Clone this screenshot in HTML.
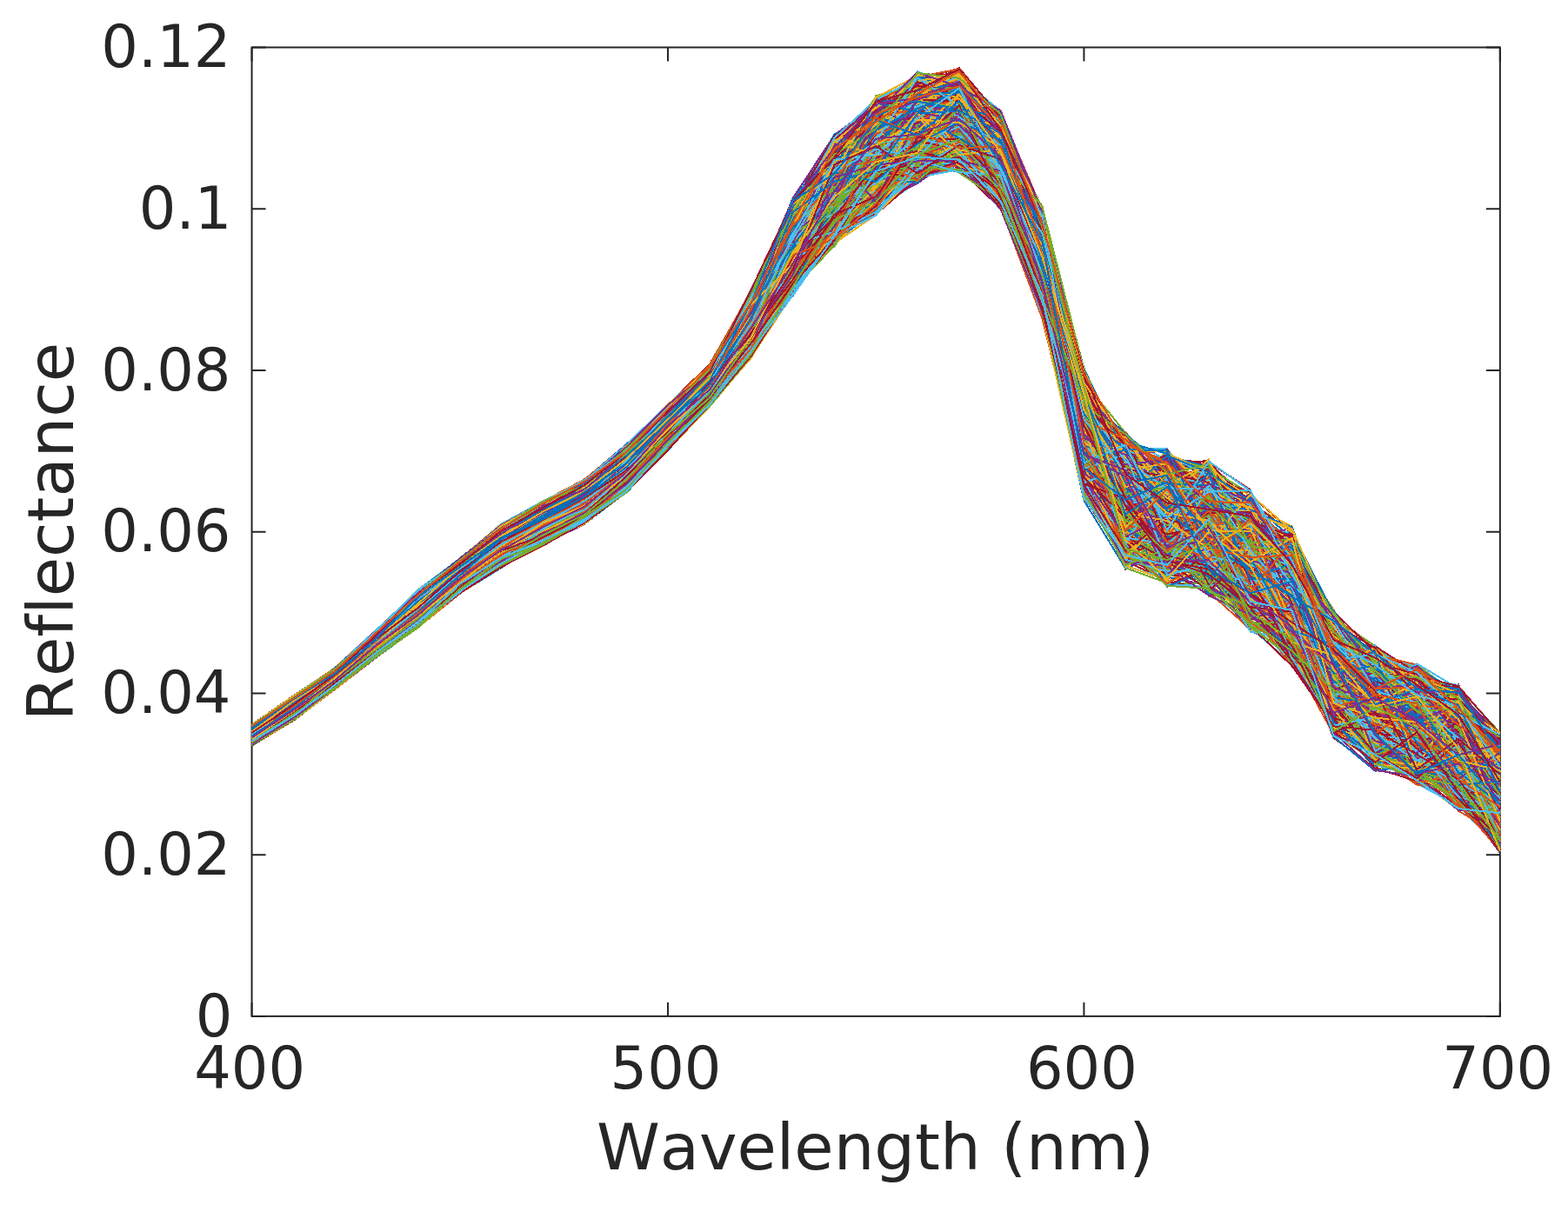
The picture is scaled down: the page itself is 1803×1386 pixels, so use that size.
<!DOCTYPE html>
<html><head><meta charset="utf-8"><style>
html,body{margin:0;padding:0;background:#fff;width:1803px;height:1386px;overflow:hidden;}
svg{display:block;}
text{font-family:"DejaVu Sans","Liberation Sans",sans-serif;fill:#262626;font-variant-ligatures:none;font-kerning:none;font-feature-settings:"liga" 0,"clig" 0,"kern" 0;}
</style></head><body>
<svg width="1803" height="1386" viewBox="0 0 1803 1386">
<defs><clipPath id="c"><rect x="288.55" y="53.50" width="1437.30" height="1116.40"/></clipPath></defs>
<rect width="1803" height="1386" fill="#fff"/>
<path d="M289.55 1168.90H305.55M1724.85 1168.90H1708.85M289.55 983.17H305.55M1724.85 983.17H1708.85M289.55 797.43H305.55M1724.85 797.43H1708.85M289.55 611.70H305.55M1724.85 611.70H1708.85M289.55 425.97H305.55M1724.85 425.97H1708.85M289.55 240.23H305.55M1724.85 240.23H1708.85M289.55 54.50H305.55M1724.85 54.50H1708.85M289.55 1168.90V1152.90M289.55 54.50V70.50M767.98 1168.90V1152.90M767.98 54.50V70.50M1246.42 1168.90V1152.90M1246.42 54.50V70.50M1724.85 1168.90V1152.90M1724.85 54.50V70.50" stroke="#262626" stroke-width="2" fill="none"/>
<rect x="289.55" y="54.50" width="1435.30" height="1114.40" fill="none" stroke="#262626" stroke-width="2"/>
<g fill="none" stroke-width="2.0" stroke-linejoin="miter" shape-rendering="crispEdges" clip-path="url(#c)">
<polyline points="289.6,836.9 337.4,805.8 385.2,771.6 433.1,728.3 480.9,683.7 528.8,650.6 576.6,609.3 624.5,580.9 672.3,555.3 720.1,515.3 768.0,475.8 815.8,420.8 863.7,340.0 911.5,257.2 959.4,204.6 1007.2,130.0 1055.0,117.1 1102.9,112.8 1150.7,162.7 1198.6,253.4 1246.4,511.3 1294.3,534.1 1342.1,605.0 1389.9,537.6 1437.8,626.6 1485.6,612.6 1533.5,705.7 1581.3,785.4 1629.2,775.0 1677.0,828.2 1724.8,847.6" stroke="#0072BD"/>
<polyline points="289.6,839.0 337.4,805.3 385.2,771.2 433.1,730.3 480.9,688.7 528.8,648.0 576.6,613.9 624.5,592.0 672.3,564.5 720.1,523.6 768.0,474.5 815.8,432.2 863.7,341.6 911.5,228.8 959.4,178.7 1007.2,127.4 1055.0,161.0 1102.9,116.4 1150.7,144.3 1198.6,260.4 1246.4,495.2 1294.3,524.8 1342.1,552.7 1389.9,584.0 1437.8,622.1 1485.6,671.6 1533.5,757.5 1581.3,845.0 1629.2,870.4 1677.0,800.4 1724.8,969.0" stroke="#D95319"/>
<polyline points="289.6,851.6 337.4,823.1 385.2,785.5 433.1,748.0 480.9,711.0 528.8,672.8 576.6,642.6 624.5,617.1 672.3,587.9 720.1,552.6 768.0,507.9 815.8,458.1 863.7,391.6 911.5,307.4 959.4,249.9 1007.2,188.6 1055.0,147.9 1102.9,192.9 1150.7,210.9 1198.6,343.6 1246.4,510.4 1294.3,644.8 1342.1,669.3 1389.9,640.2 1437.8,704.0 1485.6,699.1 1533.5,845.5 1581.3,874.5 1629.2,842.7 1677.0,923.1 1724.8,954.6" stroke="#EDB120"/>
<polyline points="289.6,847.8 337.4,816.7 385.2,781.1 433.1,740.4 480.9,704.3 528.8,664.0 576.6,627.6 624.5,611.5 672.3,579.5 720.1,540.8 768.0,493.5 815.8,449.0 863.7,387.1 911.5,297.6 959.4,251.4 1007.2,151.1 1055.0,145.4 1102.9,140.0 1150.7,196.6 1198.6,318.9 1246.4,444.8 1294.3,654.6 1342.1,577.0 1389.9,634.3 1437.8,689.5 1485.6,730.0 1533.5,795.1 1581.3,748.8 1629.2,806.0 1677.0,899.3 1724.8,897.7" stroke="#7E2F8E"/>
<polyline points="289.6,838.0 337.4,804.1 385.2,775.4 433.1,731.9 480.9,686.6 528.8,650.1 576.6,612.2 624.5,583.2 672.3,559.7 720.1,522.2 768.0,475.0 815.8,430.7 863.7,346.2 911.5,240.5 959.4,187.6 1007.2,123.1 1055.0,86.6 1102.9,122.3 1150.7,139.6 1198.6,252.4 1246.4,474.2 1294.3,500.8 1342.1,565.2 1389.9,569.4 1437.8,590.4 1485.6,645.3 1533.5,711.5 1581.3,743.0 1629.2,782.7 1677.0,795.9 1724.8,888.1" stroke="#77AC30"/>
<polyline points="289.6,841.4 337.4,808.9 385.2,776.9 433.1,737.7 480.9,696.8 528.8,657.7 576.6,622.5 624.5,594.5 672.3,570.5 720.1,533.8 768.0,485.7 815.8,439.4 863.7,355.1 911.5,243.1 959.4,174.0 1007.2,164.6 1055.0,170.3 1102.9,164.2 1150.7,156.0 1198.6,275.9 1246.4,528.1 1294.3,593.1 1342.1,546.9 1389.9,645.5 1437.8,653.8 1485.6,734.5 1533.5,789.0 1581.3,850.7 1629.2,845.7 1677.0,831.9 1724.8,909.8" stroke="#4DBEEE"/>
<polyline points="289.6,842.9 337.4,814.1 385.2,777.8 433.1,735.7 480.9,699.4 528.8,662.5 576.6,629.6 624.5,603.1 672.3,570.0 720.1,533.7 768.0,487.6 815.8,441.6 863.7,349.6 911.5,278.4 959.4,228.0 1007.2,152.1 1055.0,144.4 1102.9,168.0 1150.7,186.6 1198.6,316.1 1246.4,540.4 1294.3,592.8 1342.1,613.4 1389.9,594.5 1437.8,692.8 1485.6,670.6 1533.5,747.4 1581.3,841.9 1629.2,807.4 1677.0,880.1 1724.8,945.1" stroke="#A2142F"/>
<polyline points="289.6,839.1 337.4,807.2 385.2,774.8 433.1,732.8 480.9,685.0 528.8,648.1 576.6,615.9 624.5,588.1 672.3,556.4 720.1,518.9 768.0,475.5 815.8,426.4 863.7,352.0 911.5,252.9 959.4,197.3 1007.2,118.9 1055.0,121.4 1102.9,151.2 1150.7,138.1 1198.6,280.0 1246.4,495.8 1294.3,559.2 1342.1,552.4 1389.9,539.7 1437.8,579.0 1485.6,673.2 1533.5,763.3 1581.3,816.1 1629.2,820.3 1677.0,848.7 1724.8,865.0" stroke="#0072BD"/>
<polyline points="289.6,846.6 337.4,818.4 385.2,784.8 433.1,744.9 480.9,702.8 528.8,667.3 576.6,631.2 624.5,610.9 672.3,582.5 720.1,548.8 768.0,502.2 815.8,452.7 863.7,399.8 911.5,279.1 959.4,191.7 1007.2,227.1 1055.0,197.0 1102.9,188.9 1150.7,217.4 1198.6,341.5 1246.4,538.9 1294.3,560.1 1342.1,610.6 1389.9,655.6 1437.8,662.2 1485.6,761.2 1533.5,751.4 1581.3,835.3 1629.2,886.7 1677.0,879.3 1724.8,910.3" stroke="#D95319"/>
<polyline points="289.6,838.3 337.4,806.8 385.2,777.1 433.1,733.0 480.9,690.1 528.8,650.4 576.6,615.3 624.5,587.8 672.3,559.2 720.1,520.8 768.0,475.4 815.8,431.5 863.7,347.0 911.5,258.7 959.4,231.6 1007.2,121.0 1055.0,88.1 1102.9,119.5 1150.7,153.1 1198.6,250.7 1246.4,462.5 1294.3,518.1 1342.1,564.2 1389.9,550.5 1437.8,613.4 1485.6,611.4 1533.5,711.0 1581.3,768.4 1629.2,777.4 1677.0,828.4 1724.8,864.4" stroke="#EDB120"/>
<polyline points="289.6,844.7 337.4,814.4 385.2,779.2 433.1,736.4 480.9,695.8 528.8,658.9 576.6,624.7 624.5,598.7 672.3,576.6 720.1,536.9 768.0,493.8 815.8,443.3 863.7,363.9 911.5,311.1 959.4,240.0 1007.2,157.5 1055.0,139.1 1102.9,155.9 1150.7,178.5 1198.6,301.1 1246.4,499.6 1294.3,589.1 1342.1,566.4 1389.9,604.7 1437.8,605.4 1485.6,693.8 1533.5,712.8 1581.3,805.6 1629.2,853.1 1677.0,859.3 1724.8,892.2" stroke="#7E2F8E"/>
<polyline points="289.6,844.2 337.4,810.4 385.2,777.7 433.1,737.5 480.9,697.5 528.8,662.2 576.6,622.9 624.5,603.2 672.3,570.4 720.1,534.0 768.0,489.9 815.8,446.0 863.7,366.4 911.5,241.7 959.4,234.9 1007.2,184.0 1055.0,120.1 1102.9,117.3 1150.7,173.4 1198.6,309.5 1246.4,535.0 1294.3,528.7 1342.1,666.4 1389.9,619.2 1437.8,637.1 1485.6,724.2 1533.5,791.1 1581.3,884.7 1629.2,876.6 1677.0,860.7 1724.8,912.0" stroke="#77AC30"/>
<polyline points="289.6,846.7 337.4,815.9 385.2,783.0 433.1,739.8 480.9,706.2 528.8,663.0 576.6,627.9 624.5,605.3 672.3,571.1 720.1,534.3 768.0,492.2 815.8,442.3 863.7,370.3 911.5,286.6 959.4,200.3 1007.2,171.0 1055.0,108.4 1102.9,93.0 1150.7,206.0 1198.6,277.2 1246.4,463.1 1294.3,617.0 1342.1,624.6 1389.9,571.0 1437.8,601.2 1485.6,665.2 1533.5,727.3 1581.3,814.4 1629.2,813.4 1677.0,843.6 1724.8,913.9" stroke="#4DBEEE"/>
<polyline points="289.6,851.9 337.4,823.1 385.2,787.1 433.1,742.1 480.9,709.6 528.8,665.4 576.6,630.6 624.5,611.6 672.3,581.3 720.1,544.9 768.0,501.4 815.8,446.9 863.7,373.7 911.5,302.3 959.4,258.7 1007.2,205.3 1055.0,115.8 1102.9,132.0 1150.7,190.1 1198.6,337.8 1246.4,542.8 1294.3,615.1 1342.1,642.5 1389.9,599.1 1437.8,667.9 1485.6,706.8 1533.5,738.7 1581.3,813.8 1629.2,849.0 1677.0,821.3 1724.8,934.7" stroke="#A2142F"/>
<polyline points="289.6,852.4 337.4,822.6 385.2,785.2 433.1,747.2 480.9,712.9 528.8,673.9 576.6,636.3 624.5,614.2 672.3,592.8 720.1,550.7 768.0,505.0 815.8,462.1 863.7,389.9 911.5,305.4 959.4,225.7 1007.2,191.3 1055.0,199.9 1102.9,163.7 1150.7,183.9 1198.6,316.4 1246.4,530.8 1294.3,627.9 1342.1,597.5 1389.9,657.2 1437.8,658.0 1485.6,727.7 1533.5,822.1 1581.3,861.2 1629.2,842.4 1677.0,884.1 1724.8,947.9" stroke="#0072BD"/>
<polyline points="289.6,852.7 337.4,824.6 385.2,789.7 433.1,753.2 480.9,715.8 528.8,677.3 576.6,646.9 624.5,619.9 672.3,596.2 720.1,562.7 768.0,514.8 815.8,460.2 863.7,400.5 911.5,278.2 959.4,278.4 1007.2,218.9 1055.0,193.2 1102.9,164.4 1150.7,223.7 1198.6,360.0 1246.4,569.9 1294.3,584.5 1342.1,662.3 1389.9,654.0 1437.8,676.3 1485.6,750.8 1533.5,821.1 1581.3,858.2 1629.2,861.1 1677.0,913.2 1724.8,958.8" stroke="#D95319"/>
<polyline points="289.6,839.4 337.4,806.1 385.2,774.0 433.1,733.2 480.9,693.0 528.8,652.8 576.6,619.8 624.5,589.7 672.3,562.1 720.1,528.8 768.0,476.9 815.8,434.7 863.7,365.5 911.5,254.3 959.4,195.2 1007.2,218.4 1055.0,125.4 1102.9,123.2 1150.7,181.9 1198.6,277.5 1246.4,473.9 1294.3,567.8 1342.1,517.8 1389.9,638.4 1437.8,588.3 1485.6,628.5 1533.5,770.2 1581.3,795.9 1629.2,783.6 1677.0,847.3 1724.8,864.1" stroke="#EDB120"/>
<polyline points="289.6,851.9 337.4,819.7 385.2,785.9 433.1,748.7 480.9,711.1 528.8,673.0 576.6,641.4 624.5,613.2 672.3,586.2 720.1,549.0 768.0,506.4 815.8,452.1 863.7,388.2 911.5,295.9 959.4,244.0 1007.2,209.1 1055.0,158.5 1102.9,150.7 1150.7,179.0 1198.6,301.6 1246.4,525.7 1294.3,614.2 1342.1,635.5 1389.9,619.5 1437.8,612.8 1485.6,716.3 1533.5,797.4 1581.3,767.5 1629.2,857.8 1677.0,883.3 1724.8,957.3" stroke="#7E2F8E"/>
<polyline points="289.6,850.4 337.4,819.4 385.2,787.4 433.1,744.5 480.9,708.6 528.8,669.7 576.6,635.5 624.5,607.2 672.3,588.0 720.1,553.3 768.0,503.9 815.8,454.0 863.7,384.2 911.5,329.4 959.4,254.3 1007.2,225.5 1055.0,125.9 1102.9,169.2 1150.7,176.5 1198.6,327.8 1246.4,527.8 1294.3,553.3 1342.1,624.3 1389.9,661.3 1437.8,681.4 1485.6,725.8 1533.5,755.8 1581.3,804.2 1629.2,805.8 1677.0,881.8 1724.8,954.1" stroke="#77AC30"/>
<polyline points="289.6,839.5 337.4,806.9 385.2,773.1 433.1,732.8 480.9,688.9 528.8,648.3 576.6,610.1 624.5,588.7 672.3,562.4 720.1,530.6 768.0,479.6 815.8,430.4 863.7,351.2 911.5,295.2 959.4,177.4 1007.2,179.7 1055.0,131.0 1102.9,155.7 1150.7,177.6 1198.6,275.4 1246.4,498.2 1294.3,558.9 1342.1,615.2 1389.9,587.7 1437.8,699.2 1485.6,664.9 1533.5,771.7 1581.3,775.2 1629.2,817.3 1677.0,847.0 1724.8,906.2" stroke="#4DBEEE"/>
<polyline points="289.6,837.3 337.4,802.5 385.2,769.7 433.1,729.2 480.9,681.4 528.8,644.4 576.6,609.2 624.5,581.6 672.3,551.1 720.1,514.0 768.0,470.6 815.8,424.7 863.7,337.3 911.5,267.6 959.4,159.6 1007.2,122.7 1055.0,100.4 1102.9,93.3 1150.7,151.9 1198.6,258.7 1246.4,448.9 1294.3,571.5 1342.1,526.2 1389.9,549.1 1437.8,649.0 1485.6,631.7 1533.5,750.8 1581.3,756.9 1629.2,782.3 1677.0,805.8 1724.8,869.1" stroke="#A2142F"/>
<polyline points="289.6,857.3 337.4,828.2 385.2,792.6 433.1,755.9 480.9,721.3 528.8,682.4 576.6,652.9 624.5,623.5 672.3,596.8 720.1,566.6 768.0,517.9 815.8,466.6 863.7,408.0 911.5,310.9 959.4,240.2 1007.2,233.1 1055.0,160.2 1102.9,192.5 1150.7,216.1 1198.6,357.0 1246.4,575.6 1294.3,653.9 1342.1,634.9 1389.9,675.3 1437.8,657.0 1485.6,713.7 1533.5,827.2 1581.3,884.1 1629.2,851.8 1677.0,911.5 1724.8,947.3" stroke="#0072BD"/>
<polyline points="289.6,842.6 337.4,812.8 385.2,781.5 433.1,737.8 480.9,698.2 528.8,660.9 576.6,620.0 624.5,599.5 672.3,575.5 720.1,536.5 768.0,488.1 815.8,435.3 863.7,354.3 911.5,249.3 959.4,180.1 1007.2,136.8 1055.0,145.1 1102.9,152.3 1150.7,149.4 1198.6,284.6 1246.4,437.9 1294.3,532.5 1342.1,534.5 1389.9,535.4 1437.8,605.0 1485.6,653.5 1533.5,729.5 1581.3,765.6 1629.2,777.8 1677.0,818.6 1724.8,862.9" stroke="#D95319"/>
<polyline points="289.6,843.1 337.4,809.2 385.2,778.4 433.1,737.4 480.9,698.1 528.8,659.7 576.6,620.8 624.5,592.1 672.3,564.1 720.1,530.0 768.0,487.5 815.8,440.1 863.7,340.9 911.5,249.5 959.4,191.9 1007.2,133.4 1055.0,127.5 1102.9,118.3 1150.7,152.4 1198.6,278.2 1246.4,433.3 1294.3,519.2 1342.1,542.9 1389.9,618.0 1437.8,571.3 1485.6,651.3 1533.5,773.7 1581.3,787.4 1629.2,831.2 1677.0,812.0 1724.8,901.0" stroke="#EDB120"/>
<polyline points="289.6,852.6 337.4,824.3 385.2,787.2 433.1,750.3 480.9,711.6 528.8,674.2 576.6,645.7 624.5,618.3 672.3,596.3 720.1,558.2 768.0,515.7 815.8,466.4 863.7,391.7 911.5,340.7 959.4,268.2 1007.2,229.3 1055.0,182.3 1102.9,189.3 1150.7,204.2 1198.6,344.2 1246.4,523.3 1294.3,632.5 1342.1,663.8 1389.9,673.3 1437.8,708.4 1485.6,723.2 1533.5,764.4 1581.3,872.9 1629.2,881.1 1677.0,917.6 1724.8,980.7" stroke="#7E2F8E"/>
<polyline points="289.6,851.1 337.4,820.1 385.2,782.1 433.1,747.4 480.9,708.3 528.8,668.0 576.6,636.9 624.5,606.6 672.3,582.7 720.1,552.5 768.0,500.9 815.8,451.9 863.7,387.7 911.5,308.5 959.4,238.2 1007.2,238.2 1055.0,152.7 1102.9,166.3 1150.7,187.7 1198.6,302.4 1246.4,431.8 1294.3,516.1 1342.1,648.8 1389.9,658.6 1437.8,623.4 1485.6,685.2 1533.5,794.0 1581.3,775.7 1629.2,879.9 1677.0,819.8 1724.8,884.3" stroke="#77AC30"/>
<polyline points="289.6,839.9 337.4,815.3 385.2,779.3 433.1,741.3 480.9,695.6 528.8,661.1 576.6,625.9 624.5,599.9 672.3,580.8 720.1,543.9 768.0,494.7 815.8,440.4 863.7,378.9 911.5,309.6 959.4,233.4 1007.2,191.8 1055.0,153.9 1102.9,114.5 1150.7,189.9 1198.6,322.5 1246.4,462.8 1294.3,579.9 1342.1,628.0 1389.9,558.7 1437.8,634.6 1485.6,627.7 1533.5,748.5 1581.3,768.1 1629.2,800.0 1677.0,842.7 1724.8,904.6" stroke="#4DBEEE"/>
<polyline points="289.6,848.3 337.4,813.9 385.2,786.1 433.1,744.2 480.9,704.0 528.8,667.6 576.6,637.1 624.5,608.2 672.3,586.0 720.1,548.9 768.0,504.6 815.8,452.0 863.7,395.4 911.5,315.6 959.4,246.6 1007.2,233.4 1055.0,175.6 1102.9,142.4 1150.7,220.0 1198.6,340.9 1246.4,538.0 1294.3,623.6 1342.1,673.2 1389.9,652.4 1437.8,701.0 1485.6,721.3 1533.5,840.5 1581.3,854.7 1629.2,845.5 1677.0,861.3 1724.8,962.7" stroke="#A2142F"/>
<polyline points="289.6,834.7 337.4,800.1 385.2,768.7 433.1,726.5 480.9,681.9 528.8,642.1 576.6,603.6 624.5,580.5 672.3,552.7 720.1,513.2 768.0,467.1 815.8,419.6 863.7,341.1 911.5,244.6 959.4,154.3 1007.2,130.3 1055.0,118.9 1102.9,98.7 1150.7,159.4 1198.6,243.1 1246.4,499.4 1294.3,512.4 1342.1,619.9 1389.9,549.4 1437.8,578.5 1485.6,618.5 1533.5,722.8 1581.3,760.6 1629.2,780.3 1677.0,808.8 1724.8,895.8" stroke="#0072BD"/>
<polyline points="289.6,852.9 337.4,820.9 385.2,788.2 433.1,746.3 480.9,708.1 528.8,669.8 576.6,640.8 624.5,608.6 672.3,584.8 720.1,555.0 768.0,508.8 815.8,457.5 863.7,376.0 911.5,305.2 959.4,261.2 1007.2,207.2 1055.0,125.7 1102.9,154.0 1150.7,163.8 1198.6,305.9 1246.4,574.3 1294.3,622.0 1342.1,562.7 1389.9,569.7 1437.8,680.8 1485.6,681.7 1533.5,812.5 1581.3,806.1 1629.2,838.1 1677.0,886.4 1724.8,893.1" stroke="#D95319"/>
<polyline points="289.6,838.5 337.4,807.7 385.2,775.1 433.1,733.9 480.9,692.5 528.8,656.1 576.6,620.6 624.5,590.9 672.3,574.1 720.1,537.1 768.0,485.2 815.8,436.8 863.7,374.9 911.5,282.6 959.4,210.2 1007.2,163.2 1055.0,113.5 1102.9,101.8 1150.7,189.7 1198.6,306.2 1246.4,454.6 1294.3,560.7 1342.1,591.6 1389.9,580.6 1437.8,598.5 1485.6,660.5 1533.5,711.9 1581.3,801.9 1629.2,810.4 1677.0,913.9 1724.8,933.9" stroke="#EDB120"/>
<polyline points="289.6,838.4 337.4,806.7 385.2,775.9 433.1,733.5 480.9,688.3 528.8,649.6 576.6,608.6 624.5,585.0 672.3,559.5 720.1,518.5 768.0,478.3 815.8,422.0 863.7,344.3 911.5,253.4 959.4,186.6 1007.2,179.9 1055.0,84.6 1102.9,87.7 1150.7,145.8 1198.6,251.1 1246.4,441.5 1294.3,510.1 1342.1,581.7 1389.9,534.8 1437.8,576.1 1485.6,683.3 1533.5,779.5 1581.3,791.1 1629.2,770.6 1677.0,796.4 1724.8,845.5" stroke="#7E2F8E"/>
<polyline points="289.6,847.7 337.4,818.0 385.2,785.9 433.1,745.2 480.9,704.5 528.8,665.8 576.6,631.4 624.5,613.4 672.3,578.2 720.1,548.0 768.0,495.5 815.8,447.2 863.7,370.9 911.5,319.3 959.4,236.7 1007.2,244.7 1055.0,133.8 1102.9,129.4 1150.7,213.6 1198.6,329.3 1246.4,504.7 1294.3,521.7 1342.1,653.0 1389.9,644.9 1437.8,678.8 1485.6,682.0 1533.5,814.9 1581.3,810.7 1629.2,847.6 1677.0,871.6 1724.8,961.3" stroke="#77AC30"/>
<polyline points="289.6,855.8 337.4,826.4 385.2,792.2 433.1,754.3 480.9,719.9 528.8,679.7 576.6,651.8 624.5,622.2 672.3,600.4 720.1,566.1 768.0,515.9 815.8,462.2 863.7,394.6 911.5,324.6 959.4,238.4 1007.2,187.8 1055.0,170.1 1102.9,158.7 1150.7,232.6 1198.6,328.8 1246.4,575.0 1294.3,593.8 1342.1,640.2 1389.9,664.9 1437.8,695.5 1485.6,746.2 1533.5,776.3 1581.3,773.4 1629.2,859.1 1677.0,837.0 1724.8,925.6" stroke="#4DBEEE"/>
<polyline points="289.6,837.5 337.4,803.6 385.2,770.6 433.1,726.9 480.9,684.0 528.8,647.5 576.6,606.5 624.5,585.5 672.3,557.0 720.1,521.5 768.0,472.9 815.8,431.3 863.7,355.6 911.5,251.6 959.4,184.0 1007.2,156.2 1055.0,144.1 1102.9,134.1 1150.7,158.7 1198.6,276.7 1246.4,530.2 1294.3,502.7 1342.1,585.4 1389.9,553.4 1437.8,672.4 1485.6,643.7 1533.5,744.8 1581.3,761.7 1629.2,809.6 1677.0,869.6 1724.8,945.7" stroke="#A2142F"/>
<polyline points="289.6,843.3 337.4,813.6 385.2,786.2 433.1,742.0 480.9,701.1 528.8,664.8 576.6,621.4 624.5,609.4 672.3,580.0 720.1,537.7 768.0,499.1 815.8,445.4 863.7,371.0 911.5,305.8 959.4,244.3 1007.2,184.3 1055.0,156.5 1102.9,123.5 1150.7,166.1 1198.6,335.5 1246.4,560.2 1294.3,614.5 1342.1,631.4 1389.9,618.9 1437.8,667.3 1485.6,677.0 1533.5,839.0 1581.3,820.9 1629.2,868.2 1677.0,889.8 1724.8,893.9" stroke="#0072BD"/>
<polyline points="289.6,841.1 337.4,806.1 385.2,773.3 433.1,731.5 480.9,687.8 528.8,652.1 576.6,612.6 624.5,590.7 672.3,565.3 720.1,522.5 768.0,484.0 815.8,434.0 863.7,346.9 911.5,268.0 959.4,207.4 1007.2,205.9 1055.0,107.3 1102.9,140.7 1150.7,162.3 1198.6,290.2 1246.4,472.4 1294.3,556.7 1342.1,596.9 1389.9,553.0 1437.8,566.9 1485.6,671.3 1533.5,742.4 1581.3,803.6 1629.2,840.8 1677.0,840.7 1724.8,939.9" stroke="#D95319"/>
<polyline points="289.6,852.2 337.4,821.9 385.2,787.8 433.1,748.9 480.9,710.7 528.8,673.4 576.6,637.7 624.5,612.9 672.3,590.5 720.1,554.5 768.0,502.9 815.8,457.2 863.7,405.7 911.5,338.8 959.4,249.1 1007.2,228.3 1055.0,182.8 1102.9,178.8 1150.7,221.7 1198.6,338.6 1246.4,551.8 1294.3,613.6 1342.1,616.8 1389.9,643.6 1437.8,689.8 1485.6,749.5 1533.5,814.0 1581.3,863.1 1629.2,886.4 1677.0,852.4 1724.8,925.4" stroke="#EDB120"/>
<polyline points="289.6,849.2 337.4,817.8 385.2,782.0 433.1,746.2 480.9,706.0 528.8,665.1 576.6,640.2 624.5,606.0 672.3,585.8 720.1,546.3 768.0,501.3 815.8,453.6 863.7,380.1 911.5,303.6 959.4,243.3 1007.2,183.5 1055.0,192.3 1102.9,171.6 1150.7,205.5 1198.6,321.2 1246.4,518.2 1294.3,615.4 1342.1,614.0 1389.9,672.4 1437.8,589.3 1485.6,642.4 1533.5,798.9 1581.3,784.9 1629.2,863.0 1677.0,876.1 1724.8,957.6" stroke="#7E2F8E"/>
<polyline points="289.6,836.6 337.4,805.5 385.2,772.5 433.1,730.4 480.9,685.6 528.8,649.9 576.6,610.9 624.5,582.7 672.3,556.5 720.1,517.4 768.0,476.1 815.8,422.9 863.7,350.4 911.5,242.0 959.4,205.9 1007.2,153.0 1055.0,103.0 1102.9,113.1 1150.7,130.2 1198.6,279.5 1246.4,492.8 1294.3,501.4 1342.1,607.8 1389.9,584.3 1437.8,628.2 1485.6,623.8 1533.5,780.1 1581.3,822.0 1629.2,814.8 1677.0,817.8 1724.8,926.5" stroke="#77AC30"/>
<polyline points="289.6,855.1 337.4,824.7 385.2,790.0 433.1,749.3 480.9,714.6 528.8,677.1 576.6,644.6 624.5,626.8 672.3,594.6 720.1,555.1 768.0,512.1 815.8,455.9 863.7,400.4 911.5,329.1 959.4,247.4 1007.2,213.2 1055.0,160.0 1102.9,176.5 1150.7,205.3 1198.6,360.4 1246.4,557.1 1294.3,608.9 1342.1,582.6 1389.9,682.2 1437.8,714.9 1485.6,739.2 1533.5,819.6 1581.3,856.5 1629.2,849.3 1677.0,928.9 1724.8,946.5" stroke="#4DBEEE"/>
<polyline points="289.6,846.9 337.4,817.5 385.2,780.4 433.1,746.0 480.9,708.5 528.8,672.7 576.6,640.7 624.5,606.7 672.3,586.8 720.1,550.3 768.0,501.8 815.8,449.3 863.7,392.8 911.5,311.8 959.4,268.6 1007.2,199.6 1055.0,157.2 1102.9,148.8 1150.7,195.5 1198.6,310.8 1246.4,507.7 1294.3,617.9 1342.1,633.9 1389.9,667.3 1437.8,705.5 1485.6,730.3 1533.5,751.7 1581.3,855.9 1629.2,880.8 1677.0,835.3 1724.8,898.3" stroke="#A2142F"/>
<polyline points="289.6,851.5 337.4,820.5 385.2,786.4 433.1,746.8 480.9,711.9 528.8,670.1 576.6,638.9 624.5,612.3 672.3,586.1 720.1,554.0 768.0,502.3 815.8,454.6 863.7,384.3 911.5,319.0 959.4,255.6 1007.2,197.5 1055.0,119.9 1102.9,175.7 1150.7,218.1 1198.6,323.0 1246.4,529.6 1294.3,601.8 1342.1,623.0 1389.9,587.1 1437.8,661.8 1485.6,714.4 1533.5,759.8 1581.3,793.9 1629.2,888.6 1677.0,893.0 1724.8,911.4" stroke="#0072BD"/>
<polyline points="289.6,854.5 337.4,821.7 385.2,788.3 433.1,752.1 480.9,720.1 528.8,673.7 576.6,644.4 624.5,625.9 672.3,597.2 720.1,559.7 768.0,514.4 815.8,459.2 863.7,397.0 911.5,328.2 959.4,272.1 1007.2,191.0 1055.0,203.1 1102.9,130.6 1150.7,201.9 1198.6,366.1 1246.4,513.4 1294.3,628.2 1342.1,588.5 1389.9,628.8 1437.8,646.8 1485.6,698.2 1533.5,824.6 1581.3,881.8 1629.2,878.4 1677.0,920.4 1724.8,914.7" stroke="#D95319"/>
<polyline points="289.6,844.0 337.4,811.1 385.2,779.1 433.1,735.5 480.9,694.2 528.8,660.8 576.6,624.1 624.5,596.5 672.3,569.5 720.1,532.6 768.0,487.8 815.8,441.1 863.7,361.0 911.5,266.9 959.4,226.8 1007.2,144.0 1055.0,161.8 1102.9,133.9 1150.7,176.3 1198.6,263.6 1246.4,444.1 1294.3,531.9 1342.1,572.3 1389.9,564.8 1437.8,659.3 1485.6,690.3 1533.5,758.6 1581.3,757.3 1629.2,874.6 1677.0,850.7 1724.8,930.6" stroke="#EDB120"/>
<polyline points="289.6,853.3 337.4,824.7 385.2,790.1 433.1,751.4 480.9,717.5 528.8,675.9 576.6,649.4 624.5,612.5 672.3,591.1 720.1,558.5 768.0,505.7 815.8,455.3 863.7,378.1 911.5,331.6 959.4,203.6 1007.2,222.3 1055.0,176.4 1102.9,179.6 1150.7,230.9 1198.6,316.9 1246.4,492.5 1294.3,588.8 1342.1,553.3 1389.9,653.7 1437.8,648.0 1485.6,711.5 1533.5,746.5 1581.3,830.8 1629.2,818.9 1677.0,870.4 1724.8,888.4" stroke="#7E2F8E"/>
<polyline points="289.6,854.1 337.4,822.5 385.2,785.0 433.1,751.1 480.9,713.0 528.8,674.1 576.6,650.6 624.5,618.6 672.3,590.6 720.1,555.5 768.0,510.8 815.8,459.1 863.7,407.2 911.5,334.5 959.4,242.5 1007.2,222.6 1055.0,193.5 1102.9,171.1 1150.7,212.7 1198.6,357.8 1246.4,553.5 1294.3,569.0 1342.1,622.1 1389.9,637.7 1437.8,684.0 1485.6,704.5 1533.5,842.0 1581.3,823.1 1629.2,834.8 1677.0,906.4 1724.8,883.5" stroke="#77AC30"/>
<polyline points="289.6,838.0 337.4,807.8 385.2,772.5 433.1,730.2 480.9,690.2 528.8,651.4 576.6,612.8 624.5,587.1 672.3,558.8 720.1,522.3 768.0,473.2 815.8,434.2 863.7,349.5 911.5,242.2 959.4,179.0 1007.2,135.1 1055.0,85.6 1102.9,86.2 1150.7,175.2 1198.6,239.0 1246.4,439.6 1294.3,561.9 1342.1,599.7 1389.9,536.0 1437.8,640.7 1485.6,624.6 1533.5,777.2 1581.3,777.5 1629.2,783.0 1677.0,829.6 1724.8,879.6" stroke="#4DBEEE"/>
<polyline points="289.6,851.3 337.4,825.3 385.2,786.5 433.1,750.7 480.9,711.2 528.8,670.3 576.6,638.7 624.5,617.0 672.3,593.9 720.1,562.3 768.0,508.5 815.8,457.6 863.7,384.9 911.5,314.9 959.4,263.1 1007.2,165.6 1055.0,202.3 1102.9,190.1 1150.7,240.2 1198.6,332.4 1246.4,545.0 1294.3,619.8 1342.1,587.3 1389.9,622.9 1437.8,653.5 1485.6,743.5 1533.5,827.5 1581.3,882.4 1629.2,858.3 1677.0,854.1 1724.8,960.4" stroke="#A2142F"/>
<polyline points="289.6,841.0 337.4,809.7 385.2,778.1 433.1,733.3 480.9,695.0 528.8,653.4 576.6,619.3 624.5,595.9 672.3,568.7 720.1,531.2 768.0,479.9 815.8,435.9 863.7,363.5 911.5,246.9 959.4,186.3 1007.2,225.8 1055.0,138.3 1102.9,109.3 1150.7,151.7 1198.6,311.5 1246.4,424.7 1294.3,553.6 1342.1,611.2 1389.9,575.6 1437.8,656.7 1485.6,640.1 1533.5,760.4 1581.3,808.4 1629.2,821.6 1677.0,857.3 1724.8,908.7" stroke="#0072BD"/>
<polyline points="289.6,842.4 337.4,809.1 385.2,775.5 433.1,734.8 480.9,692.9 528.8,653.6 576.6,615.1 624.5,591.3 672.3,572.9 720.1,530.8 768.0,485.9 815.8,447.9 863.7,378.8 911.5,270.2 959.4,198.5 1007.2,210.5 1055.0,119.1 1102.9,167.0 1150.7,197.0 1198.6,322.2 1246.4,473.3 1294.3,612.6 1342.1,536.8 1389.9,602.8 1437.8,688.5 1485.6,717.8 1533.5,723.8 1581.3,847.3 1629.2,852.8 1677.0,867.9 1724.8,899.6" stroke="#D95319"/>
<polyline points="289.6,837.8 337.4,805.2 385.2,774.2 433.1,730.9 480.9,689.2 528.8,650.9 576.6,608.7 624.5,586.3 672.3,566.4 720.1,518.1 768.0,474.4 815.8,425.5 863.7,341.3 911.5,250.4 959.4,201.6 1007.2,155.9 1055.0,114.8 1102.9,119.7 1150.7,129.3 1198.6,271.4 1246.4,468.8 1294.3,523.8 1342.1,549.8 1389.9,541.1 1437.8,635.9 1485.6,620.8 1533.5,706.3 1581.3,770.8 1629.2,782.0 1677.0,813.6 1724.8,917.4" stroke="#EDB120"/>
<polyline points="289.6,850.9 337.4,820.5 385.2,788.5 433.1,743.9 480.9,709.7 528.8,673.8 576.6,641.8 624.5,618.5 672.3,585.2 720.1,551.3 768.0,501.2 815.8,451.3 863.7,379.7 911.5,266.0 959.4,247.9 1007.2,219.2 1055.0,134.8 1102.9,174.7 1150.7,190.4 1198.6,308.0 1246.4,433.8 1294.3,628.6 1342.1,636.7 1389.9,613.6 1437.8,642.9 1485.6,653.2 1533.5,808.1 1581.3,827.4 1629.2,862.2 1677.0,883.0 1724.8,882.1" stroke="#7E2F8E"/>
<polyline points="289.6,838.8 337.4,809.7 385.2,773.9 433.1,734.6 480.9,694.6 528.8,651.6 576.6,619.2 624.5,591.6 672.3,568.4 720.1,526.7 768.0,481.4 815.8,435.5 863.7,375.0 911.5,275.8 959.4,207.7 1007.2,125.3 1055.0,126.9 1102.9,102.3 1150.7,158.9 1198.6,280.3 1246.4,507.4 1294.3,574.0 1342.1,574.8 1389.9,577.5 1437.8,670.5 1485.6,628.9 1533.5,745.3 1581.3,837.3 1629.2,798.9 1677.0,862.7 1724.8,914.1" stroke="#77AC30"/>
<polyline points="289.6,854.4 337.4,823.9 385.2,785.4 433.1,748.8 480.9,713.2 528.8,676.8 576.6,643.4 624.5,622.8 672.3,595.8 720.1,551.8 768.0,506.3 815.8,452.7 863.7,408.9 911.5,313.8 959.4,253.2 1007.2,181.8 1055.0,171.4 1102.9,180.9 1150.7,212.4 1198.6,340.7 1246.4,516.1 1294.3,651.9 1342.1,620.8 1389.9,594.8 1437.8,669.9 1485.6,717.2 1533.5,812.8 1581.3,848.1 1629.2,831.5 1677.0,894.7 1724.8,955.2" stroke="#4DBEEE"/>
<polyline points="289.6,836.3 337.4,808.8 385.2,775.0 433.1,728.0 480.9,687.4 528.8,652.8 576.6,616.3 624.5,592.5 672.3,557.9 720.1,521.0 768.0,476.3 815.8,432.9 863.7,343.3 911.5,264.3 959.4,202.3 1007.2,170.5 1055.0,93.1 1102.9,116.1 1150.7,160.3 1198.6,272.1 1246.4,521.2 1294.3,537.8 1342.1,626.8 1389.9,561.6 1437.8,684.3 1485.6,726.1 1533.5,728.9 1581.3,805.0 1629.2,820.8 1677.0,809.5 1724.8,921.0" stroke="#A2142F"/>
<polyline points="289.6,851.1 337.4,817.7 385.2,784.8 433.1,746.7 480.9,705.9 528.8,665.3 576.6,638.5 624.5,604.5 672.3,583.7 720.1,548.3 768.0,498.7 815.8,442.1 863.7,376.3 911.5,284.6 959.4,224.7 1007.2,203.2 1055.0,162.3 1102.9,148.1 1150.7,194.1 1198.6,318.4 1246.4,547.2 1294.3,514.9 1342.1,658.2 1389.9,585.2 1437.8,674.3 1485.6,626.6 1533.5,747.1 1581.3,767.8 1629.2,861.6 1677.0,887.3 1724.8,905.9" stroke="#0072BD"/>
<polyline points="289.6,844.1 337.4,813.6 385.2,778.0 433.1,737.3 480.9,695.4 528.8,661.3 576.6,625.2 624.5,594.2 672.3,574.7 720.1,535.6 768.0,491.1 815.8,437.2 863.7,369.8 911.5,319.5 959.4,201.8 1007.2,161.1 1055.0,143.9 1102.9,114.2 1150.7,172.3 1198.6,281.0 1246.4,460.1 1294.3,596.9 1342.1,564.9 1389.9,557.1 1437.8,609.9 1485.6,664.0 1533.5,765.9 1581.3,833.1 1629.2,871.3 1677.0,806.5 1724.8,889.2" stroke="#D95319"/>
<polyline points="289.6,849.0 337.4,821.4 385.2,786.7 433.1,745.9 480.9,706.8 528.8,668.1 576.6,632.4 624.5,613.3 672.3,591.5 720.1,543.7 768.0,505.1 815.8,450.1 863.7,369.5 911.5,307.6 959.4,250.2 1007.2,202.6 1055.0,146.4 1102.9,181.5 1150.7,187.0 1198.6,317.9 1246.4,531.4 1294.3,547.4 1342.1,535.3 1389.9,550.9 1437.8,624.3 1485.6,696.6 1533.5,717.8 1581.3,785.7 1629.2,874.9 1677.0,803.6 1724.8,919.9" stroke="#EDB120"/>
<polyline points="289.6,840.6 337.4,809.3 385.2,773.5 433.1,733.4 480.9,687.5 528.8,656.3 576.6,612.9 624.5,589.6 672.3,561.5 720.1,525.5 768.0,472.7 815.8,431.6 863.7,355.7 911.5,252.3 959.4,229.0 1007.2,150.8 1055.0,126.7 1102.9,115.2 1150.7,193.9 1198.6,253.1 1246.4,454.9 1294.3,525.8 1342.1,575.8 1389.9,573.2 1437.8,627.8 1485.6,652.3 1533.5,721.4 1581.3,771.7 1629.2,803.3 1677.0,787.3 1724.8,914.4" stroke="#7E2F8E"/>
<polyline points="289.6,835.8 337.4,803.7 385.2,772.3 433.1,728.4 480.9,681.3 528.8,647.6 576.6,614.1 624.5,587.6 672.3,562.8 720.1,519.1 768.0,473.4 815.8,431.0 863.7,360.5 911.5,250.2 959.4,167.0 1007.2,112.7 1055.0,143.1 1102.9,82.8 1150.7,161.1 1198.6,280.5 1246.4,568.8 1294.3,550.8 1342.1,559.0 1389.9,593.3 1437.8,628.5 1485.6,708.0 1533.5,767.9 1581.3,764.3 1629.2,765.8 1677.0,844.4 1724.8,870.5" stroke="#77AC30"/>
<polyline points="289.6,849.9 337.4,814.7 385.2,783.3 433.1,741.9 480.9,703.2 528.8,671.9 576.6,634.9 624.5,608.9 672.3,588.3 720.1,545.7 768.0,499.7 815.8,451.0 863.7,404.5 911.5,313.4 959.4,259.3 1007.2,229.9 1055.0,167.1 1102.9,166.1 1150.7,174.1 1198.6,345.3 1246.4,545.9 1294.3,598.7 1342.1,659.1 1389.9,575.3 1437.8,699.6 1485.6,674.1 1533.5,769.6 1581.3,848.4 1629.2,896.9 1677.0,857.9 1724.8,918.0" stroke="#4DBEEE"/>
<polyline points="289.6,845.6 337.4,820.3 385.2,783.6 433.1,744.3 480.9,710.5 528.8,668.3 576.6,627.7 624.5,607.7 672.3,580.9 720.1,554.8 768.0,496.4 815.8,453.2 863.7,383.4 911.5,293.2 959.4,247.6 1007.2,206.7 1055.0,154.7 1102.9,139.1 1150.7,198.8 1198.6,319.4 1246.4,499.9 1294.3,618.9 1342.1,629.2 1389.9,659.2 1437.8,678.2 1485.6,763.8 1533.5,788.5 1581.3,820.6 1629.2,891.0 1677.0,882.4 1724.8,952.4" stroke="#A2142F"/>
<polyline points="289.6,852.2 337.4,819.6 385.2,784.7 433.1,747.6 480.9,708.0 528.8,667.0 576.6,630.8 624.5,607.4 672.3,578.0 720.1,542.1 768.0,494.1 815.8,449.1 863.7,386.2 911.5,274.9 959.4,219.4 1007.2,159.4 1055.0,115.6 1102.9,133.4 1150.7,203.5 1198.6,311.3 1246.4,524.5 1294.3,566.0 1342.1,520.4 1389.9,641.1 1437.8,693.4 1485.6,718.2 1533.5,802.9 1581.3,849.8 1629.2,898.0 1677.0,865.9 1724.8,950.1" stroke="#0072BD"/>
<polyline points="289.6,856.2 337.4,826.9 385.2,790.2 433.1,752.4 480.9,714.4 528.8,680.1 576.6,646.8 624.5,618.9 672.3,594.9 720.1,556.7 768.0,517.0 815.8,462.8 863.7,402.2 911.5,295.4 959.4,241.0 1007.2,241.5 1055.0,181.0 1102.9,182.0 1150.7,239.2 1198.6,366.7 1246.4,563.3 1294.3,633.2 1342.1,646.7 1389.9,641.8 1437.8,724.4 1485.6,687.1 1533.5,816.0 1581.3,788.8 1629.2,826.3 1677.0,909.5 1724.8,959.4" stroke="#D95319"/>
<polyline points="289.6,837.0 337.4,803.4 385.2,770.5 433.1,727.9 480.9,683.8 528.8,650.3 576.6,614.4 624.5,586.1 672.3,558.1 720.1,518.3 768.0,475.3 815.8,428.2 863.7,337.0 911.5,282.2 959.4,187.1 1007.2,137.4 1055.0,97.9 1102.9,95.5 1150.7,179.9 1198.6,259.0 1246.4,475.4 1294.3,575.8 1342.1,637.7 1389.9,605.9 1437.8,612.1 1485.6,647.2 1533.5,783.8 1581.3,832.5 1629.2,797.8 1677.0,865.0 1724.8,892.5" stroke="#EDB120"/>
<polyline points="289.6,851.4 337.4,821.6 385.2,789.0 433.1,752.9 480.9,715.4 528.8,675.6 576.6,641.6 624.5,620.6 672.3,594.3 720.1,551.4 768.0,511.1 815.8,456.9 863.7,401.8 911.5,325.7 959.4,269.9 1007.2,237.4 1055.0,193.8 1102.9,151.9 1150.7,197.3 1198.6,357.4 1246.4,552.4 1294.3,557.6 1342.1,559.6 1389.9,669.3 1437.8,725.2 1485.6,749.9 1533.5,804.4 1581.3,860.9 1629.2,785.5 1677.0,863.0 1724.8,967.7" stroke="#7E2F8E"/>
<polyline points="289.6,839.9 337.4,803.9 385.2,775.3 433.1,732.0 480.9,690.3 528.8,650.5 576.6,613.3 624.5,584.1 672.3,562.7 720.1,526.0 768.0,472.8 815.8,430.3 863.7,344.6 911.5,273.3 959.4,209.2 1007.2,110.9 1055.0,118.1 1102.9,128.4 1150.7,143.3 1198.6,260.7 1246.4,458.6 1294.3,506.6 1342.1,551.4 1389.9,629.7 1437.8,616.0 1485.6,703.3 1533.5,768.8 1581.3,818.9 1629.2,796.7 1677.0,847.9 1724.8,941.0" stroke="#77AC30"/>
<polyline points="289.6,855.4 337.4,824.3 385.2,787.8 433.1,749.1 480.9,716.1 528.8,678.2 576.6,640.4 624.5,622.0 672.3,597.8 720.1,562.5 768.0,511.3 815.8,467.4 863.7,408.3 911.5,293.7 959.4,251.2 1007.2,241.0 1055.0,200.7 1102.9,184.6 1150.7,224.7 1198.6,355.8 1246.4,542.2 1294.3,596.5 1342.1,657.8 1389.9,561.3 1437.8,678.5 1485.6,761.8 1533.5,803.5 1581.3,831.4 1629.2,901.4 1677.0,926.7 1724.8,954.4" stroke="#4DBEEE"/>
<polyline points="289.6,844.4 337.4,813.8 385.2,780.1 433.1,739.3 480.9,698.9 528.8,664.3 576.6,627.5 624.5,598.1 672.3,575.6 720.1,542.0 768.0,491.2 815.8,439.6 863.7,394.2 911.5,304.7 959.4,222.4 1007.2,181.3 1055.0,169.3 1102.9,180.1 1150.7,185.2 1198.6,325.0 1246.4,491.6 1294.3,608.6 1342.1,572.0 1389.9,560.3 1437.8,671.5 1485.6,706.4 1533.5,823.0 1581.3,812.7 1629.2,885.3 1677.0,890.1 1724.8,972.5" stroke="#A2142F"/>
<polyline points="289.6,850.5 337.4,822.9 385.2,785.5 433.1,746.5 480.9,710.2 528.8,664.2 576.6,632.3 624.5,615.7 672.3,579.6 720.1,544.7 768.0,500.1 815.8,453.5 863.7,377.7 911.5,294.6 959.4,203.4 1007.2,182.6 1055.0,177.7 1102.9,157.8 1150.7,193.0 1198.6,315.6 1246.4,509.2 1294.3,589.4 1342.1,584.5 1389.9,571.3 1437.8,675.6 1485.6,643.0 1533.5,813.1 1581.3,876.3 1629.2,877.5 1677.0,921.8 1724.8,876.6" stroke="#0072BD"/>
<polyline points="289.6,855.6 337.4,824.9 385.2,789.5 433.1,750.0 480.9,714.9 528.8,681.2 576.6,650.4 624.5,627.0 672.3,601.5 720.1,564.4 768.0,513.0 815.8,465.2 863.7,408.6 911.5,339.2 959.4,258.5 1007.2,220.6 1055.0,181.5 1102.9,197.6 1150.7,232.9 1198.6,352.9 1246.4,525.1 1294.3,637.9 1342.1,583.5 1389.9,649.2 1437.8,679.2 1485.6,719.4 1533.5,828.6 1581.3,870.9 1629.2,902.7 1677.0,908.9 1724.8,969.4" stroke="#D95319"/>
<polyline points="289.6,853.2 337.4,822.2 385.2,791.1 433.1,754.4 480.9,712.4 528.8,676.3 576.6,647.9 624.5,618.8 672.3,587.1 720.1,559.5 768.0,507.0 815.8,460.0 863.7,385.7 911.5,327.9 959.4,273.2 1007.2,194.5 1055.0,183.3 1102.9,154.9 1150.7,201.7 1198.6,317.6 1246.4,511.0 1294.3,580.8 1342.1,653.4 1389.9,628.5 1437.8,620.5 1485.6,752.1 1533.5,818.4 1581.3,866.3 1629.2,848.2 1677.0,902.5 1724.8,925.9" stroke="#EDB120"/>
<polyline points="289.6,852.9 337.4,824.9 385.2,788.9 433.1,751.2 480.9,717.0 528.8,672.1 576.6,645.0 624.5,616.4 672.3,592.6 720.1,557.5 768.0,508.1 815.8,456.0 863.7,401.1 911.5,313.1 959.4,270.3 1007.2,236.5 1055.0,166.8 1102.9,143.1 1150.7,214.9 1198.6,347.0 1246.4,544.7 1294.3,561.6 1342.1,562.1 1389.9,599.7 1437.8,633.0 1485.6,734.2 1533.5,800.9 1581.3,865.3 1629.2,850.1 1677.0,922.2 1724.8,931.1" stroke="#7E2F8E"/>
<polyline points="289.6,836.6 337.4,802.7 385.2,771.2 433.1,729.3 480.9,684.4 528.8,648.9 576.6,606.4 624.5,582.0 672.3,560.5 720.1,516.9 768.0,469.6 815.8,423.4 863.7,340.3 911.5,246.2 959.4,207.2 1007.2,141.8 1055.0,102.7 1102.9,85.8 1150.7,132.8 1198.6,286.6 1246.4,443.4 1294.3,530.9 1342.1,537.6 1389.9,566.0 1437.8,586.8 1485.6,643.3 1533.5,780.6 1581.3,758.1 1629.2,805.2 1677.0,817.2 1724.8,896.6" stroke="#77AC30"/>
<polyline points="289.6,843.2 337.4,813.5 385.2,777.9 433.1,734.4 480.9,693.8 528.8,657.2 576.6,619.7 624.5,596.4 672.3,575.7 720.1,529.5 768.0,487.2 815.8,438.2 863.7,357.3 911.5,251.4 959.4,220.1 1007.2,181.0 1055.0,119.6 1102.9,120.4 1150.7,167.8 1198.6,267.0 1246.4,486.5 1294.3,570.9 1342.1,639.6 1389.9,547.9 1437.8,592.8 1485.6,669.1 1533.5,733.1 1581.3,778.6 1629.2,808.2 1677.0,827.0 1724.8,890.6" stroke="#4DBEEE"/>
<polyline points="289.6,834.6 337.4,800.2 385.2,770.0 433.1,724.4 480.9,684.8 528.8,646.3 576.6,604.2 624.5,582.6 672.3,554.8 720.1,516.8 768.0,471.7 815.8,425.1 863.7,342.2 911.5,254.7 959.4,172.6 1007.2,126.7 1055.0,91.5 1102.9,78.8 1150.7,183.0 1198.6,269.8 1246.4,427.3 1294.3,550.2 1342.1,563.9 1389.9,531.1 1437.8,582.0 1485.6,644.3 1533.5,799.2 1581.3,819.2 1629.2,841.4 1677.0,837.6 1724.8,913.3" stroke="#A2142F"/>
<polyline points="289.6,837.9 337.4,808.2 385.2,775.0 433.1,730.0 480.9,689.5 528.8,655.8 576.6,619.0 624.5,591.7 672.3,560.9 720.1,524.1 768.0,475.1 815.8,433.9 863.7,344.5 911.5,239.3 959.4,160.6 1007.2,148.6 1055.0,121.1 1102.9,97.4 1150.7,142.7 1198.6,264.9 1246.4,513.7 1294.3,506.1 1342.1,558.6 1389.9,579.3 1437.8,616.6 1485.6,695.7 1533.5,765.3 1581.3,790.8 1629.2,846.8 1677.0,866.4 1724.8,889.8" stroke="#0072BD"/>
<polyline points="289.6,841.5 337.4,807.5 385.2,776.2 433.1,732.5 480.9,689.0 528.8,653.7 576.6,612.1 624.5,588.0 672.3,563.9 720.1,527.8 768.0,477.9 815.8,432.8 863.7,367.2 911.5,273.6 959.4,168.4 1007.2,114.4 1055.0,97.3 1102.9,94.1 1150.7,129.7 1198.6,242.1 1246.4,426.0 1294.3,520.6 1342.1,612.8 1389.9,632.8 1437.8,575.1 1485.6,630.0 1533.5,709.0 1581.3,746.6 1629.2,793.1 1677.0,820.4 1724.8,857.3" stroke="#D95319"/>
<polyline points="289.6,853.0 337.4,821.9 385.2,788.8 433.1,748.2 480.9,714.5 528.8,674.9 576.6,643.0 624.5,619.4 672.3,589.5 720.1,553.4 768.0,508.2 815.8,457.9 863.7,398.5 911.5,297.4 959.4,227.3 1007.2,216.7 1055.0,184.9 1102.9,159.2 1150.7,234.1 1198.6,354.7 1246.4,562.4 1294.3,636.7 1342.1,605.9 1389.9,684.2 1437.8,665.4 1485.6,739.9 1533.5,830.7 1581.3,864.3 1629.2,874.4 1677.0,878.1 1724.8,938.8" stroke="#EDB120"/>
<polyline points="289.6,838.7 337.4,808.5 385.2,773.0 433.1,731.6 480.9,688.5 528.8,650.2 576.6,610.4 624.5,586.0 672.3,555.9 720.1,522.1 768.0,474.9 815.8,426.8 863.7,351.1 911.5,256.1 959.4,170.1 1007.2,163.5 1055.0,99.2 1102.9,161.1 1150.7,135.4 1198.6,245.8 1246.4,442.3 1294.3,542.5 1342.1,595.7 1389.9,566.6 1437.8,589.7 1485.6,713.1 1533.5,761.5 1581.3,766.2 1629.2,791.1 1677.0,793.9 1724.8,874.4" stroke="#7E2F8E"/>
<polyline points="289.6,846.7 337.4,810.3 385.2,777.0 433.1,737.6 480.9,690.0 528.8,661.3 576.6,616.8 624.5,593.5 672.3,569.8 720.1,534.1 768.0,485.1 815.8,430.8 863.7,345.5 911.5,268.7 959.4,161.0 1007.2,147.5 1055.0,106.8 1102.9,135.8 1150.7,190.6 1198.6,240.6 1246.4,487.4 1294.3,572.1 1342.1,541.9 1389.9,555.4 1437.8,575.6 1485.6,639.5 1533.5,750.5 1581.3,826.6 1629.2,844.4 1677.0,816.6 1724.8,856.2" stroke="#77AC30"/>
<polyline points="289.6,842.2 337.4,805.6 385.2,774.4 433.1,736.6 480.9,699.6 528.8,655.9 576.6,622.2 624.5,592.9 672.3,571.4 720.1,533.6 768.0,485.3 815.8,441.7 863.7,366.7 911.5,289.7 959.4,213.5 1007.2,146.2 1055.0,147.1 1102.9,163.2 1150.7,166.9 1198.6,325.5 1246.4,521.8 1294.3,571.8 1342.1,606.8 1389.9,600.7 1437.8,616.3 1485.6,730.9 1533.5,821.4 1581.3,812.9 1629.2,838.9 1677.0,871.0 1724.8,947.0" stroke="#4DBEEE"/>
<polyline points="289.6,856.9 337.4,825.1 385.2,790.9 433.1,752.7 480.9,719.2 528.8,680.9 576.6,644.1 624.5,615.3 672.3,595.1 720.1,553.7 768.0,516.3 815.8,458.5 863.7,397.1 911.5,322.1 959.4,261.7 1007.2,209.9 1055.0,180.0 1102.9,187.5 1150.7,211.8 1198.6,360.9 1246.4,547.5 1294.3,525.4 1342.1,651.9 1389.9,574.7 1437.8,690.5 1485.6,764.5 1533.5,831.8 1581.3,803.0 1629.2,829.3 1677.0,891.3 1724.8,970.2" stroke="#A2142F"/>
<polyline points="289.6,856.8 337.4,828.8 385.2,792.5 433.1,755.0 480.9,720.9 528.8,682.9 576.6,648.6 624.5,623.4 672.3,602.6 720.1,565.9 768.0,513.6 815.8,464.5 863.7,397.6 911.5,335.3 959.4,255.0 1007.2,245.3 1055.0,201.9 1102.9,185.0 1150.7,226.3 1198.6,358.6 1246.4,566.7 1294.3,624.9 1342.1,647.4 1389.9,669.7 1437.8,687.9 1485.6,755.0 1533.5,811.9 1581.3,828.8 1629.2,871.0 1677.0,926.1 1724.8,976.5" stroke="#0072BD"/>
<polyline points="289.6,848.1 337.4,820.6 385.2,784.9 433.1,745.9 480.9,707.7 528.8,670.6 576.6,635.6 624.5,611.3 672.3,588.6 720.1,545.8 768.0,498.0 815.8,449.9 863.7,378.3 911.5,317.0 959.4,217.9 1007.2,202.9 1055.0,168.3 1102.9,176.0 1150.7,208.4 1198.6,342.3 1246.4,521.5 1294.3,611.7 1342.1,643.4 1389.9,576.3 1437.8,682.7 1485.6,754.5 1533.5,799.7 1581.3,829.4 1629.2,896.4 1677.0,887.8 1724.8,963.3" stroke="#D95319"/>
<polyline points="289.6,839.3 337.4,810.7 385.2,776.5 433.1,736.2 480.9,696.1 528.8,655.6 576.6,617.0 624.5,584.4 672.3,568.8 720.1,530.5 768.0,480.3 815.8,431.4 863.7,356.4 911.5,278.0 959.4,205.4 1007.2,202.1 1055.0,103.8 1102.9,85.0 1150.7,161.6 1198.6,281.5 1246.4,451.5 1294.3,535.6 1342.1,538.0 1389.9,538.7 1437.8,580.8 1485.6,605.4 1533.5,737.8 1581.3,786.3 1629.2,813.2 1677.0,799.1 1724.8,855.0" stroke="#EDB120"/>
<polyline points="289.6,841.4 337.4,809.9 385.2,780.9 433.1,744.2 480.9,695.9 528.8,660.2 576.6,629.2 624.5,598.4 672.3,578.3 720.1,537.4 768.0,490.1 815.8,446.5 863.7,372.6 911.5,257.6 959.4,246.1 1007.2,186.4 1055.0,134.5 1102.9,125.8 1150.7,206.4 1198.6,300.1 1246.4,511.9 1294.3,624.3 1342.1,603.4 1389.9,654.6 1437.8,599.2 1485.6,723.6 1533.5,806.4 1581.3,878.2 1629.2,846.0 1677.0,903.7 1724.8,920.7" stroke="#7E2F8E"/>
<polyline points="289.6,852.4 337.4,821.8 385.2,786.9 433.1,750.6 480.9,710.6 528.8,674.8 576.6,643.7 624.5,619.0 672.3,593.0 720.1,556.9 768.0,500.6 815.8,452.6 863.7,393.3 911.5,325.9 959.4,254.8 1007.2,185.3 1055.0,161.3 1102.9,118.5 1150.7,219.5 1198.6,295.8 1246.4,527.2 1294.3,627.2 1342.1,642.8 1389.9,563.2 1437.8,668.6 1485.6,687.4 1533.5,772.8 1581.3,871.3 1629.2,848.7 1677.0,819.2 1724.8,884.9" stroke="#77AC30"/>
<polyline points="289.6,839.6 337.4,806.7 385.2,772.3 433.1,728.0 480.9,686.1 528.8,648.8 576.6,613.2 624.5,582.9 672.3,560.7 720.1,523.0 768.0,468.2 815.8,423.9 863.7,355.4 911.5,239.0 959.4,175.2 1007.2,151.9 1055.0,90.7 1102.9,88.8 1150.7,127.8 1198.6,252.8 1246.4,436.2 1294.3,514.5 1342.1,516.4 1389.9,583.1 1437.8,600.8 1485.6,613.8 1533.5,752.0 1581.3,742.3 1629.2,781.3 1677.0,788.0 1724.8,937.7" stroke="#4DBEEE"/>
<polyline points="289.6,841.6 337.4,812.5 385.2,780.0 433.1,742.3 480.9,704.4 528.8,665.0 576.6,630.0 624.5,612.7 672.3,579.1 720.1,545.3 768.0,502.7 815.8,445.3 863.7,376.1 911.5,319.7 959.4,248.6 1007.2,167.0 1055.0,163.5 1102.9,190.4 1150.7,199.5 1198.6,340.1 1246.4,531.1 1294.3,577.7 1342.1,661.3 1389.9,664.2 1437.8,711.0 1485.6,712.8 1533.5,809.6 1581.3,853.6 1629.2,872.7 1677.0,884.7 1724.8,926.7" stroke="#A2142F"/>
<polyline points="289.6,843.8 337.4,808.5 385.2,776.3 433.1,735.0 480.9,692.2 528.8,654.2 576.6,617.2 624.5,597.0 672.3,568.6 720.1,528.9 768.0,488.8 815.8,433.0 863.7,371.8 911.5,274.4 959.4,173.7 1007.2,150.5 1055.0,117.4 1102.9,156.4 1150.7,192.6 1198.6,281.3 1246.4,445.9 1294.3,511.1 1342.1,572.6 1389.9,546.3 1437.8,613.1 1485.6,660.2 1533.5,768.2 1581.3,834.5 1629.2,815.3 1677.0,859.9 1724.8,891.7" stroke="#0072BD"/>
<polyline points="289.6,845.4 337.4,814.0 385.2,781.5 433.1,740.9 480.9,697.0 528.8,658.1 576.6,628.5 624.5,605.1 672.3,575.2 720.1,544.6 768.0,493.6 815.8,444.4 863.7,379.2 911.5,256.7 959.4,185.5 1007.2,181.6 1055.0,122.4 1102.9,150.0 1150.7,195.3 1198.6,279.0 1246.4,482.6 1294.3,611.4 1342.1,531.5 1389.9,611.2 1437.8,602.8 1485.6,632.1 1533.5,826.9 1581.3,866.0 1629.2,834.2 1677.0,864.7 1724.8,966.2" stroke="#D95319"/>
<polyline points="289.6,847.8 337.4,815.0 385.2,782.6 433.1,741.1 480.9,701.5 528.8,665.6 576.6,629.7 624.5,607.5 672.3,580.1 720.1,542.2 768.0,495.6 815.8,450.4 863.7,390.0 911.5,304.9 959.4,214.0 1007.2,213.7 1055.0,137.3 1102.9,128.9 1150.7,197.7 1198.6,336.8 1246.4,546.6 1294.3,619.5 1342.1,654.2 1389.9,657.9 1437.8,658.6 1485.6,737.9 1533.5,791.6 1581.3,855.0 1629.2,872.9 1677.0,888.4 1724.8,892.8" stroke="#EDB120"/>
<polyline points="289.6,847.3 337.4,816.3 385.2,782.3 433.1,741.8 480.9,701.0 528.8,662.1 576.6,634.4 624.5,609.7 672.3,584.3 720.1,545.1 768.0,504.5 815.8,451.8 863.7,382.9 911.5,314.7 959.4,236.2 1007.2,216.4 1055.0,168.1 1102.9,171.3 1150.7,204.8 1198.6,316.6 1246.4,541.9 1294.3,631.4 1342.1,582.9 1389.9,612.7 1437.8,621.4 1485.6,739.6 1533.5,790.8 1581.3,865.0 1629.2,826.8 1677.0,908.0 1724.8,916.9" stroke="#7E2F8E"/>
<polyline points="289.6,849.2 337.4,819.8 385.2,783.6 433.1,743.3 480.9,707.9 528.8,666.6 576.6,636.5 624.5,614.7 672.3,579.4 720.1,541.7 768.0,489.6 815.8,443.0 863.7,381.8 911.5,291.2 959.4,231.8 1007.2,194.0 1055.0,123.2 1102.9,102.0 1150.7,209.8 1198.6,302.6 1246.4,539.8 1294.3,570.6 1342.1,620.5 1389.9,580.0 1437.8,631.0 1485.6,670.0 1533.5,775.1 1581.3,851.3 1629.2,838.3 1677.0,789.9 1724.8,895.5" stroke="#77AC30"/>
<polyline points="289.6,845.5 337.4,815.6 385.2,781.0 433.1,738.6 480.9,698.5 528.8,661.6 576.6,626.3 624.5,607.1 672.3,579.9 720.1,540.6 768.0,496.2 815.8,451.5 863.7,374.6 911.5,284.8 959.4,220.7 1007.2,153.2 1055.0,132.5 1102.9,123.9 1150.7,203.7 1198.6,315.9 1246.4,542.5 1294.3,557.0 1342.1,638.0 1389.9,581.5 1437.8,645.8 1485.6,741.0 1533.5,825.9 1581.3,860.3 1629.2,892.2 1677.0,904.0 1724.8,913.1" stroke="#4DBEEE"/>
<polyline points="289.6,841.3 337.4,808.7 385.2,776.9 433.1,733.1 480.9,690.4 528.8,651.9 576.6,612.7 624.5,597.9 672.3,568.0 720.1,520.1 768.0,480.0 815.8,430.2 863.7,338.1 911.5,251.1 959.4,194.7 1007.2,162.4 1055.0,135.3 1102.9,92.0 1150.7,150.8 1198.6,273.4 1246.4,480.2 1294.3,549.9 1342.1,557.1 1389.9,609.9 1437.8,569.5 1485.6,610.8 1533.5,791.9 1581.3,783.2 1629.2,821.1 1677.0,821.8 1724.8,862.6" stroke="#A2142F"/>
<polyline points="289.6,848.7 337.4,818.9 385.2,783.1 433.1,743.8 480.9,704.8 528.8,668.7 576.6,634.1 624.5,610.4 672.3,578.1 720.1,541.6 768.0,496.6 815.8,445.9 863.7,351.9 911.5,291.7 959.4,225.5 1007.2,170.8 1055.0,131.5 1102.9,119.9 1150.7,210.4 1198.6,307.2 1246.4,501.4 1294.3,613.9 1342.1,625.2 1389.9,568.5 1437.8,594.5 1485.6,640.4 1533.5,790.2 1581.3,801.6 1629.2,857.2 1677.0,866.1 1724.8,892.0" stroke="#0072BD"/>
<polyline points="289.6,833.6 337.4,802.4 385.2,773.2 433.1,725.8 480.9,680.1 528.8,645.0 576.6,610.3 624.5,581.4 672.3,553.8 720.1,515.8 768.0,471.2 815.8,425.8 863.7,352.5 911.5,302.1 959.4,216.1 1007.2,156.5 1055.0,109.7 1102.9,91.7 1150.7,162.9 1198.6,281.8 1246.4,496.1 1294.3,537.2 1342.1,585.7 1389.9,567.6 1437.8,601.5 1485.6,648.8 1533.5,746.2 1581.3,786.6 1629.2,840.0 1677.0,835.6 1724.8,889.0" stroke="#D95319"/>
<polyline points="289.6,848.4 337.4,816.9 385.2,783.0 433.1,739.1 480.9,704.6 528.8,662.8 576.6,625.8 624.5,602.4 672.3,574.4 720.1,535.1 768.0,489.8 815.8,445.7 863.7,359.9 911.5,288.1 959.4,215.6 1007.2,218.6 1055.0,147.4 1102.9,153.5 1150.7,214.3 1198.6,282.6 1246.4,485.3 1294.3,522.0 1342.1,563.0 1389.9,617.7 1437.8,629.8 1485.6,695.0 1533.5,751.1 1581.3,784.6 1629.2,816.4 1677.0,823.6 1724.8,873.9" stroke="#EDB120"/>
<polyline points="289.6,841.7 337.4,812.6 385.2,780.0 433.1,736.8 480.9,697.6 528.8,656.4 576.6,623.2 624.5,601.2 672.3,572.5 720.1,539.9 768.0,489.3 815.8,444.1 863.7,367.9 911.5,253.8 959.4,225.2 1007.2,201.5 1055.0,133.0 1102.9,154.2 1150.7,172.5 1198.6,303.7 1246.4,548.5 1294.3,585.4 1342.1,568.3 1389.9,635.6 1437.8,656.4 1485.6,676.3 1533.5,808.4 1581.3,748.3 1629.2,859.4 1677.0,919.2 1724.8,930.3" stroke="#7E2F8E"/>
<polyline points="289.6,848.8 337.4,823.4 385.2,789.4 433.1,748.6 480.9,708.2 528.8,671.0 576.6,639.4 624.5,615.0 672.3,593.1 720.1,554.2 768.0,497.9 815.8,454.5 863.7,391.1 911.5,337.0 959.4,236.9 1007.2,178.9 1055.0,165.8 1102.9,174.2 1150.7,170.3 1198.6,350.3 1246.4,526.3 1294.3,630.0 1342.1,646.4 1389.9,653.4 1437.8,712.9 1485.6,758.2 1533.5,791.4 1581.3,842.7 1629.2,882.7 1677.0,895.9 1724.8,920.4" stroke="#77AC30"/>
<polyline points="289.6,840.4 337.4,807.5 385.2,774.8 433.1,728.9 480.9,692.3 528.8,659.7 576.6,620.9 624.5,595.4 672.3,569.6 720.1,528.5 768.0,485.6 815.8,436.7 863.7,361.5 911.5,274.7 959.4,195.7 1007.2,172.9 1055.0,148.9 1102.9,154.5 1150.7,180.1 1198.6,304.4 1246.4,496.7 1294.3,503.8 1342.1,529.7 1389.9,594.2 1437.8,596.6 1485.6,701.4 1533.5,730.1 1581.3,797.9 1629.2,808.8 1677.0,833.3 1724.8,894.4" stroke="#4DBEEE"/>
<polyline points="289.6,833.8 337.4,802.0 385.2,769.2 433.1,725.6 480.9,681.0 528.8,644.1 576.6,603.4 624.5,577.0 672.3,552.9 720.1,512.8 768.0,468.4 815.8,428.7 863.7,347.2 911.5,241.1 959.4,183.5 1007.2,139.4 1055.0,121.6 1102.9,123.0 1150.7,133.2 1198.6,279.8 1246.4,432.8 1294.3,527.1 1342.1,528.7 1389.9,531.8 1437.8,563.4 1485.6,709.9 1533.5,777.5 1581.3,754.0 1629.2,772.0 1677.0,867.6 1724.8,852.2" stroke="#A2142F"/>
<polyline points="289.6,842.5 337.4,814.2 385.2,778.8 433.1,738.9 480.9,696.5 528.8,655.4 576.6,621.1 624.5,593.4 672.3,575.3 720.1,532.0 768.0,489.7 815.8,440.9 863.7,365.6 911.5,292.6 959.4,211.2 1007.2,165.9 1055.0,172.1 1102.9,144.5 1150.7,156.5 1198.6,328.1 1246.4,461.0 1294.3,599.3 1342.1,628.9 1389.9,614.0 1437.8,625.3 1485.6,692.2 1533.5,778.0 1581.3,795.6 1629.2,873.5 1677.0,858.1 1724.8,908.9" stroke="#0072BD"/>
<polyline points="289.6,840.4 337.4,805.6 385.2,772.2 433.1,731.1 480.9,688.4 528.8,651.0 576.6,618.7 624.5,586.9 672.3,566.5 720.1,526.9 768.0,481.5 815.8,430.0 863.7,347.4 911.5,250.0 959.4,196.8 1007.2,173.5 1055.0,153.4 1102.9,81.9 1150.7,180.5 1198.6,274.4 1246.4,470.6 1294.3,515.7 1342.1,575.1 1389.9,534.3 1437.8,660.9 1485.6,625.4 1533.5,737.2 1581.3,777.7 1629.2,816.7 1677.0,798.7 1724.8,910.0" stroke="#D95319"/>
<polyline points="289.6,848.8 337.4,820.2 385.2,784.1 433.1,744.0 480.9,701.3 528.8,667.4 576.6,639.8 624.5,608.4 672.3,584.7 720.1,548.7 768.0,504.2 815.8,447.4 863.7,402.4 911.5,318.6 959.4,261.4 1007.2,209.6 1055.0,204.9 1102.9,159.9 1150.7,224.0 1198.6,337.0 1246.4,488.0 1294.3,608.0 1342.1,650.5 1389.9,634.7 1437.8,670.2 1485.6,724.8 1533.5,780.9 1581.3,814.6 1629.2,869.0 1677.0,869.0 1724.8,961.7" stroke="#EDB120"/>
<polyline points="289.6,840.8 337.4,810.0 385.2,777.2 433.1,733.3 480.9,692.7 528.8,652.4 576.6,619.4 624.5,591.2 672.3,573.1 720.1,528.3 768.0,484.8 815.8,435.1 863.7,368.3 911.5,283.9 959.4,184.8 1007.2,218.1 1055.0,144.9 1102.9,100.0 1150.7,154.9 1198.6,268.3 1246.4,434.3 1294.3,564.7 1342.1,527.7 1389.9,620.1 1437.8,587.2 1485.6,669.7 1533.5,827.9 1581.3,800.2 1629.2,828.2 1677.0,901.1 1724.8,904.8" stroke="#7E2F8E"/>
<polyline points="289.6,842.3 337.4,809.0 385.2,776.4 433.1,736.0 480.9,694.1 528.8,655.3 576.6,621.0 624.5,596.7 672.3,571.7 720.1,531.3 768.0,482.7 815.8,438.9 863.7,371.5 911.5,249.7 959.4,162.4 1007.2,165.4 1055.0,155.7 1102.9,149.5 1150.7,149.6 1198.6,308.2 1246.4,459.2 1294.3,601.2 1342.1,567.7 1389.9,632.5 1437.8,653.2 1485.6,667.2 1533.5,788.7 1581.3,780.3 1629.2,807.7 1677.0,839.0 1724.8,878.8" stroke="#77AC30"/>
<polyline points="289.6,855.4 337.4,826.0 385.2,789.1 433.1,749.8 480.9,717.8 528.8,678.0 576.6,648.3 624.5,621.3 672.3,595.2 720.1,563.6 768.0,510.2 815.8,461.8 863.7,385.2 911.5,314.0 959.4,252.0 1007.2,217.5 1055.0,194.7 1102.9,169.6 1150.7,227.2 1198.6,346.1 1246.4,531.7 1294.3,553.9 1342.1,649.5 1389.9,666.1 1437.8,656.1 1485.6,711.2 1533.5,750.3 1581.3,846.1 1629.2,834.0 1677.0,908.3 1724.8,943.5" stroke="#4DBEEE"/>
<polyline points="289.6,844.0 337.4,809.8 385.2,775.6 433.1,737.2 480.9,694.8 528.8,662.3 576.6,623.5 624.5,600.7 672.3,573.7 720.1,531.5 768.0,481.8 815.8,437.0 863.7,369.6 911.5,271.1 959.4,216.3 1007.2,176.2 1055.0,103.3 1102.9,132.2 1150.7,152.8 1198.6,286.4 1246.4,536.2 1294.3,505.0 1342.1,569.8 1389.9,601.3 1437.8,668.9 1485.6,672.2 1533.5,731.0 1581.3,825.4 1629.2,832.6 1677.0,798.2 1724.8,900.5" stroke="#A2142F"/>
<polyline points="289.6,838.2 337.4,805.0 385.2,774.3 433.1,732.0 480.9,687.7 528.8,659.2 576.6,614.7 624.5,593.7 672.3,569.9 720.1,535.8 768.0,482.5 815.8,439.7 863.7,349.3 911.5,264.9 959.4,194.0 1007.2,136.0 1055.0,133.5 1102.9,170.4 1150.7,217.7 1198.6,296.0 1246.4,450.2 1294.3,530.0 1342.1,603.7 1389.9,616.4 1437.8,652.5 1485.6,661.4 1533.5,731.6 1581.3,818.3 1629.2,815.9 1677.0,897.9 1724.8,883.8" stroke="#0072BD"/>
<polyline points="289.6,845.6 337.4,815.0 385.2,781.7 433.1,741.0 480.9,694.3 528.8,656.8 576.6,623.8 624.5,594.1 672.3,564.7 720.1,537.2 768.0,486.8 815.8,440.2 863.7,363.6 911.5,293.0 959.4,211.0 1007.2,168.9 1055.0,174.4 1102.9,98.2 1150.7,181.2 1198.6,259.8 1246.4,537.1 1294.3,547.7 1342.1,535.7 1389.9,536.5 1437.8,604.1 1485.6,732.9 1533.5,761.8 1581.3,753.6 1629.2,768.0 1677.0,918.0 1724.8,872.2" stroke="#D95319"/>
<polyline points="289.6,843.0 337.4,814.5 385.2,781.3 433.1,742.4 480.9,699.1 528.8,660.0 576.6,628.6 624.5,598.3 672.3,576.8 720.1,538.5 768.0,494.5 815.8,440.3 863.7,364.5 911.5,285.9 959.4,231.3 1007.2,138.0 1055.0,120.6 1102.9,141.5 1150.7,173.2 1198.6,333.7 1246.4,523.9 1294.3,620.1 1342.1,586.9 1389.9,606.2 1437.8,641.6 1485.6,722.9 1533.5,755.5 1581.3,863.4 1629.2,801.9 1677.0,892.7 1724.8,915.5" stroke="#EDB120"/>
<polyline points="289.6,835.0 337.4,805.3 385.2,772.0 433.1,727.2 480.9,680.5 528.8,647.8 576.6,605.9 624.5,583.1 672.3,554.2 720.1,517.2 768.0,468.9 815.8,424.6 863.7,356.2 911.5,278.9 959.4,169.4 1007.2,129.1 1055.0,82.9 1102.9,106.2 1150.7,168.3 1198.6,244.5 1246.4,435.3 1294.3,546.5 1342.1,538.3 1389.9,570.1 1437.8,664.1 1485.6,659.5 1533.5,755.2 1581.3,842.4 1629.2,801.6 1677.0,845.9 1724.8,882.4" stroke="#7E2F8E"/>
<polyline points="289.6,847.0 337.4,819.9 385.2,780.9 433.1,742.8 480.9,700.6 528.8,663.3 576.6,627.4 624.5,604.6 672.3,581.4 720.1,547.2 768.0,488.4 815.8,446.7 863.7,374.1 911.5,272.9 959.4,226.0 1007.2,190.7 1055.0,145.9 1102.9,144.1 1150.7,228.7 1198.6,307.5 1246.4,514.6 1294.3,535.3 1342.1,635.8 1389.9,590.8 1437.8,638.1 1485.6,657.6 1533.5,769.1 1581.3,780.0 1629.2,792.8 1677.0,812.7 1724.8,900.2" stroke="#77AC30"/>
<polyline points="289.6,856.6 337.4,827.7 385.2,792.7 433.1,755.5 480.9,718.9 528.8,679.0 576.6,651.6 624.5,621.8 672.3,601.8 720.1,564.8 768.0,511.2 815.8,466.2 863.7,411.5 911.5,331.3 959.4,257.7 1007.2,224.0 1055.0,194.1 1102.9,167.5 1150.7,225.3 1198.6,347.6 1246.4,517.9 1294.3,587.9 1342.1,651.6 1389.9,621.4 1437.8,697.2 1485.6,658.9 1533.5,808.7 1581.3,857.3 1629.2,875.8 1677.0,916.8 1724.8,954.9" stroke="#4DBEEE"/>
<polyline points="289.6,851.2 337.4,819.1 385.2,783.1 433.1,742.7 480.9,705.0 528.8,669.2 576.6,637.4 624.5,609.3 672.3,583.9 720.1,547.5 768.0,496.0 815.8,448.4 863.7,379.1 911.5,295.0 959.4,227.0 1007.2,155.4 1055.0,141.1 1102.9,125.6 1150.7,221.5 1198.6,327.0 1246.4,481.7 1294.3,548.0 1342.1,598.8 1389.9,555.8 1437.8,690.1 1485.6,683.6 1533.5,752.3 1581.3,848.7 1629.2,867.9 1677.0,859.0 1724.8,937.1" stroke="#A2142F"/>
<polyline points="289.6,846.0 337.4,817.1 385.2,782.7 433.1,741.3 480.9,708.9 528.8,675.2 576.6,632.0 624.5,608.8 672.3,590.3 720.1,548.6 768.0,501.7 815.8,451.1 863.7,392.2 911.5,283.1 959.4,262.0 1007.2,221.7 1055.0,179.5 1102.9,150.9 1150.7,209.1 1198.6,341.2 1246.4,498.8 1294.3,575.2 1342.1,548.2 1389.9,625.7 1437.8,677.2 1485.6,747.0 1533.5,763.0 1581.3,799.6 1629.2,889.7 1677.0,918.4 1724.8,910.9" stroke="#0072BD"/>
<polyline points="289.6,852.3 337.4,820.0 385.2,787.7 433.1,752.4 480.9,715.7 528.8,674.0 576.6,645.4 624.5,617.9 672.3,595.9 720.1,557.2 768.0,514.1 815.8,466.1 863.7,403.4 911.5,327.6 959.4,270.6 1007.2,240.1 1055.0,181.2 1102.9,179.0 1150.7,222.4 1198.6,365.0 1246.4,555.2 1294.3,640.5 1342.1,638.3 1389.9,620.7 1437.8,695.1 1485.6,754.0 1533.5,824.3 1581.3,855.6 1629.2,873.2 1677.0,920.9 1724.8,969.8" stroke="#D95319"/>
<polyline points="289.6,851.0 337.4,819.1 385.2,785.3 433.1,753.3 480.9,709.9 528.8,674.5 576.6,640.9 624.5,611.4 672.3,594.1 720.1,554.1 768.0,503.7 815.8,459.3 863.7,391.3 911.5,320.4 959.4,228.3 1007.2,215.3 1055.0,191.7 1102.9,167.3 1150.7,192.4 1198.6,335.2 1246.4,559.4 1294.3,563.2 1342.1,588.8 1389.9,668.9 1437.8,696.5 1485.6,730.6 1533.5,805.2 1581.3,868.0 1629.2,889.0 1677.0,912.8 1724.8,903.5" stroke="#EDB120"/>
<polyline points="289.6,850.7 337.4,816.6 385.2,786.8 433.1,744.8 480.9,709.2 528.8,670.7 576.6,634.8 624.5,615.2 672.3,588.4 720.1,556.3 768.0,504.7 815.8,454.1 863.7,407.7 911.5,332.0 959.4,248.1 1007.2,189.1 1055.0,204.5 1102.9,185.9 1150.7,229.6 1198.6,330.4 1246.4,508.6 1294.3,578.3 1342.1,655.7 1389.9,637.1 1437.8,701.7 1485.6,642.7 1533.5,832.6 1581.3,823.7 1629.2,786.1 1677.0,850.4 1724.8,951.8" stroke="#7E2F8E"/>
<polyline points="289.6,853.4 337.4,817.4 385.2,785.3 433.1,748.4 480.9,707.6 528.8,672.4 576.6,638.0 624.5,616.3 672.3,587.7 720.1,552.8 768.0,503.6 815.8,457.4 863.7,394.7 911.5,328.8 959.4,257.1 1007.2,243.1 1055.0,137.8 1102.9,168.2 1150.7,225.8 1198.6,341.7 1246.4,446.2 1294.3,625.3 1342.1,619.0 1389.9,685.6 1437.8,680.4 1485.6,744.6 1533.5,776.0 1581.3,868.4 1629.2,785.8 1677.0,861.6 1724.8,933.3" stroke="#77AC30"/>
<polyline points="289.6,853.5 337.4,827.2 385.2,790.6 433.1,754.7 480.9,713.4 528.8,676.5 576.6,648.8 624.5,619.6 672.3,598.1 720.1,561.4 768.0,507.5 815.8,460.1 863.7,401.3 911.5,320.0 959.4,250.9 1007.2,205.0 1055.0,171.9 1102.9,185.3 1150.7,238.3 1198.6,313.8 1246.4,493.1 1294.3,604.0 1342.1,659.5 1389.9,602.5 1437.8,722.4 1485.6,763.1 1533.5,721.8 1581.3,858.5 1629.2,869.3 1677.0,867.3 1724.8,873.3" stroke="#4DBEEE"/>
<polyline points="289.6,837.7 337.4,804.4 385.2,773.9 433.1,730.4 480.9,684.3 528.8,654.7 576.6,616.5 624.5,590.5 672.3,561.9 720.1,526.8 768.0,477.3 815.8,429.5 863.7,340.7 911.5,263.6 959.4,158.1 1007.2,174.0 1055.0,94.6 1102.9,121.6 1150.7,155.8 1198.6,263.9 1246.4,449.2 1294.3,534.4 1342.1,633.0 1389.9,604.4 1437.8,610.8 1485.6,700.4 1533.5,725.4 1581.3,759.9 1629.2,793.9 1677.0,887.6 1724.8,894.2" stroke="#A2142F"/>
<polyline points="289.6,845.4 337.4,814.4 385.2,779.5 433.1,741.7 480.9,701.2 528.8,659.6 576.6,624.0 624.5,600.5 672.3,573.5 720.1,537.5 768.0,493.3 815.8,442.6 863.7,374.0 911.5,269.1 959.4,198.8 1007.2,148.9 1055.0,174.9 1102.9,117.1 1150.7,186.3 1198.6,300.9 1246.4,512.8 1294.3,561.0 1342.1,540.1 1389.9,670.2 1437.8,597.6 1485.6,707.7 1533.5,733.7 1581.3,836.8 1629.2,794.5 1677.0,910.2 1724.8,924.0" stroke="#0072BD"/>
<polyline points="289.6,838.1 337.4,810.9 385.2,773.2 433.1,733.0 480.9,694.5 528.8,653.6 576.6,621.3 624.5,591.8 672.3,565.8 720.1,532.7 768.0,483.2 815.8,434.3 863.7,368.6 911.5,260.5 959.4,171.3 1007.2,141.3 1055.0,185.9 1102.9,176.7 1150.7,140.8 1198.6,297.6 1246.4,533.8 1294.3,551.7 1342.1,608.4 1389.9,557.4 1437.8,610.2 1485.6,714.7 1533.5,756.3 1581.3,797.6 1629.2,809.0 1677.0,807.2 1724.8,872.7" stroke="#D95319"/>
<polyline points="289.6,841.8 337.4,810.5 385.2,776.1 433.1,738.8 480.9,689.4 528.8,653.9 576.6,616.7 624.5,594.7 672.3,563.2 720.1,529.3 768.0,478.7 815.8,431.8 863.7,359.8 911.5,277.8 959.4,223.7 1007.2,124.9 1055.0,141.6 1102.9,138.4 1150.7,163.2 1198.6,277.7 1246.4,469.7 1294.3,535.9 1342.1,594.4 1389.9,636.8 1437.8,595.9 1485.6,662.1 1533.5,769.9 1581.3,749.8 1629.2,851.2 1677.0,834.7 1724.8,922.9" stroke="#EDB120"/>
<polyline points="289.6,844.6 337.4,812.1 385.2,780.1 433.1,740.0 480.9,697.9 528.8,664.5 576.6,628.9 624.5,598.8 672.3,579.7 720.1,540.3 768.0,494.2 815.8,443.7 863.7,370.1 911.5,262.1 959.4,233.6 1007.2,190.5 1055.0,165.3 1102.9,131.5 1150.7,207.1 1198.6,326.8 1246.4,470.0 1294.3,600.9 1342.1,668.1 1389.9,601.9 1437.8,647.7 1485.6,699.8 1533.5,769.4 1581.3,860.0 1629.2,844.6 1677.0,876.7 1724.8,904.3" stroke="#7E2F8E"/>
<polyline points="289.6,844.9 337.4,811.9 385.2,778.3 433.1,736.8 480.9,700.0 528.8,658.5 576.6,623.1 624.5,599.7 672.3,570.1 720.1,533.9 768.0,481.2 815.8,437.9 863.7,342.6 911.5,268.9 959.4,190.6 1007.2,139.9 1055.0,151.4 1102.9,137.4 1150.7,185.9 1198.6,299.8 1246.4,495.5 1294.3,574.6 1342.1,565.5 1389.9,648.0 1437.8,650.6 1485.6,629.6 1533.5,722.1 1581.3,763.4 1629.2,787.9 1677.0,878.7 1724.8,893.3" stroke="#77AC30"/>
<polyline points="289.6,845.9 337.4,811.7 385.2,778.8 433.1,741.6 480.9,694.9 528.8,659.5 576.6,621.7 624.5,600.9 672.3,587.8 720.1,538.6 768.0,497.8 815.8,451.7 863.7,373.2 911.5,275.1 959.4,241.2 1007.2,212.1 1055.0,117.9 1102.9,134.6 1150.7,228.4 1198.6,309.0 1246.4,536.5 1294.3,629.6 1342.1,606.2 1389.9,627.9 1437.8,647.4 1485.6,688.7 1533.5,776.9 1581.3,781.2 1629.2,840.5 1677.0,884.4 1724.8,955.5" stroke="#4DBEEE"/>
<polyline points="289.6,845.0 337.4,813.3 385.2,783.5 433.1,739.9 480.9,700.1 528.8,661.7 576.6,628.8 624.5,600.6 672.3,577.2 720.1,538.3 768.0,489.2 815.8,444.3 863.7,363.3 911.5,324.9 959.4,199.6 1007.2,228.0 1055.0,162.0 1102.9,171.8 1150.7,220.7 1198.6,288.9 1246.4,563.7 1294.3,609.5 1342.1,589.7 1389.9,593.9 1437.8,676.6 1485.6,642.0 1533.5,837.2 1581.3,825.1 1629.2,870.7 1677.0,885.6 1724.8,913.6" stroke="#A2142F"/>
<polyline points="289.6,836.3 337.4,802.9 385.2,773.4 433.1,728.6 480.9,685.8 528.8,648.6 576.6,610.5 624.5,584.5 672.3,561.4 720.1,516.6 768.0,469.4 815.8,425.4 863.7,342.4 911.5,248.1 959.4,206.4 1007.2,165.1 1055.0,116.3 1102.9,89.5 1150.7,156.7 1198.6,261.7 1246.4,486.8 1294.3,533.4 1342.1,544.9 1389.9,570.4 1437.8,584.1 1485.6,622.1 1533.5,741.0 1581.3,775.4 1629.2,826.6 1677.0,826.7 1724.8,851.3" stroke="#0072BD"/>
<polyline points="289.6,844.9 337.4,814.2 385.2,776.4 433.1,736.1 480.9,698.6 528.8,659.0 576.6,617.6 624.5,600.8 672.3,573.2 720.1,534.9 768.0,490.7 815.8,437.6 863.7,360.8 911.5,290.8 959.4,239.0 1007.2,180.8 1055.0,167.6 1102.9,147.1 1150.7,208.0 1198.6,284.8 1246.4,488.9 1294.3,614.8 1342.1,563.6 1389.9,575.0 1437.8,648.4 1485.6,675.4 1533.5,738.9 1581.3,762.7 1629.2,872.4 1677.0,863.9 1724.8,952.9" stroke="#D95319"/>
<polyline points="289.6,843.6 337.4,813.7 385.2,779.4 433.1,738.7 480.9,694.5 528.8,662.7 576.6,624.8 624.5,598.5 672.3,570.3 720.1,539.8 768.0,483.6 815.8,444.2 863.7,361.6 911.5,265.4 959.4,193.2 1007.2,204.2 1055.0,112.3 1102.9,106.9 1150.7,151.0 1198.6,292.7 1246.4,502.6 1294.3,531.2 1342.1,597.8 1389.9,644.6 1437.8,652.2 1485.6,681.1 1533.5,726.1 1581.3,850.4 1629.2,832.9 1677.0,802.0 1724.8,872.5" stroke="#EDB120"/>
<polyline points="289.6,845.9 337.4,820.7 385.2,783.4 433.1,745.7 480.9,711.9 528.8,666.4 576.6,639.6 624.5,610.2 672.3,583.5 720.1,553.1 768.0,502.5 815.8,450.8 863.7,392.4 911.5,287.7 959.4,224.2 1007.2,192.9 1055.0,186.2 1102.9,122.5 1150.7,174.3 1198.6,339.1 1246.4,471.2 1294.3,591.9 1342.1,607.2 1389.9,582.7 1437.8,634.9 1485.6,702.3 1533.5,792.8 1581.3,857.0 1629.2,856.1 1677.0,907.3 1724.8,936.6" stroke="#7E2F8E"/>
<polyline points="289.6,838.5 337.4,807.7 385.2,774.3 433.1,732.4 480.9,687.9 528.8,649.8 576.6,611.5 624.5,581.5 672.3,561.1 720.1,518.7 768.0,471.3 815.8,425.7 863.7,362.2 911.5,235.3 959.4,212.3 1007.2,110.3 1055.0,97.0 1102.9,139.3 1150.7,146.3 1198.6,254.9 1246.4,438.8 1294.3,498.1 1342.1,559.3 1389.9,586.1 1437.8,618.5 1485.6,697.2 1533.5,723.1 1581.3,774.9 1629.2,764.0 1677.0,801.6 1724.8,867.6" stroke="#77AC30"/>
<polyline points="289.6,840.9 337.4,809.8 385.2,776.6 433.1,732.5 480.9,688.6 528.8,651.1 576.6,614.0 624.5,587.9 672.3,566.2 720.1,522.9 768.0,471.6 815.8,426.3 863.7,376.9 911.5,279.3 959.4,175.5 1007.2,135.4 1055.0,124.2 1102.9,110.4 1150.7,155.6 1198.6,239.6 1246.4,428.5 1294.3,539.7 1342.1,579.8 1389.9,576.6 1437.8,665.7 1485.6,645.6 1533.5,739.5 1581.3,774.6 1629.2,820.0 1677.0,805.4 1724.8,936.9" stroke="#4DBEEE"/>
<polyline points="289.6,845.8 337.4,817.9 385.2,783.2 433.1,745.1 480.9,699.4 528.8,662.0 576.6,629.0 624.5,606.2 672.3,581.1 720.1,531.9 768.0,491.9 815.8,444.9 863.7,378.4 911.5,291.5 959.4,222.2 1007.2,185.6 1055.0,104.9 1102.9,162.8 1150.7,137.5 1198.6,298.8 1246.4,465.5 1294.3,588.2 1342.1,556.1 1389.9,637.4 1437.8,655.1 1485.6,704.2 1533.5,807.6 1581.3,850.1 1629.2,814.2 1677.0,885.0 1724.8,919.6" stroke="#A2142F"/>
<polyline points="289.6,847.0 337.4,814.8 385.2,777.1 433.1,738.7 480.9,699.2 528.8,659.9 576.6,624.4 624.5,599.8 672.3,572.4 720.1,537.9 768.0,491.7 815.8,439.8 863.7,375.4 911.5,248.3 959.4,185.3 1007.2,161.6 1055.0,111.0 1102.9,127.0 1150.7,173.0 1198.6,310.3 1246.4,464.9 1294.3,607.1 1342.1,545.3 1389.9,579.7 1437.8,657.3 1485.6,677.9 1533.5,703.9 1581.3,792.2 1629.2,822.5 1677.0,800.0 1724.8,878.0" stroke="#0072BD"/>
<polyline points="289.6,849.6 337.4,820.1 385.2,786.3 433.1,742.6 480.9,705.3 528.8,673.3 576.6,639.3 624.5,615.6 672.3,585.7 720.1,551.0 768.0,492.7 815.8,452.3 863.7,377.1 911.5,266.5 959.4,211.8 1007.2,222.9 1055.0,190.8 1102.9,145.5 1150.7,193.5 1198.6,338.0 1246.4,491.3 1294.3,604.9 1342.1,634.5 1389.9,661.0 1437.8,651.9 1485.6,615.9 1533.5,781.5 1581.3,853.3 1629.2,828.5 1677.0,854.7 1724.8,898.0" stroke="#D95319"/>
<polyline points="289.6,845.7 337.4,813.7 385.2,779.8 433.1,738.3 480.9,700.5 528.8,660.3 576.6,623.7 624.5,593.9 672.3,570.6 720.1,532.5 768.0,489.0 815.8,438.0 863.7,358.8 911.5,283.7 959.4,221.7 1007.2,147.3 1055.0,134.3 1102.9,97.7 1150.7,165.4 1198.6,307.0 1246.4,509.5 1294.3,575.5 1342.1,602.2 1389.9,605.6 1437.8,580.3 1485.6,641.1 1533.5,726.4 1581.3,799.3 1629.2,829.0 1677.0,897.6 1724.8,879.4" stroke="#EDB120"/>
<polyline points="289.6,840.1 337.4,810.4 385.2,776.7 433.1,735.7 480.9,692.0 528.8,656.7 576.6,615.2 624.5,591.5 672.3,568.5 720.1,527.6 768.0,480.6 815.8,430.1 863.7,360.1 911.5,253.6 959.4,176.3 1007.2,139.6 1055.0,107.1 1102.9,103.5 1150.7,143.8 1198.6,285.3 1246.4,491.9 1294.3,552.7 1342.1,571.1 1389.9,561.9 1437.8,623.7 1485.6,632.4 1533.5,730.4 1581.3,756.1 1629.2,823.0 1677.0,852.7 1724.8,902.1" stroke="#7E2F8E"/>
<polyline points="289.6,857.2 337.4,823.3 385.2,791.4 433.1,754.6 480.9,720.3 528.8,676.9 576.6,649.6 624.5,625.4 672.3,596.7 720.1,558.9 768.0,512.8 815.8,455.1 863.7,404.3 911.5,307.2 959.4,257.4 1007.2,223.2 1055.0,183.6 1102.9,196.1 1150.7,209.3 1198.6,348.4 1246.4,468.5 1294.3,599.6 1342.1,570.5 1389.9,666.9 1437.8,686.2 1485.6,707.1 1533.5,832.2 1581.3,818.6 1629.2,861.9 1677.0,872.4 1724.8,916.6" stroke="#77AC30"/>
<polyline points="289.6,835.7 337.4,802.7 385.2,771.4 433.1,727.1 480.9,681.1 528.8,651.0 576.6,611.2 624.5,584.0 672.3,560.8 720.1,519.2 768.0,476.8 815.8,425.9 863.7,353.7 911.5,263.0 959.4,188.9 1007.2,170.2 1055.0,115.3 1102.9,155.2 1150.7,175.0 1198.6,256.1 1246.4,447.6 1294.3,616.1 1342.1,555.5 1389.9,600.0 1437.8,600.2 1485.6,725.5 1533.5,796.3 1581.3,831.1 1629.2,804.9 1677.0,838.7 1724.8,944.3" stroke="#4DBEEE"/>
<polyline points="289.6,835.4 337.4,801.3 385.2,773.3 433.1,729.7 480.9,680.7 528.8,647.9 576.6,610.0 624.5,583.5 672.3,562.5 720.1,523.1 768.0,470.7 815.8,426.5 863.7,352.8 911.5,266.3 959.4,176.8 1007.2,171.3 1055.0,95.3 1102.9,123.7 1150.7,131.1 1198.6,272.4 1246.4,541.6 1294.3,599.0 1342.1,538.7 1389.9,529.8 1437.8,614.4 1485.6,693.4 1533.5,744.2 1581.3,794.2 1629.2,774.2 1677.0,816.0 1724.8,853.9" stroke="#A2142F"/>
<polyline points="289.6,838.9 337.4,807.9 385.2,777.9 433.1,734.1 480.9,689.6 528.8,654.4 576.6,614.8 624.5,589.4 672.3,567.0 720.1,523.2 768.0,482.1 815.8,432.0 863.7,365.8 911.5,243.3 959.4,200.6 1007.2,132.8 1055.0,129.0 1102.9,84.1 1150.7,150.3 1198.6,264.1 1246.4,431.3 1294.3,532.8 1342.1,561.8 1389.9,560.6 1437.8,584.5 1485.6,632.8 1533.5,726.7 1581.3,822.9 1629.2,817.8 1677.0,881.6 1724.8,915.8" stroke="#0072BD"/>
<polyline points="289.6,846.4 337.4,812.3 385.2,779.0 433.1,737.5 480.9,695.3 528.8,660.1 576.6,624.5 624.5,597.7 672.3,571.9 720.1,535.0 768.0,481.0 815.8,438.4 863.7,361.8 911.5,256.3 959.4,197.8 1007.2,179.4 1055.0,146.6 1102.9,115.7 1150.7,185.7 1198.6,285.9 1246.4,517.3 1294.3,595.3 1342.1,604.1 1389.9,572.2 1437.8,587.9 1485.6,715.6 1533.5,728.2 1581.3,820.3 1629.2,808.5 1677.0,893.6 1724.8,886.5" stroke="#D95319"/>
<polyline points="289.6,841.5 337.4,807.1 385.2,777.8 433.1,735.0 480.9,691.0 528.8,654.8 576.6,621.8 624.5,592.7 672.3,568.9 720.1,527.2 768.0,481.1 815.8,435.6 863.7,351.5 911.5,286.2 959.4,189.1 1007.2,200.2 1055.0,108.1 1102.9,103.0 1150.7,159.1 1198.6,265.7 1246.4,466.1 1294.3,544.0 1342.1,609.0 1389.9,559.4 1437.8,654.8 1485.6,683.0 1533.5,742.1 1581.3,773.1 1629.2,856.4 1677.0,788.6 1724.8,868.5" stroke="#EDB120"/>
<polyline points="289.6,847.1 337.4,817.3 385.2,782.0 433.1,743.7 480.9,704.1 528.8,666.9 576.6,628.1 624.5,606.1 672.3,584.9 720.1,539.4 768.0,495.4 815.8,441.4 863.7,380.9 911.5,272.0 959.4,243.8 1007.2,161.3 1055.0,153.2 1102.9,121.8 1150.7,191.9 1198.6,313.1 1246.4,569.4 1294.3,602.4 1342.1,624.0 1389.9,668.5 1437.8,690.8 1485.6,654.8 1533.5,797.1 1581.3,824.3 1629.2,864.1 1677.0,886.7 1724.8,867.1" stroke="#7E2F8E"/>
<polyline points="289.6,853.0 337.4,827.0 385.2,790.4 433.1,749.7 480.9,714.3 528.8,677.2 576.6,642.7 624.5,611.8 672.3,598.2 720.1,556.6 768.0,510.6 815.8,460.3 863.7,399.3 911.5,314.3 959.4,283.1 1007.2,221.2 1055.0,197.4 1102.9,179.3 1150.7,237.4 1198.6,355.4 1246.4,476.0 1294.3,653.2 1342.1,670.6 1389.9,670.6 1437.8,634.3 1485.6,760.0 1533.5,829.6 1581.3,837.0 1629.2,860.5 1677.0,924.6 1724.8,938.2" stroke="#77AC30"/>
<polyline points="289.6,834.5 337.4,801.9 385.2,770.6 433.1,725.5 480.9,683.4 528.8,644.9 576.6,612.5 624.5,579.8 672.3,557.3 720.1,520.6 768.0,473.6 815.8,421.7 863.7,345.9 911.5,253.2 959.4,196.0 1007.2,134.0 1055.0,139.6 1102.9,134.4 1150.7,145.1 1198.6,246.6 1246.4,461.6 1294.3,559.8 1342.1,602.5 1389.9,541.6 1437.8,590.8 1485.6,607.5 1533.5,720.4 1581.3,826.0 1629.2,871.8 1677.0,860.1 1724.8,886.8" stroke="#4DBEEE"/>
<polyline points="289.6,843.3 337.4,815.8 385.2,780.7 433.1,738.1 480.9,695.7 528.8,657.6 576.6,624.9 624.5,603.7 672.3,572.8 720.1,533.3 768.0,488.2 815.8,438.7 863.7,377.2 911.5,255.0 959.4,219.1 1007.2,154.6 1055.0,157.5 1102.9,136.7 1150.7,159.8 1198.6,284.1 1246.4,489.2 1294.3,623.0 1342.1,609.6 1389.9,610.6 1437.8,595.6 1485.6,626.2 1533.5,720.0 1581.3,781.5 1629.2,833.4 1677.0,851.0 1724.8,938.0" stroke="#A2142F"/>
<polyline points="289.6,844.8 337.4,815.2 385.2,781.4 433.1,739.4 480.9,697.5 528.8,662.9 576.6,634.2 624.5,601.0 672.3,585.0 720.1,547.7 768.0,496.7 815.8,450.4 863.7,381.5 911.5,296.8 959.4,267.6 1007.2,224.9 1055.0,183.0 1102.9,166.6 1150.7,203.1 1198.6,330.6 1246.4,475.7 1294.3,569.7 1342.1,625.8 1389.9,566.9 1437.8,674.7 1485.6,710.6 1533.5,794.8 1581.3,838.5 1629.2,835.1 1677.0,929.5 1724.8,879.9" stroke="#0072BD"/>
<polyline points="289.6,851.1 337.4,819.0 385.2,787.1 433.1,749.9 480.9,716.3 528.8,672.3 576.6,643.8 624.5,614.6 672.3,592.4 720.1,558.1 768.0,504.0 815.8,458.6 863.7,393.0 911.5,323.1 959.4,272.4 1007.2,184.8 1055.0,179.7 1102.9,148.3 1150.7,169.6 1198.6,334.2 1246.4,519.4 1294.3,578.0 1342.1,601.9 1389.9,677.5 1437.8,697.5 1485.6,756.6 1533.5,844.9 1581.3,864.7 1629.2,902.0 1677.0,914.9 1724.8,956.7" stroke="#D95319"/>
<polyline points="289.6,852.8 337.4,823.8 385.2,789.4 433.1,751.6 480.9,716.7 528.8,678.8 576.6,643.3 624.5,620.2 672.3,596.4 720.1,560.4 768.0,510.3 815.8,465.0 863.7,397.8 911.5,337.4 959.4,251.7 1007.2,232.0 1055.0,149.7 1102.9,181.7 1150.7,237.8 1198.6,359.5 1246.4,567.2 1294.3,634.7 1342.1,642.1 1389.9,671.9 1437.8,712.4 1485.6,753.5 1533.5,816.6 1581.3,857.9 1629.2,798.6 1677.0,915.3 1724.8,935.8" stroke="#EDB120"/>
<polyline points="289.6,837.8 337.4,807.4 385.2,773.6 433.1,731.1 480.9,686.0 528.8,650.8 576.6,611.9 624.5,587.0 672.3,560.1 720.1,527.0 768.0,471.4 815.8,428.6 863.7,348.8 911.5,265.8 959.4,192.9 1007.2,128.4 1055.0,110.5 1102.9,136.3 1150.7,169.2 1198.6,251.4 1246.4,463.7 1294.3,526.4 1342.1,600.6 1389.9,552.3 1437.8,646.1 1485.6,700.1 1533.5,729.8 1581.3,851.0 1629.2,789.6 1677.0,810.5 1724.8,896.4" stroke="#7E2F8E"/>
<polyline points="289.6,845.7 337.4,815.4 385.2,779.6 433.1,739.8 480.9,702.2 528.8,660.5 576.6,631.6 624.5,605.9 672.3,578.4 720.1,542.8 768.0,495.8 815.8,442.8 863.7,380.0 911.5,290.1 959.4,206.7 1007.2,194.2 1055.0,120.9 1102.9,86.9 1150.7,198.2 1198.6,309.8 1246.4,561.9 1294.3,570.0 1342.1,632.0 1389.9,578.4 1437.8,600.5 1485.6,678.2 1533.5,785.6 1581.3,817.8 1629.2,869.9 1677.0,903.4 1724.8,878.5" stroke="#77AC30"/>
<polyline points="289.6,855.5 337.4,828.4 385.2,792.3 433.1,751.7 480.9,717.1 528.8,682.5 576.6,646.0 624.5,626.5 672.3,592.0 720.1,561.7 768.0,510.0 815.8,464.4 863.7,410.4 911.5,330.3 959.4,278.9 1007.2,242.0 1055.0,209.0 1102.9,182.6 1150.7,181.4 1198.6,321.4 1246.4,564.7 1294.3,634.3 1342.1,659.9 1389.9,638.7 1437.8,669.2 1485.6,655.7 1533.5,767.0 1581.3,843.9 1629.2,837.8 1677.0,833.0 1724.8,972.0" stroke="#4DBEEE"/>
<polyline points="289.6,835.3 337.4,802.8 385.2,770.2 433.1,727.0 480.9,678.5 528.8,647.0 576.6,605.3 624.5,577.2 672.3,558.5 720.1,516.0 768.0,470.9 815.8,419.3 863.7,354.5 911.5,232.9 959.4,157.6 1007.2,123.5 1055.0,89.0 1102.9,83.7 1150.7,151.2 1198.6,273.9 1246.4,449.6 1294.3,526.7 1342.1,550.1 1389.9,565.1 1437.8,566.2 1485.6,699.5 1533.5,706.9 1581.3,759.6 1629.2,855.0 1677.0,814.2 1724.8,850.9" stroke="#A2142F"/>
<polyline points="289.6,851.8 337.4,824.2 385.2,785.8 433.1,744.6 480.9,709.0 528.8,670.8 576.6,633.7 624.5,610.6 672.3,577.6 720.1,548.5 768.0,498.9 815.8,449.8 863.7,376.6 911.5,322.8 959.4,249.4 1007.2,224.3 1055.0,138.0 1102.9,167.7 1150.7,224.2 1198.6,331.1 1246.4,472.7 1294.3,583.3 1342.1,574.5 1389.9,598.2 1437.8,642.3 1485.6,745.4 1533.5,826.2 1581.3,805.3 1629.2,855.6 1677.0,833.9 1724.8,869.9" stroke="#0072BD"/>
<polyline points="289.6,836.2 337.4,805.0 385.2,775.7 433.1,730.8 480.9,688.8 528.8,652.5 576.6,607.5 624.5,586.2 672.3,561.2 720.1,526.6 768.0,476.7 815.8,424.8 863.7,337.8 911.5,258.3 959.4,190.1 1007.2,116.5 1055.0,90.3 1102.9,108.1 1150.7,134.7 1198.6,270.8 1246.4,457.7 1294.3,527.7 1342.1,631.7 1389.9,547.1 1437.8,574.1 1485.6,630.7 1533.5,701.3 1581.3,804.4 1629.2,814.5 1677.0,826.2 1724.8,880.2" stroke="#D95319"/>
<polyline points="289.6,853.6 337.4,821.5 385.2,788.4 433.1,750.2 480.9,715.9 528.8,676.2 576.6,645.8 624.5,619.8 672.3,587.2 720.1,551.9 768.0,509.4 815.8,455.2 863.7,393.9 911.5,325.1 959.4,228.5 1007.2,215.1 1055.0,201.5 1102.9,168.7 1150.7,193.7 1198.6,331.4 1246.4,509.8 1294.3,554.8 1342.1,640.9 1389.9,632.2 1437.8,594.9 1485.6,745.8 1533.5,756.6 1581.3,836.5 1629.2,864.4 1677.0,875.0 1724.8,887.6" stroke="#EDB120"/>
<polyline points="289.6,852.6 337.4,825.1 385.2,790.8 433.1,750.4 480.9,716.6 528.8,681.5 576.6,645.1 624.5,627.9 672.3,599.2 720.1,557.4 768.0,515.1 815.8,463.4 863.7,410.8 911.5,297.2 959.4,277.0 1007.2,202.3 1055.0,192.9 1102.9,197.1 1150.7,224.5 1198.6,363.9 1246.4,541.3 1294.3,642.3 1342.1,624.9 1389.9,645.8 1437.8,696.1 1485.6,679.8 1533.5,788.2 1581.3,840.2 1629.2,900.8 1677.0,907.0 1724.8,916.3" stroke="#7E2F8E"/>
<polyline points="289.6,847.3 337.4,818.1 385.2,781.6 433.1,744.0 480.9,702.0 528.8,663.5 576.6,634.5 624.5,600.2 672.3,589.0 720.1,540.4 768.0,489.5 815.8,447.6 863.7,386.3 911.5,317.2 959.4,239.7 1007.2,168.3 1055.0,142.1 1102.9,146.7 1150.7,208.6 1198.6,317.4 1246.4,528.4 1294.3,609.8 1342.1,525.1 1389.9,585.5 1437.8,685.6 1485.6,664.6 1533.5,762.4 1581.3,782.3 1629.2,817.0 1677.0,830.4 1724.8,850.5" stroke="#77AC30"/>
<polyline points="289.6,838.6 337.4,806.3 385.2,771.9 433.1,726.6 480.9,684.9 528.8,645.2 576.6,612.0 624.5,582.2 672.3,553.3 720.1,515.0 768.0,475.2 815.8,423.2 863.7,336.1 911.5,237.0 959.4,156.0 1007.2,143.2 1055.0,82.3 1102.9,100.5 1150.7,153.5 1198.6,251.8 1246.4,440.0 1294.3,509.2 1342.1,537.2 1389.9,554.1 1437.8,594.2 1485.6,623.0 1533.5,723.5 1581.3,750.8 1629.2,766.9 1677.0,829.0 1724.8,866.5" stroke="#4DBEEE"/>
<polyline points="289.6,837.6 337.4,806.2 385.2,770.4 433.1,727.4 480.9,682.5 528.8,649.1 576.6,604.8 624.5,580.0 672.3,559.1 720.1,513.0 768.0,472.2 815.8,428.9 863.7,345.7 911.5,233.3 959.4,167.7 1007.2,115.5 1055.0,101.0 1102.9,114.7 1150.7,161.8 1198.6,237.9 1246.4,434.8 1294.3,536.6 1342.1,539.1 1389.9,529.1 1437.8,596.9 1485.6,655.4 1533.5,729.2 1581.3,766.9 1629.2,812.6 1677.0,793.3 1724.8,863.8" stroke="#A2142F"/>
<polyline points="289.6,844.5 337.4,818.5 385.2,778.0 433.1,738.8 480.9,701.8 528.8,661.2 576.6,626.5 624.5,602.1 672.3,567.7 720.1,535.7 768.0,486.0 815.8,443.5 863.7,371.2 911.5,279.7 959.4,218.9 1007.2,137.1 1055.0,157.7 1102.9,96.6 1150.7,170.5 1198.6,285.6 1246.4,529.3 1294.3,567.5 1342.1,554.3 1389.9,626.0 1437.8,699.9 1485.6,638.1 1533.5,816.3 1581.3,779.2 1629.2,810.7 1677.0,843.0 1724.8,871.9" stroke="#0072BD"/>
<polyline points="289.6,854.5 337.4,824.2 385.2,788.7 433.1,747.5 480.9,714.8 528.8,673.6 576.6,647.5 624.5,612.8 672.3,595.0 720.1,551.2 768.0,503.8 815.8,459.4 863.7,403.2 911.5,334.9 959.4,248.9 1007.2,206.9 1055.0,197.7 1102.9,150.2 1150.7,195.0 1198.6,352.6 1246.4,552.1 1294.3,621.4 1342.1,664.8 1389.9,587.4 1437.8,702.8 1485.6,766.6 1533.5,798.6 1581.3,808.7 1629.2,893.5 1677.0,911.2 1724.8,974.9" stroke="#D95319"/>
<polyline points="289.6,843.2 337.4,809.5 385.2,776.8 433.1,732.9 480.9,699.9 528.8,653.1 576.6,616.6 624.5,589.8 672.3,568.2 720.1,532.3 768.0,478.8 815.8,434.8 863.7,361.9 911.5,310.0 959.4,188.6 1007.2,160.8 1055.0,156.7 1102.9,86.6 1150.7,155.1 1198.6,271.1 1246.4,437.5 1294.3,533.1 1342.1,569.2 1389.9,616.7 1437.8,639.7 1485.6,630.3 1533.5,715.8 1581.3,811.2 1629.2,769.1 1677.0,807.5 1724.8,849.5" stroke="#EDB120"/>
<polyline points="289.6,847.2 337.4,819.5 385.2,782.2 433.1,743.8 480.9,710.1 528.8,672.9 576.6,631.3 624.5,606.8 672.3,581.7 720.1,542.9 768.0,504.3 815.8,453.3 863.7,389.6 911.5,276.2 959.4,256.1 1007.2,205.6 1055.0,162.8 1102.9,173.5 1150.7,225.0 1198.6,319.9 1246.4,503.2 1294.3,558.5 1342.1,654.6 1389.9,645.2 1437.8,581.2 1485.6,713.4 1533.5,823.6 1581.3,776.9 1629.2,798.1 1677.0,909.2 1724.8,919.4" stroke="#7E2F8E"/>
<polyline points="289.6,842.3 337.4,813.3 385.2,780.2 433.1,737.1 480.9,696.0 528.8,660.4 576.6,625.5 624.5,604.1 672.3,577.5 720.1,536.4 768.0,485.4 815.8,437.3 863.7,346.5 911.5,271.6 959.4,200.1 1007.2,149.4 1055.0,152.9 1102.9,161.6 1150.7,137.8 1198.6,295.3 1246.4,501.7 1294.3,538.4 1342.1,555.2 1389.9,652.7 1437.8,660.6 1485.6,745.0 1533.5,732.5 1581.3,765.9 1629.2,804.7 1677.0,877.6 1724.8,938.5" stroke="#77AC30"/>
<polyline points="289.6,846.0 337.4,809.9 385.2,775.5 433.1,738.0 480.9,697.3 528.8,658.4 576.6,625.6 624.5,591.0 672.3,563.5 720.1,535.3 768.0,484.1 815.8,433.7 863.7,364.4 911.5,312.5 959.4,200.8 1007.2,198.0 1055.0,118.6 1102.9,162.0 1150.7,160.9 1198.6,287.9 1246.4,468.2 1294.3,566.9 1342.1,571.7 1389.9,560.0 1437.8,604.7 1485.6,676.0 1533.5,734.3 1581.3,763.0 1629.2,807.1 1677.0,875.6 1724.8,875.2" stroke="#4DBEEE"/>
<polyline points="289.6,849.5 337.4,819.2 385.2,785.8 433.1,749.4 480.9,706.5 528.8,674.3 576.6,637.3 624.5,609.9 672.3,586.5 720.1,553.5 768.0,500.7 815.8,456.8 863.7,403.9 911.5,282.4 959.4,210.0 1007.2,158.1 1055.0,178.4 1102.9,139.6 1150.7,191.7 1198.6,312.6 1246.4,562.8 1294.3,624.0 1342.1,637.4 1389.9,563.8 1437.8,629.1 1485.6,705.5 1533.5,789.9 1581.3,846.4 1629.2,888.2 1677.0,900.8 1724.8,949.8" stroke="#A2142F"/>
<polyline points="289.6,839.3 337.4,807.0 385.2,774.0 433.1,732.3 480.9,687.0 528.8,651.7 576.6,615.7 624.5,589.1 672.3,566.0 720.1,521.7 768.0,478.9 815.8,434.1 863.7,367.5 911.5,264.5 959.4,192.4 1007.2,141.0 1055.0,122.7 1102.9,107.6 1150.7,183.7 1198.6,274.2 1246.4,502.9 1294.3,529.6 1342.1,530.1 1389.9,543.8 1437.8,664.7 1485.6,646.2 1533.5,737.5 1581.3,875.0 1629.2,786.7 1677.0,842.4 1724.8,858.3" stroke="#0072BD"/>
<polyline points="289.6,842.8 337.4,813.1 385.2,778.5 433.1,740.7 480.9,693.9 528.8,657.2 576.6,617.5 624.5,596.8 672.3,569.3 720.1,532.4 768.0,484.3 815.8,438.8 863.7,356.7 911.5,270.5 959.4,203.1 1007.2,143.7 1055.0,128.0 1102.9,124.2 1150.7,182.6 1198.6,255.9 1246.4,539.5 1294.3,561.3 1342.1,591.9 1389.9,607.2 1437.8,579.9 1485.6,694.1 1533.5,758.9 1581.3,776.3 1629.2,837.5 1677.0,830.2 1724.8,865.6" stroke="#D95319"/>
<polyline points="289.6,851.4 337.4,820.8 385.2,785.7 433.1,746.0 480.9,712.3 528.8,669.5 576.6,638.2 624.5,612.0 672.3,588.1 720.1,552.0 768.0,499.9 815.8,455.5 863.7,393.8 911.5,301.2 959.4,233.1 1007.2,177.8 1055.0,176.2 1102.9,191.6 1150.7,199.3 1198.6,320.4 1246.4,506.2 1294.3,620.8 1342.1,644.7 1389.9,651.8 1437.8,680.1 1485.6,677.3 1533.5,833.0 1581.3,839.3 1629.2,875.5 1677.0,899.0 1724.8,943.2" stroke="#EDB120"/>
<polyline points="289.6,843.9 337.4,811.6 385.2,781.4 433.1,739.5 480.9,698.8 528.8,658.8 576.6,626.6 624.5,599.1 672.3,576.1 720.1,536.0 768.0,486.2 815.8,438.6 863.7,370.7 911.5,301.8 959.4,221.4 1007.2,167.5 1055.0,139.8 1102.9,159.7 1150.7,175.6 1198.6,297.8 1246.4,506.8 1294.3,608.3 1342.1,557.4 1389.9,599.4 1437.8,654.1 1485.6,678.6 1533.5,800.6 1581.3,853.8 1629.2,812.9 1677.0,925.6 1724.8,934.4" stroke="#7E2F8E"/>
<polyline points="289.6,857.0 337.4,826.8 385.2,787.5 433.1,749.6 480.9,716.9 528.8,678.6 576.6,647.2 624.5,614.0 672.3,592.5 720.1,558.8 768.0,513.3 815.8,459.7 863.7,383.2 911.5,302.5 959.4,246.3 1007.2,203.4 1055.0,192.6 1102.9,185.6 1150.7,229.9 1198.6,314.1 1246.4,480.5 1294.3,547.1 1342.1,613.7 1389.9,635.0 1437.8,607.3 1485.6,717.5 1533.5,800.3 1581.3,824.0 1629.2,861.3 1677.0,839.3 1724.8,890.1" stroke="#77AC30"/>
<polyline points="289.6,850.6 337.4,816.7 385.2,784.3 433.1,741.0 480.9,697.7 528.8,666.3 576.6,627.1 624.5,602.7 672.3,581.9 720.1,535.9 768.0,493.4 815.8,448.5 863.7,394.4 911.5,263.4 959.4,229.8 1007.2,167.8 1055.0,175.4 1102.9,127.5 1150.7,215.6 1198.6,282.3 1246.4,529.0 1294.3,626.6 1342.1,621.5 1389.9,604.1 1437.8,615.7 1485.6,633.1 1533.5,802.6 1581.3,841.6 1629.2,835.3 1677.0,810.1 1724.8,877.2" stroke="#4DBEEE"/>
<polyline points="289.6,838.9 337.4,809.5 385.2,776.8 433.1,733.1 480.9,685.4 528.8,646.7 576.6,613.5 624.5,588.5 672.3,566.8 720.1,520.5 768.0,479.0 815.8,428.1 863.7,352.6 911.5,241.4 959.4,172.9 1007.2,127.7 1055.0,105.2 1102.9,88.4 1150.7,136.8 1198.6,265.2 1246.4,429.1 1294.3,521.0 1342.1,534.9 1389.9,554.8 1437.8,639.4 1485.6,621.7 1533.5,786.7 1581.3,743.6 1629.2,773.8 1677.0,838.4 1724.8,841.3" stroke="#A2142F"/>
<polyline points="289.6,842.5 337.4,812.2 385.2,776.2 433.1,739.6 480.9,701.2 528.8,659.1 576.6,624.2 624.5,600.1 672.3,576.0 720.1,533.0 768.0,486.4 815.8,445.8 863.7,370.4 911.5,272.2 959.4,193.4 1007.2,113.9 1055.0,132.2 1102.9,136.0 1150.7,178.3 1198.6,293.0 1246.4,526.0 1294.3,586.0 1342.1,599.4 1389.9,595.7 1437.8,621.7 1485.6,687.7 1533.5,743.3 1581.3,852.4 1629.2,836.7 1677.0,856.1 1724.8,965.8" stroke="#0072BD"/>
<polyline points="289.6,854.4 337.4,822.7 385.2,787.6 433.1,750.4 480.9,713.4 528.8,679.5 576.6,647.1 624.5,622.4 672.3,597.9 720.1,562.0 768.0,504.8 815.8,456.4 863.7,390.8 911.5,326.5 959.4,265.4 1007.2,245.9 1055.0,202.7 1102.9,193.3 1150.7,210.0 1198.6,346.4 1246.4,566.2 1294.3,580.2 1342.1,616.5 1389.9,681.0 1437.8,723.8 1485.6,662.7 1533.5,814.3 1581.3,811.8 1629.2,801.4 1677.0,871.8 1724.8,960.1" stroke="#D95319"/>
<polyline points="289.6,847.5 337.4,815.8 385.2,783.2 433.1,739.0 480.9,700.8 528.8,667.8 576.6,631.9 624.5,601.5 672.3,575.4 720.1,541.4 768.0,495.3 815.8,446.6 863.7,375.8 911.5,289.9 959.4,210.5 1007.2,185.9 1055.0,132.0 1102.9,114.0 1150.7,194.4 1198.6,298.3 1246.4,476.9 1294.3,606.1 1342.1,619.6 1389.9,671.0 1437.8,709.2 1485.6,680.8 1533.5,770.5 1581.3,798.5 1629.2,794.7 1677.0,912.5 1724.8,940.7" stroke="#EDB120"/>
<polyline points="289.6,857.7 337.4,828.9 385.2,792.8 433.1,755.8 480.9,720.8 528.8,677.6 576.6,652.7 624.5,624.8 672.3,597.6 720.1,565.7 768.0,517.2 815.8,464.2 863.7,405.0 911.5,334.1 959.4,267.3 1007.2,217.3 1055.0,209.6 1102.9,176.2 1150.7,236.1 1198.6,350.6 1246.4,537.7 1294.3,648.2 1342.1,620.2 1389.9,658.9 1437.8,704.7 1485.6,755.5 1533.5,811.1 1581.3,796.8 1629.2,805.5 1677.0,831.6 1724.8,906.5" stroke="#7E2F8E"/>
<polyline points="289.6,836.0 337.4,803.1 385.2,770.2 433.1,727.6 480.9,680.4 528.8,645.3 576.6,607.3 624.5,586.6 672.3,554.5 720.1,514.6 768.0,468.0 815.8,420.4 863.7,344.8 911.5,230.7 959.4,218.1 1007.2,111.6 1055.0,94.9 1102.9,109.0 1150.7,147.0 1198.6,252.1 1246.4,423.4 1294.3,548.7 1342.1,555.8 1389.9,605.3 1437.8,587.5 1485.6,629.2 1533.5,702.0 1581.3,774.0 1629.2,767.5 1677.0,816.9 1724.8,912.5" stroke="#77AC30"/>
<polyline points="289.6,843.0 337.4,813.1 385.2,778.5 433.1,736.9 480.9,691.4 528.8,658.1 576.6,625.0 624.5,600.4 672.3,576.2 720.1,531.8 768.0,488.0 815.8,436.6 863.7,353.1 911.5,258.1 959.4,228.8 1007.2,182.1 1055.0,92.7 1102.9,133.6 1150.7,156.9 1198.6,288.4 1246.4,484.1 1294.3,515.3 1342.1,530.6 1389.9,578.1 1437.8,611.5 1485.6,663.0 1533.5,716.2 1581.3,837.6 1629.2,765.2 1677.0,882.1 1724.8,881.3" stroke="#4DBEEE"/>
<polyline points="289.6,848.9 337.4,822.1 385.2,785.0 433.1,746.2 480.9,706.9 528.8,671.5 576.6,639.1 624.5,617.4 672.3,591.4 720.1,550.6 768.0,501.5 815.8,452.8 863.7,383.5 911.5,299.2 959.4,235.7 1007.2,219.5 1055.0,176.7 1102.9,153.1 1150.7,219.1 1198.6,303.1 1246.4,532.9 1294.3,524.4 1342.1,619.3 1389.9,659.9 1437.8,687.5 1485.6,680.5 1533.5,801.5 1581.3,845.8 1629.2,845.2 1677.0,900.2 1724.8,922.6" stroke="#A2142F"/>
<polyline points="289.6,846.8 337.4,815.9 385.2,784.1 433.1,741.7 480.9,701.4 528.8,670.0 576.6,631.8 624.5,604.0 672.3,587.0 720.1,544.4 768.0,497.0 815.8,447.8 863.7,390.3 911.5,313.6 959.4,259.8 1007.2,183.2 1055.0,206.4 1102.9,142.9 1150.7,176.1 1198.6,318.1 1246.4,457.4 1294.3,568.4 1342.1,602.8 1389.9,636.5 1437.8,710.6 1485.6,727.4 1533.5,787.3 1581.3,840.7 1629.2,812.1 1677.0,920.0 1724.8,941.8" stroke="#0072BD"/>
<polyline points="289.6,849.3 337.4,816.8 385.2,781.8 433.1,740.8 480.9,702.4 528.8,663.9 576.6,634.3 624.5,603.8 672.3,582.8 720.1,546.0 768.0,496.5 815.8,449.6 863.7,355.9 911.5,292.8 959.4,217.1 1007.2,222.0 1055.0,159.7 1102.9,137.9 1150.7,192.1 1198.6,310.5 1246.4,561.5 1294.3,565.3 1342.1,612.1 1389.9,591.4 1437.8,661.2 1485.6,701.7 1533.5,782.4 1581.3,810.4 1629.2,878.7 1677.0,898.5 1724.8,927.8" stroke="#D95319"/>
<polyline points="289.6,845.2 337.4,816.5 385.2,781.6 433.1,743.6 480.9,704.3 528.8,663.3 576.6,633.2 624.5,612.1 672.3,583.8 720.1,540.9 768.0,496.3 815.8,452.2 863.7,395.5 911.5,264.7 959.4,264.3 1007.2,234.5 1055.0,194.4 1102.9,129.9 1150.7,209.5 1198.6,348.7 1246.4,551.4 1294.3,594.4 1342.1,589.4 1389.9,639.3 1437.8,697.8 1485.6,684.3 1533.5,801.2 1581.3,877.2 1629.2,891.4 1677.0,900.5 1724.8,975.5" stroke="#EDB120"/>
<polyline points="289.6,856.0 337.4,825.9 385.2,790.4 433.1,752.2 480.9,718.5 528.8,679.1 576.6,652.4 624.5,625.7 672.3,602.9 720.1,557.8 768.0,515.3 815.8,461.2 863.7,389.4 911.5,332.3 959.4,248.4 1007.2,234.9 1055.0,210.7 1102.9,178.0 1150.7,219.3 1198.6,334.4 1246.4,484.7 1294.3,609.2 1342.1,605.3 1389.9,648.3 1437.8,672.1 1485.6,733.2 1533.5,825.2 1581.3,875.8 1629.2,819.7 1677.0,863.3 1724.8,971.1" stroke="#7E2F8E"/>
<polyline points="289.6,854.3 337.4,822.4 385.2,791.5 433.1,744.4 480.9,711.7 528.8,673.2 576.6,642.2 624.5,610.7 672.3,590.4 720.1,552.2 768.0,506.7 815.8,448.0 863.7,382.2 911.5,288.4 959.4,264.6 1007.2,239.1 1055.0,196.4 1102.9,140.5 1150.7,206.9 1198.6,315.3 1246.4,511.6 1294.3,562.9 1342.1,617.7 1389.9,617.0 1437.8,677.6 1485.6,689.0 1533.5,844.3 1581.3,766.5 1629.2,812.3 1677.0,843.9 1724.8,918.8" stroke="#77AC30"/>
<polyline points="289.6,848.9 337.4,816.6 385.2,786.6 433.1,743.0 480.9,707.0 528.8,664.5 576.6,628.4 624.5,613.0 672.3,577.3 720.1,536.8 768.0,491.8 815.8,446.4 863.7,389.7 911.5,281.5 959.4,223.2 1007.2,193.4 1055.0,168.8 1102.9,124.7 1150.7,196.8 1198.6,299.1 1246.4,520.6 1294.3,603.3 1342.1,637.1 1389.9,667.7 1437.8,625.6 1485.6,656.7 1533.5,782.7 1581.3,821.4 1629.2,835.9 1677.0,894.1 1724.8,920.2" stroke="#4DBEEE"/>
<polyline points="289.6,846.8 337.4,814.6 385.2,780.8 433.1,738.5 480.9,702.9 528.8,662.9 576.6,632.5 624.5,605.2 672.3,576.7 720.1,541.5 768.0,493.9 815.8,444.7 863.7,363.2 911.5,292.3 959.4,232.9 1007.2,160.0 1055.0,160.8 1102.9,160.4 1150.7,166.3 1198.6,296.3 1246.4,520.9 1294.3,617.6 1342.1,622.7 1389.9,558.1 1437.8,609.6 1485.6,722.0 1533.5,748.8 1581.3,862.8 1629.2,877.2 1677.0,845.6 1724.8,931.9" stroke="#A2142F"/>
<polyline points="289.6,846.5 337.4,815.4 385.2,780.7 433.1,740.2 480.9,701.9 528.8,668.9 576.6,632.9 624.5,609.1 672.3,581.6 720.1,546.2 768.0,499.5 815.8,448.6 863.7,376.7 911.5,306.7 959.4,230.6 1007.2,186.7 1055.0,144.6 1102.9,126.8 1150.7,210.2 1198.6,312.8 1246.4,496.4 1294.3,594.1 1342.1,579.2 1389.9,652.1 1437.8,705.1 1485.6,677.6 1533.5,793.4 1581.3,839.6 1629.2,854.2 1677.0,897.3 1724.8,950.4" stroke="#0072BD"/>
<polyline points="289.6,840.0 337.4,810.2 385.2,773.8 433.1,732.6 480.9,695.1 528.8,654.9 576.6,618.9 624.5,596.3 672.3,573.4 720.1,526.3 768.0,480.1 815.8,433.1 863.7,352.3 911.5,270.7 959.4,164.4 1007.2,172.7 1055.0,123.4 1102.9,157.5 1150.7,140.2 1198.6,291.2 1246.4,467.0 1294.3,529.3 1342.1,609.3 1389.9,623.5 1437.8,582.9 1485.6,696.0 1533.5,743.6 1581.3,780.9 1629.2,797.2 1677.0,838.2 1724.8,879.1" stroke="#D95319"/>
<polyline points="289.6,852.7 337.4,818.2 385.2,787.9 433.1,748.3 480.9,709.1 528.8,673.1 576.6,638.1 624.5,614.8 672.3,591.0 720.1,551.5 768.0,492.4 815.8,456.2 863.7,386.6 911.5,315.8 959.4,223.4 1007.2,195.1 1055.0,155.2 1102.9,169.9 1150.7,215.8 1198.6,322.0 1246.4,524.2 1294.3,621.7 1342.1,643.8 1389.9,642.1 1437.8,638.7 1485.6,726.4 1533.5,757.8 1581.3,831.9 1629.2,879.3 1677.0,818.1 1724.8,883.2" stroke="#EDB120"/>
<polyline points="289.6,843.8 337.4,819.5 385.2,782.5 433.1,743.2 480.9,704.2 528.8,664.9 576.6,628.7 624.5,606.5 672.3,578.5 720.1,545.6 768.0,501.1 815.8,453.7 863.7,372.0 911.5,281.7 959.4,208.2 1007.2,146.5 1055.0,124.9 1102.9,147.8 1150.7,216.3 1198.6,333.4 1246.4,478.1 1294.3,613.3 1342.1,600.3 1389.9,630.3 1437.8,694.8 1485.6,733.5 1533.5,820.8 1581.3,838.7 1629.2,852.0 1677.0,886.1 1724.8,942.4" stroke="#7E2F8E"/>
<polyline points="289.6,854.8 337.4,826.1 385.2,790.2 433.1,754.1 480.9,713.6 528.8,676.6 576.6,645.5 624.5,619.2 672.3,588.5 720.1,560.8 768.0,513.8 815.8,453.1 863.7,383.1 911.5,333.4 959.4,216.8 1007.2,214.8 1055.0,169.6 1102.9,158.5 1150.7,216.8 1198.6,313.6 1246.4,466.7 1294.3,579.2 1342.1,613.1 1389.9,635.9 1437.8,693.8 1485.6,747.8 1533.5,809.3 1581.3,827.7 1629.2,858.6 1677.0,831.3 1724.8,900.7" stroke="#77AC30"/>
<polyline points="289.6,840.8 337.4,808.2 385.2,778.7 433.1,734.1 480.9,691.6 528.8,656.8 576.6,627.0 624.5,601.1 672.3,574.3 720.1,536.6 768.0,483.3 815.8,437.5 863.7,371.7 911.5,254.5 959.4,181.9 1007.2,157.0 1055.0,158.7 1102.9,172.1 1150.7,158.0 1198.6,319.7 1246.4,457.1 1294.3,582.6 1342.1,593.8 1389.9,595.1 1437.8,706.3 1485.6,718.5 1533.5,778.6 1581.3,855.3 1629.2,811.2 1677.0,883.8 1724.8,956.4" stroke="#4DBEEE"/>
<polyline points="289.6,837.2 337.4,806.2 385.2,769.9 433.1,725.9 480.9,682.3 528.8,645.6 576.6,607.0 624.5,585.1 672.3,556.9 720.1,513.6 768.0,467.9 815.8,424.4 863.7,334.2 911.5,245.7 959.4,157.1 1007.2,126.4 1055.0,101.9 1102.9,78.3 1150.7,135.1 1198.6,241.1 1246.4,452.1 1294.3,544.3 1342.1,539.8 1389.9,532.4 1437.8,577.1 1485.6,613.2 1533.5,718.2 1581.3,789.7 1629.2,803.0 1677.0,839.6 1724.8,846.5" stroke="#A2142F"/>
<polyline points="289.6,847.1 337.4,817.1 385.2,784.0 433.1,742.9 480.9,702.6 528.8,666.5 576.6,636.2 624.5,605.8 672.3,582.2 720.1,550.0 768.0,494.0 815.8,448.8 863.7,362.4 911.5,267.2 959.4,222.9 1007.2,211.5 1055.0,150.2 1102.9,128.7 1150.7,199.9 1198.6,322.7 1246.4,549.8 1294.3,542.2 1342.1,618.0 1389.9,583.4 1437.8,667.6 1485.6,720.7 1533.5,730.7 1581.3,870.2 1629.2,775.9 1677.0,855.6 1724.8,854.3" stroke="#0072BD"/>
<polyline points="289.6,855.0 337.4,828.0 385.2,791.9 433.1,755.1 480.9,716.8 528.8,677.0 576.6,644.7 624.5,627.4 672.3,599.5 720.1,556.5 768.0,511.8 815.8,460.9 863.7,405.9 911.5,306.5 959.4,219.9 1007.2,201.8 1055.0,189.7 1102.9,175.2 1150.7,207.3 1198.6,320.2 1246.4,565.7 1294.3,627.6 1342.1,598.1 1389.9,623.8 1437.8,719.3 1485.6,708.3 1533.5,835.0 1581.3,837.9 1629.2,851.5 1677.0,872.1 1724.8,949.0" stroke="#D95319"/>
<polyline points="289.6,846.4 337.4,813.4 385.2,783.8 433.1,740.0 480.9,700.4 528.8,667.2 576.6,628.0 624.5,604.7 672.3,581.2 720.1,546.7 768.0,490.6 815.8,445.0 863.7,358.5 911.5,306.9 959.4,242.8 1007.2,211.0 1055.0,166.6 1102.9,141.2 1150.7,213.8 1198.6,306.4 1246.4,485.0 1294.3,586.7 1342.1,647.7 1389.9,582.4 1437.8,725.9 1485.6,683.9 1533.5,740.4 1581.3,844.4 1629.2,824.1 1677.0,904.6 1724.8,956.1" stroke="#EDB120"/>
<polyline points="289.6,843.7 337.4,815.2 385.2,779.8 433.1,740.5 480.9,699.8 528.8,663.1 576.6,630.5 624.5,608.7 672.3,578.9 720.1,545.2 768.0,501.0 815.8,445.1 863.7,390.5 911.5,285.3 959.4,243.0 1007.2,208.3 1055.0,153.7 1102.9,183.2 1150.7,222.7 1198.6,324.0 1246.4,517.6 1294.3,603.0 1342.1,636.4 1389.9,647.4 1437.8,611.8 1485.6,733.9 1533.5,819.0 1581.3,830.0 1629.2,830.7 1677.0,831.0 1724.8,945.4" stroke="#7E2F8E"/>
<polyline points="289.6,844.4 337.4,812.9 385.2,783.7 433.1,736.5 480.9,693.4 528.8,661.9 576.6,618.8 624.5,596.9 672.3,574.2 720.1,531.1 768.0,490.3 815.8,438.9 863.7,366.1 911.5,255.9 959.4,182.4 1007.2,160.5 1055.0,174.6 1102.9,120.9 1150.7,182.1 1198.6,290.7 1246.4,452.7 1294.3,585.7 1342.1,554.9 1389.9,539.2 1437.8,567.6 1485.6,686.2 1533.5,818.1 1581.3,812.1 1629.2,843.3 1677.0,805.1 1724.8,842.0" stroke="#77AC30"/>
<polyline points="289.6,840.0 337.4,807.4 385.2,771.8 433.1,731.4 480.9,688.8 528.8,651.5 576.6,612.3 624.5,590.6 672.3,567.6 720.1,523.5 768.0,482.9 815.8,430.6 863.7,363.8 911.5,259.4 959.4,226.2 1007.2,176.4 1055.0,95.6 1102.9,102.5 1150.7,172.7 1198.6,298.1 1246.4,534.1 1294.3,522.7 1342.1,580.4 1389.9,671.5 1437.8,636.5 1485.6,646.9 1533.5,717.4 1581.3,828.0 1629.2,860.0 1677.0,832.7 1724.8,939.6" stroke="#4DBEEE"/>
<polyline points="289.6,849.3 337.4,819.3 385.2,783.8 433.1,742.5 480.9,703.1 528.8,669.9 576.6,629.9 624.5,613.5 672.3,587.4 720.1,546.4 768.0,494.9 815.8,449.2 863.7,373.0 911.5,276.0 959.4,252.5 1007.2,243.6 1055.0,140.3 1102.9,143.6 1150.7,235.6 1198.6,332.6 1246.4,543.2 1294.3,581.1 1342.1,662.8 1389.9,640.8 1437.8,702.5 1485.6,743.9 1533.5,838.5 1581.3,859.4 1629.2,843.5 1677.0,907.7 1724.8,941.3" stroke="#A2142F"/>
<polyline points="289.6,835.2 337.4,804.2 385.2,770.1 433.1,729.1 480.9,683.9 528.8,647.2 576.6,605.8 624.5,584.9 672.3,558.2 720.1,521.4 768.0,468.7 815.8,423.8 863.7,340.5 911.5,250.7 959.4,164.8 1007.2,142.1 1055.0,86.1 1102.9,104.5 1150.7,145.3 1198.6,249.7 1246.4,447.2 1294.3,521.3 1342.1,576.4 1389.9,591.7 1437.8,617.6 1485.6,637.5 1533.5,715.0 1581.3,754.9 1629.2,784.3 1677.0,807.8 1724.8,853.0" stroke="#0072BD"/>
<polyline points="289.6,854.6 337.4,825.7 385.2,792.0 433.1,752.8 480.9,719.5 528.8,678.9 576.6,649.2 624.5,622.1 672.3,600.9 720.1,562.2 768.0,509.3 815.8,462.3 863.7,390.7 911.5,309.8 959.4,274.0 1007.2,184.5 1055.0,188.3 1102.9,172.5 1150.7,229.3 1198.6,339.4 1246.4,558.6 1294.3,612.9 1342.1,653.8 1389.9,643.9 1437.8,641.3 1485.6,720.1 1533.5,797.7 1581.3,880.2 1629.2,822.2 1677.0,826.4 1724.8,962.0" stroke="#D95319"/>
<polyline points="289.6,855.0 337.4,824.0 385.2,789.5 433.1,752.3 480.9,717.6 528.8,682.2 576.6,647.3 624.5,623.7 672.3,598.7 720.1,558.6 768.0,505.9 815.8,467.0 863.7,396.6 911.5,301.0 959.4,267.9 1007.2,196.9 1055.0,167.3 1102.9,186.5 1150.7,208.9 1198.6,345.8 1246.4,520.0 1294.3,644.3 1342.1,568.6 1389.9,545.5 1437.8,679.8 1485.6,702.6 1533.5,848.0 1581.3,844.7 1629.2,858.1 1677.0,906.7 1724.8,942.1" stroke="#EDB120"/>
<polyline points="289.6,856.3 337.4,825.3 385.2,790.6 433.1,754.9 480.9,715.6 528.8,679.2 576.6,649.7 624.5,625.6 672.3,599.3 720.1,564.0 768.0,516.7 815.8,465.3 863.7,398.1 911.5,332.6 959.4,253.5 1007.2,217.0 1055.0,206.9 1102.9,186.9 1150.7,205.7 1198.6,330.1 1246.4,518.8 1294.3,628.9 1342.1,652.7 1389.9,650.8 1437.8,723.1 1485.6,729.0 1533.5,784.1 1581.3,856.2 1629.2,889.4 1677.0,910.5 1724.8,957.0" stroke="#7E2F8E"/>
<polyline points="289.6,840.7 337.4,808.6 385.2,776.0 433.1,730.5 480.9,689.1 528.8,651.2 576.6,613.4 624.5,591.4 672.3,562.6 720.1,524.0 768.0,471.8 815.8,427.7 863.7,351.4 911.5,252.7 959.4,166.7 1007.2,154.3 1055.0,109.2 1102.9,125.1 1150.7,160.5 1198.6,273.1 1246.4,439.2 1294.3,516.5 1342.1,583.2 1389.9,663.8 1437.8,619.2 1485.6,663.3 1533.5,725.7 1581.3,845.3 1629.2,800.3 1677.0,818.3 1724.8,885.7" stroke="#77AC30"/>
<polyline points="289.6,838.6 337.4,808.1 385.2,774.2 433.1,731.0 480.9,685.3 528.8,648.9 576.6,611.7 624.5,580.6 672.3,558.9 720.1,521.8 768.0,474.2 815.8,433.6 863.7,335.2 911.5,245.9 959.4,174.3 1007.2,144.3 1055.0,101.6 1102.9,89.1 1150.7,150.6 1198.6,250.4 1246.4,534.7 1294.3,520.3 1342.1,564.6 1389.9,592.9 1437.8,603.1 1485.6,631.4 1533.5,727.9 1581.3,763.7 1629.2,772.9 1677.0,816.3 1724.8,916.1" stroke="#4DBEEE"/>
<polyline points="289.6,857.5 337.4,825.2 385.2,791.8 433.1,753.2 480.9,718.3 528.8,678.7 576.6,649.9 624.5,620.3 672.3,594.5 720.1,564.2 768.0,506.8 815.8,461.1 863.7,404.1 911.5,320.7 959.4,255.8 1007.2,246.4 1055.0,205.4 1102.9,182.3 1150.7,233.7 1198.6,347.9 1246.4,535.9 1294.3,645.9 1342.1,667.0 1389.9,608.1 1437.8,719.9 1485.6,765.9 1533.5,834.2 1581.3,815.2 1629.2,882.4 1677.0,879.8 1724.8,972.9" stroke="#A2142F"/>
<polyline points="289.6,839.8 337.4,808.3 385.2,774.4 433.1,733.6 480.9,692.1 528.8,651.8 576.6,616.4 624.5,590.3 672.3,572.1 720.1,530.4 768.0,483.9 815.8,439.9 863.7,364.9 911.5,266.7 959.4,201.3 1007.2,201.0 1055.0,138.6 1102.9,96.9 1150.7,163.4 1198.6,291.7 1246.4,429.6 1294.3,610.5 1342.1,638.6 1389.9,572.9 1437.8,683.7 1485.6,707.4 1533.5,784.4 1581.3,789.1 1629.2,884.0 1677.0,880.7 1724.8,897.2" stroke="#0072BD"/>
<polyline points="289.6,845.1 337.4,812.0 385.2,777.2 433.1,738.2 480.9,696.3 528.8,652.9 576.6,620.4 624.5,595.8 672.3,571.6 720.1,533.4 768.0,484.2 815.8,436.0 863.7,348.0 911.5,261.2 959.4,182.2 1007.2,180.2 1055.0,149.4 1102.9,102.8 1150.7,130.6 1198.6,277.0 1246.4,505.3 1294.3,535.0 1342.1,525.7 1389.9,597.6 1437.8,585.3 1485.6,652.6 1533.5,732.8 1581.3,802.2 1629.2,771.1 1677.0,865.6 1724.8,885.9" stroke="#D95319"/>
<polyline points="289.6,842.0 337.4,805.8 385.2,772.4 433.1,732.6 480.9,688.1 528.8,654.4 576.6,611.8 624.5,594.4 672.3,567.8 720.1,530.7 768.0,483.5 815.8,432.7 863.7,372.3 911.5,298.1 959.4,245.6 1007.2,153.5 1055.0,135.5 1102.9,144.3 1150.7,162.5 1198.6,294.0 1246.4,497.3 1294.3,607.4 1342.1,532.4 1389.9,655.9 1437.8,643.6 1485.6,691.5 1533.5,753.7 1581.3,854.1 1629.2,855.9 1677.0,869.9 1724.8,945.9" stroke="#EDB120"/>
<polyline points="289.6,848.8 337.4,820.4 385.2,783.3 433.1,744.7 480.9,711.8 528.8,667.5 576.6,633.5 624.5,609.5 672.3,586.6 720.1,549.7 768.0,500.3 815.8,451.4 863.7,385.4 911.5,339.7 959.4,202.9 1007.2,210.7 1055.0,182.5 1102.9,138.9 1150.7,217.9 1198.6,332.1 1246.4,438.3 1294.3,648.7 1342.1,650.9 1389.9,647.1 1437.8,635.2 1485.6,703.9 1533.5,771.1 1581.3,811.5 1629.2,880.5 1677.0,809.2 1724.8,866.2" stroke="#7E2F8E"/>
<polyline points="289.6,835.6 337.4,805.2 385.2,770.3 433.1,729.9 480.9,682.9 528.8,647.7 576.6,609.4 624.5,585.2 672.3,560.6 720.1,519.8 768.0,471.0 815.8,424.0 863.7,358.4 911.5,260.3 959.4,213.8 1007.2,129.4 1055.0,126.2 1102.9,130.1 1150.7,186.8 1198.6,268.8 1246.4,519.7 1294.3,513.3 1342.1,559.9 1389.9,551.3 1437.8,579.4 1485.6,663.7 1533.5,783.2 1581.3,768.7 1629.2,795.0 1677.0,818.9 1724.8,876.9" stroke="#77AC30"/>
<polyline points="289.6,846.1 337.4,815.7 385.2,778.4 433.1,740.2 480.9,700.3 528.8,660.5 576.6,621.5 624.5,600.3 672.3,572.6 720.1,539.5 768.0,491.6 815.8,447.0 863.7,366.9 911.5,287.3 959.4,215.8 1007.2,193.7 1055.0,128.7 1102.9,129.2 1150.7,160.0 1198.6,303.4 1246.4,505.6 1294.3,635.5 1342.1,617.4 1389.9,601.0 1437.8,687.2 1485.6,727.1 1533.5,758.4 1581.3,824.8 1629.2,821.4 1677.0,855.3 1724.8,917.2" stroke="#4DBEEE"/>
<polyline points="289.6,845.3 337.4,813.5 385.2,781.6 433.1,739.5 480.9,697.4 528.8,662.5 576.6,633.8 624.5,606.4 672.3,582.9 720.1,544.3 768.0,495.1 815.8,444.0 863.7,370.0 911.5,296.3 959.4,232.3 1007.2,203.7 1055.0,149.9 1102.9,193.8 1150.7,188.3 1198.6,348.1 1246.4,510.7 1294.3,639.6 1342.1,668.7 1389.9,678.0 1437.8,715.4 1485.6,736.8 1533.5,750.0 1581.3,791.4 1629.2,869.6 1677.0,916.0 1724.8,902.6" stroke="#A2142F"/>
<polyline points="289.6,854.3 337.4,823.2 385.2,786.1 433.1,749.2 480.9,718.7 528.8,672.5 576.6,641.9 624.5,616.8 672.3,589.8 720.1,556.1 768.0,509.6 815.8,456.6 863.7,402.6 911.5,312.0 959.4,265.1 1007.2,182.4 1055.0,191.1 1102.9,162.3 1150.7,164.3 1198.6,323.5 1246.4,467.9 1294.3,557.3 1342.1,641.5 1389.9,650.2 1437.8,616.9 1485.6,623.4 1533.5,810.8 1581.3,781.7 1629.2,866.8 1677.0,897.0 1724.8,933.6" stroke="#0072BD"/>
<polyline points="289.6,838.8 337.4,805.1 385.2,771.1 433.1,727.5 480.9,683.0 528.8,646.9 576.6,604.0 624.5,579.7 672.3,555.5 720.1,512.3 768.0,466.0 815.8,423.5 863.7,333.5 911.5,261.4 959.4,180.6 1007.2,131.3 1055.0,88.5 1102.9,79.4 1150.7,142.5 1198.6,247.4 1246.4,476.3 1294.3,497.4 1342.1,551.7 1389.9,571.9 1437.8,570.7 1485.6,636.5 1533.5,710.5 1581.3,753.2 1629.2,764.6 1677.0,822.7 1724.8,862.3" stroke="#D95319"/>
<polyline points="289.6,852.1 337.4,821.6 385.2,787.7 433.1,751.4 480.9,715.5 528.8,674.9 576.6,639.2 624.5,618.2 672.3,587.5 720.1,559.8 768.0,509.7 815.8,455.4 863.7,393.5 911.5,294.1 959.4,260.6 1007.2,190.2 1055.0,177.4 1102.9,157.1 1150.7,172.1 1198.6,338.3 1246.4,516.4 1294.3,577.1 1342.1,580.7 1389.9,624.1 1437.8,664.4 1485.6,689.3 1533.5,781.2 1581.3,835.9 1629.2,827.7 1677.0,910.8 1724.8,946.8" stroke="#EDB120"/>
<polyline points="289.6,844.5 337.4,810.3 385.2,778.2 433.1,737.9 480.9,696.7 528.8,657.8 576.6,621.9 624.5,599.2 672.3,575.8 720.1,540.1 768.0,486.5 815.8,442.2 863.7,375.5 911.5,280.4 959.4,217.6 1007.2,174.3 1055.0,157.0 1102.9,154.7 1150.7,157.3 1198.6,289.2 1246.4,462.2 1294.3,576.8 1342.1,570.2 1389.9,614.9 1437.8,688.8 1485.6,658.6 1533.5,805.0 1581.3,815.8 1629.2,816.2 1677.0,848.2 1724.8,904.0" stroke="#7E2F8E"/>
<polyline points="289.6,846.1 337.4,817.3 385.2,780.4 433.1,738.4 480.9,702.5 528.8,662.4 576.6,624.3 624.5,602.9 672.3,574.5 720.1,537.0 768.0,490.5 815.8,439.1 863.7,366.6 911.5,286.4 959.4,180.3 1007.2,166.2 1055.0,99.8 1102.9,137.7 1150.7,171.9 1198.6,278.0 1246.4,464.6 1294.3,513.7 1342.1,579.5 1389.9,562.9 1437.8,629.4 1485.6,706.1 1533.5,741.6 1581.3,767.2 1629.2,859.7 1677.0,825.0 1724.8,933.0" stroke="#77AC30"/>
<polyline points="289.6,849.1 337.4,819.6 385.2,782.4 433.1,739.7 480.9,703.1 528.8,666.1 576.6,637.5 624.5,603.6 672.3,582.3 720.1,538.7 768.0,495.0 815.8,450.2 863.7,386.0 911.5,299.9 959.4,230.8 1007.2,197.8 1055.0,172.9 1102.9,141.7 1150.7,188.1 1198.6,309.2 1246.4,514.3 1294.3,518.8 1342.1,586.6 1389.9,596.3 1437.8,640.0 1485.6,662.4 1533.5,811.3 1581.3,841.3 1629.2,832.0 1677.0,930.7 1724.8,936.3" stroke="#4DBEEE"/>
<polyline points="289.6,845.5 337.4,812.1 385.2,778.9 433.1,738.3 480.9,693.1 528.8,654.3 576.6,626.8 624.5,589.3 672.3,565.4 720.1,529.0 768.0,480.8 815.8,435.8 863.7,373.5 911.5,279.5 959.4,159.1 1007.2,137.7 1055.0,123.7 1102.9,110.2 1150.7,131.9 1198.6,264.6 1246.4,507.1 1294.3,544.9 1342.1,546.3 1389.9,540.2 1437.8,643.2 1485.6,738.2 1533.5,720.7 1581.3,813.2 1629.2,797.5 1677.0,799.6 1724.8,846.0" stroke="#A2142F"/>
<polyline points="289.6,854.2 337.4,824.1 385.2,788.0 433.1,751.5 480.9,716.5 528.8,681.9 576.6,645.3 624.5,618.0 672.3,592.1 720.1,561.1 768.0,513.9 815.8,460.6 863.7,406.7 911.5,321.6 959.4,255.3 1007.2,214.0 1055.0,184.6 1102.9,180.6 1150.7,216.5 1198.6,333.9 1246.4,504.4 1294.3,645.4 1342.1,623.6 1389.9,681.6 1437.8,635.5 1485.6,728.0 1533.5,807.3 1581.3,811.0 1629.2,810.1 1677.0,874.4 1724.8,973.4" stroke="#0072BD"/>
<polyline points="289.6,835.4 337.4,804.8 385.2,772.6 433.1,730.2 480.9,679.7 528.8,647.3 576.6,606.1 624.5,586.7 672.3,562.0 720.1,525.2 768.0,477.0 815.8,432.5 863.7,357.9 911.5,261.6 959.4,209.0 1007.2,128.1 1055.0,117.6 1102.9,92.4 1150.7,146.5 1198.6,275.2 1246.4,522.4 1294.3,540.6 1342.1,592.9 1389.9,584.6 1437.8,672.7 1485.6,689.6 1533.5,734.6 1581.3,829.1 1629.2,819.2 1677.0,836.7 1724.8,946.2" stroke="#D95319"/>
<polyline points="289.6,843.1 337.4,810.8 385.2,775.4 433.1,735.5 480.9,699.7 528.8,652.6 576.6,628.3 624.5,596.6 672.3,571.8 720.1,541.0 768.0,485.5 815.8,441.5 863.7,364.2 911.5,277.3 959.4,250.7 1007.2,226.7 1055.0,110.7 1102.9,119.0 1150.7,235.2 1198.6,320.9 1246.4,567.7 1294.3,641.4 1342.1,614.3 1389.9,592.3 1437.8,694.4 1485.6,719.7 1533.5,833.4 1581.3,849.5 1629.2,899.7 1677.0,822.4 1724.8,877.4" stroke="#EDB120"/>
<polyline points="289.6,837.9 337.4,804.8 385.2,773.7 433.1,729.8 480.9,690.6 528.8,650.7 576.6,614.2 624.5,585.6 672.3,561.3 720.1,521.3 768.0,472.4 815.8,429.7 863.7,335.8 911.5,243.6 959.4,171.9 1007.2,176.7 1055.0,105.7 1102.9,80.4 1150.7,149.2 1198.6,269.0 1246.4,478.7 1294.3,571.2 1342.1,584.2 1389.9,588.0 1437.8,659.9 1485.6,634.5 1533.5,753.1 1581.3,782.6 1629.2,806.6 1677.0,840.2 1724.8,871.3" stroke="#7E2F8E"/>
<polyline points="289.6,843.6 337.4,812.8 385.2,776.3 433.1,739.3 480.9,702.3 528.8,661.4 576.6,626.7 624.5,602.5 672.3,581.5 720.1,539.3 768.0,497.1 815.8,442.4 863.7,373.3 911.5,323.6 959.4,220.4 1007.2,155.7 1055.0,164.0 1102.9,142.6 1150.7,198.4 1198.6,329.8 1246.4,500.5 1294.3,615.7 1342.1,610.0 1389.9,633.1 1437.8,663.4 1485.6,661.1 1533.5,766.5 1581.3,818.0 1629.2,878.1 1677.0,859.6 1724.8,907.3" stroke="#77AC30"/>
<polyline points="289.6,851.5 337.4,822.0 385.2,786.2 433.1,747.5 480.9,707.5 528.8,675.0 576.6,644.8 624.5,616.2 672.3,593.2 720.1,552.9 768.0,506.5 815.8,459.9 863.7,397.3 911.5,326.2 959.4,265.7 1007.2,214.3 1055.0,173.9 1102.9,186.2 1150.7,203.3 1198.6,359.1 1246.4,541.0 1294.3,578.9 1342.1,618.7 1389.9,646.4 1437.8,726.6 1485.6,735.5 1533.5,784.7 1581.3,882.9 1629.2,850.7 1677.0,873.0 1724.8,966.6" stroke="#4DBEEE"/>
<polyline points="289.6,856.1 337.4,827.9 385.2,790.7 433.1,751.0 480.9,717.2 528.8,680.6 576.6,651.2 624.5,619.1 672.3,601.3 720.1,559.4 768.0,507.6 815.8,464.1 863.7,400.9 911.5,287.0 959.4,239.5 1007.2,223.8 1055.0,190.3 1102.9,153.8 1150.7,233.3 1198.6,332.9 1246.4,503.8 1294.3,633.9 1342.1,660.9 1389.9,636.2 1437.8,677.9 1485.6,735.2 1533.5,835.8 1581.3,835.6 1629.2,857.0 1677.0,875.8 1724.8,890.3" stroke="#A2142F"/>
<polyline points="289.6,840.6 337.4,807.3 385.2,775.8 433.1,731.2 480.9,692.0 528.8,651.9 576.6,615.8 624.5,583.9 672.3,559.9 720.1,520.7 768.0,481.3 815.8,429.8 863.7,343.5 911.5,230.2 959.4,165.6 1007.2,175.4 1055.0,97.6 1102.9,112.1 1150.7,128.8 1198.6,262.5 1246.4,490.4 1294.3,545.3 1342.1,524.6 1389.9,537.1 1437.8,606.7 1485.6,614.9 1533.5,705.1 1581.3,770.2 1629.2,769.6 1677.0,794.4 1724.8,860.0" stroke="#0072BD"/>
<polyline points="289.6,845.2 337.4,811.9 385.2,781.1 433.1,742.8 480.9,703.3 528.8,665.7 576.6,632.7 624.5,604.3 672.3,580.2 720.1,539.1 768.0,492.8 815.8,444.6 863.7,368.7 911.5,330.9 959.4,262.3 1007.2,151.6 1055.0,173.4 1102.9,158.0 1150.7,210.7 1198.6,324.8 1246.4,550.8 1294.3,552.1 1342.1,578.9 1389.9,613.3 1437.8,700.3 1485.6,711.8 1533.5,794.5 1581.3,831.7 1629.2,876.1 1677.0,898.2 1724.8,968.1" stroke="#D95319"/>
<polyline points="289.6,853.1 337.4,821.7 385.2,785.4 433.1,745.8 480.9,710.8 528.8,674.6 576.6,641.5 624.5,617.8 672.3,592.3 720.1,560.6 768.0,508.9 815.8,463.6 863.7,400.0 911.5,312.7 959.4,262.8 1007.2,212.9 1055.0,187.0 1102.9,130.8 1150.7,222.2 1198.6,361.4 1246.4,570.5 1294.3,604.6 1342.1,611.5 1389.9,678.6 1437.8,649.3 1485.6,736.5 1533.5,820.2 1581.3,870.5 1629.2,895.9 1677.0,931.4 1724.8,905.1" stroke="#EDB120"/>
<polyline points="289.6,837.4 337.4,802.6 385.2,772.0 433.1,727.8 480.9,686.5 528.8,648.4 576.6,612.4 624.5,587.7 672.3,561.0 720.1,524.5 768.0,478.5 815.8,429.0 863.7,348.2 911.5,239.9 959.4,168.8 1007.2,164.3 1055.0,147.6 1102.9,110.0 1150.7,133.6 1198.6,257.9 1246.4,474.5 1294.3,546.2 1342.1,534.1 1389.9,578.7 1437.8,607.0 1485.6,616.5 1533.5,718.6 1581.3,803.9 1629.2,784.6 1677.0,823.9 1724.8,923.5" stroke="#7E2F8E"/>
<polyline points="289.6,840.3 337.4,809.0 385.2,773.5 433.1,731.6 480.9,690.9 528.8,655.0 576.6,620.1 624.5,594.8 672.3,571.3 720.1,534.2 768.0,484.6 815.8,434.9 863.7,372.1 911.5,273.1 959.4,215.1 1007.2,158.4 1055.0,129.5 1102.9,181.2 1150.7,143.0 1198.6,307.7 1246.4,505.0 1294.3,601.5 1342.1,576.1 1389.9,607.8 1437.8,624.0 1485.6,679.2 1533.5,758.1 1581.3,868.7 1629.2,870.1 1677.0,890.4 1724.8,932.8" stroke="#77AC30"/>
<polyline points="289.6,850.0 337.4,817.8 385.2,786.0 433.1,744.8 480.9,707.4 528.8,668.5 576.6,636.1 624.5,610.1 672.3,591.2 720.1,554.3 768.0,502.1 815.8,454.4 863.7,386.9 911.5,309.4 959.4,234.4 1007.2,214.5 1055.0,127.7 1102.9,104.2 1150.7,234.4 1198.6,329.6 1246.4,524.8 1294.3,620.4 1342.1,627.1 1389.9,656.3 1437.8,620.1 1485.6,686.8 1533.5,831.4 1581.3,847.5 1629.2,826.0 1677.0,833.6 1724.8,974.4" stroke="#4DBEEE"/>
<polyline points="289.6,852.5 337.4,821.1 385.2,783.5 433.1,745.7 480.9,706.2 528.8,665.7 576.6,636.4 624.5,611.7 672.3,593.8 720.1,546.5 768.0,505.8 815.8,454.7 863.7,396.3 911.5,308.9 959.4,266.1 1007.2,204.8 1055.0,191.4 1102.9,177.7 1150.7,188.8 1198.6,327.3 1246.4,571.1 1294.3,647.0 1342.1,591.3 1389.9,646.1 1437.8,716.5 1485.6,731.9 1533.5,777.7 1581.3,861.8 1629.2,862.4 1677.0,828.7 1724.8,947.6" stroke="#A2142F"/>
<polyline points="289.6,848.1 337.4,817.9 385.2,785.2 433.1,745.5 480.9,706.6 528.8,668.2 576.6,626.4 624.5,599.4 672.3,578.8 720.1,538.9 768.0,493.1 815.8,441.2 863.7,377.8 911.5,316.5 959.4,215.3 1007.2,175.6 1055.0,124.4 1102.9,90.8 1150.7,171.2 1198.6,288.1 1246.4,498.5 1294.3,537.5 1342.1,634.2 1389.9,633.4 1437.8,700.7 1485.6,606.1 1533.5,736.3 1581.3,822.3 1629.2,827.9 1677.0,855.9 1724.8,895.0" stroke="#0072BD"/>
<polyline points="289.6,851.7 337.4,818.8 385.2,784.6 433.1,749.5 480.9,706.3 528.8,671.3 576.6,635.8 624.5,612.4 672.3,585.3 720.1,550.4 768.0,503.1 815.8,450.3 863.7,379.4 911.5,284.2 959.4,218.6 1007.2,228.9 1055.0,198.4 1102.9,111.4 1150.7,183.4 1198.6,318.7 1246.4,550.1 1294.3,549.6 1342.1,592.2 1389.9,631.3 1437.8,694.1 1485.6,669.4 1533.5,824.9 1581.3,798.2 1629.2,871.5 1677.0,852.1 1724.8,911.7" stroke="#D95319"/>
<polyline points="289.6,847.4 337.4,816.1 385.2,782.5 433.1,740.8 480.9,701.8 528.8,668.2 576.6,636.8 624.5,607.3 672.3,583.2 720.1,541.8 768.0,503.4 815.8,448.1 863.7,386.5 911.5,325.4 959.4,173.1 1007.2,192.4 1055.0,129.2 1102.9,151.4 1150.7,207.7 1198.6,305.4 1246.4,559.8 1294.3,652.5 1342.1,615.9 1389.9,639.0 1437.8,718.1 1485.6,731.2 1533.5,761.3 1581.3,863.7 1629.2,841.9 1677.0,921.3 1724.8,922.4" stroke="#EDB120"/>
<polyline points="289.6,847.6 337.4,811.4 385.2,779.4 433.1,734.9 480.9,704.9 528.8,660.1 576.6,623.6 624.5,598.6 672.3,573.6 720.1,534.7 768.0,494.4 815.8,443.1 863.7,359.3 911.5,277.1 959.4,204.9 1007.2,180.5 1055.0,107.9 1102.9,113.5 1150.7,139.9 1198.6,288.7 1246.4,458.9 1294.3,602.7 1342.1,580.1 1389.9,542.5 1437.8,685.0 1485.6,609.5 1533.5,836.3 1581.3,851.5 1629.2,863.8 1677.0,896.7 1724.8,926.2" stroke="#7E2F8E"/>
<polyline points="289.6,852.1 337.4,820.4 385.2,786.5 433.1,742.5 480.9,711.2 528.8,671.4 576.6,638.8 624.5,611.0 672.3,582.0 720.1,549.9 768.0,499.4 815.8,450.7 863.7,385.6 911.5,318.8 959.4,267.0 1007.2,168.6 1055.0,164.3 1102.9,107.4 1150.7,169.0 1198.6,299.6 1246.4,500.8 1294.3,587.3 1342.1,621.8 1389.9,621.7 1437.8,648.7 1485.6,641.7 1533.5,796.0 1581.3,782.9 1629.2,854.8 1677.0,851.3 1724.8,967.0" stroke="#77AC30"/>
<polyline points="289.6,849.7 337.4,821.1 385.2,786.8 433.1,745.4 480.9,707.1 528.8,674.0 576.6,638.4 624.5,610.3 672.3,582.1 720.1,544.1 768.0,493.2 815.8,453.4 863.7,381.4 911.5,308.0 959.4,263.4 1007.2,212.3 1055.0,150.4 1102.9,177.0 1150.7,150.1 1198.6,326.5 1246.4,525.4 1294.3,580.5 1342.1,627.4 1389.9,649.6 1437.8,614.0 1485.6,696.9 1533.5,757.2 1581.3,809.5 1629.2,855.3 1677.0,841.6 1724.8,876.3" stroke="#4DBEEE"/>
<polyline points="289.6,850.1 337.4,822.8 385.2,787.0 433.1,747.7 480.9,712.2 528.8,670.5 576.6,635.0 624.5,609.0 672.3,588.9 720.1,550.9 768.0,497.7 815.8,459.5 863.7,396.2 911.5,267.8 959.4,199.0 1007.2,210.2 1055.0,170.8 1102.9,132.7 1150.7,206.2 1198.6,323.2 1246.4,514.0 1294.3,635.9 1342.1,565.8 1389.9,626.3 1437.8,608.9 1485.6,710.9 1533.5,799.5 1581.3,885.4 1629.2,813.7 1677.0,888.7 1724.8,923.2" stroke="#A2142F"/>
<polyline points="289.6,844.8 337.4,812.0 385.2,778.2 433.1,737.8 480.9,697.2 528.8,663.4 576.6,626.0 624.5,605.4 672.3,573.8 720.1,531.6 768.0,488.5 815.8,441.9 863.7,391.9 911.5,257.0 959.4,242.0 1007.2,173.2 1055.0,128.2 1102.9,164.9 1150.7,171.0 1198.6,333.2 1246.4,528.7 1294.3,612.3 1342.1,590.7 1389.9,630.0 1437.8,686.9 1485.6,661.8 1533.5,775.4 1581.3,789.4 1629.2,821.9 1677.0,873.6 1724.8,861.0" stroke="#0072BD"/>
<polyline points="289.6,841.0 337.4,808.4 385.2,777.6 433.1,732.1 480.9,691.3 528.8,655.2 576.6,622.6 624.5,592.8 672.3,573.3 720.1,532.2 768.0,479.5 815.8,432.1 863.7,357.1 911.5,276.9 959.4,196.5 1007.2,132.5 1055.0,134.0 1102.9,111.9 1150.7,148.5 1198.6,284.3 1246.4,470.9 1294.3,507.2 1342.1,566.7 1389.9,600.4 1437.8,592.5 1485.6,619.4 1533.5,774.9 1581.3,832.2 1629.2,802.5 1677.0,844.7 1724.8,870.8" stroke="#D95319"/>
<polyline points="289.6,840.2 337.4,806.6 385.2,775.1 433.1,734.6 480.9,690.8 528.8,656.0 576.6,619.1 624.5,598.0 672.3,568.1 720.1,527.7 768.0,483.7 815.8,436.2 863.7,367.6 911.5,299.4 959.4,179.3 1007.2,172.4 1055.0,143.6 1102.9,122.8 1150.7,171.4 1198.6,282.8 1246.4,536.8 1294.3,592.5 1342.1,549.5 1389.9,609.3 1437.8,591.8 1485.6,695.3 1533.5,803.2 1581.3,758.5 1629.2,814.0 1677.0,851.6 1724.8,968.5" stroke="#EDB120"/>
<polyline points="289.6,853.8 337.4,824.4 385.2,788.2 433.1,750.5 480.9,716.2 528.8,677.1 576.6,646.4 624.5,620.1 672.3,591.6 720.1,560.1 768.0,512.0 815.8,457.1 863.7,392.5 911.5,308.7 959.4,280.9 1007.2,230.9 1055.0,208.4 1102.9,128.2 1150.7,226.6 1198.6,364.4 1246.4,532.6 1294.3,632.8 1342.1,611.8 1389.9,662.7 1437.8,692.4 1485.6,681.4 1533.5,840.0 1581.3,862.5 1629.2,882.1 1677.0,850.1 1724.8,970.7" stroke="#7E2F8E"/>
<polyline points="289.6,837.0 337.4,805.9 385.2,771.0 433.1,731.3 480.9,685.5 528.8,649.4 576.6,609.7 624.5,580.8 672.3,559.8 720.1,525.8 768.0,478.6 815.8,427.9 863.7,359.4 911.5,249.0 959.4,165.9 1007.2,140.7 1055.0,112.8 1102.9,131.3 1150.7,128.3 1198.6,283.6 1246.4,497.0 1294.3,565.6 1342.1,527.2 1389.9,538.2 1437.8,651.6 1485.6,644.0 1533.5,779.2 1581.3,758.8 1629.2,823.3 1677.0,849.9 1724.8,853.5" stroke="#77AC30"/>
<polyline points="289.6,836.9 337.4,807.0 385.2,771.0 433.1,730.7 480.9,685.2 528.8,646.0 576.6,609.0 624.5,581.1 672.3,564.2 720.1,515.1 768.0,470.3 815.8,427.4 863.7,353.9 911.5,232.5 959.4,167.4 1007.2,134.2 1055.0,102.2 1102.9,104.9 1150.7,141.4 1198.6,263.3 1246.4,487.1 1294.3,508.7 1342.1,522.3 1389.9,548.3 1437.8,602.5 1485.6,741.3 1533.5,763.6 1581.3,797.3 1629.2,763.3 1677.0,792.2 1724.8,901.8" stroke="#4DBEEE"/>
<polyline points="289.6,833.9 337.4,801.7 385.2,770.7 433.1,728.2 480.9,681.8 528.8,644.8 576.6,603.0 624.5,577.9 672.3,556.1 720.1,513.8 768.0,465.6 815.8,419.1 863.7,337.5 911.5,247.4 959.4,160.1 1007.2,122.3 1055.0,106.0 1102.9,85.4 1150.7,139.0 1198.6,240.1 1246.4,432.3 1294.3,536.3 1342.1,560.8 1389.9,550.2 1437.8,565.6 1485.6,645.9 1533.5,745.6 1581.3,788.3 1629.2,803.8 1677.0,809.8 1724.8,861.9" stroke="#A2142F"/>
<polyline points="289.6,856.6 337.4,827.3 385.2,791.7 433.1,752.0 480.9,713.5 528.8,680.0 576.6,649.1 624.5,622.6 672.3,598.5 720.1,554.6 768.0,509.8 815.8,463.8 863.7,396.5 911.5,315.2 959.4,279.3 1007.2,230.3 1055.0,168.6 1102.9,177.5 1150.7,202.8 1198.6,346.7 1246.4,485.6 1294.3,549.3 1342.1,664.3 1389.9,666.5 1437.8,637.5 1485.6,731.6 1533.5,724.8 1581.3,843.0 1629.2,881.7 1677.0,906.1 1724.8,937.4" stroke="#0072BD"/>
<polyline points="289.6,857.9 337.4,828.7 385.2,792.9 433.1,755.2 480.9,721.5 528.8,682.7 576.6,651.4 624.5,627.6 672.3,597.5 720.1,565.2 768.0,516.5 815.8,467.2 863.7,398.0 911.5,322.4 959.4,274.8 1007.2,216.2 1055.0,203.6 1102.9,143.4 1150.7,221.0 1198.6,365.5 1246.4,515.5 1294.3,626.2 1342.1,631.1 1389.9,635.3 1437.8,708.8 1485.6,684.9 1533.5,829.3 1581.3,805.9 1629.2,860.2 1677.0,914.2 1724.8,927.6" stroke="#D95319"/>
<polyline points="289.6,838.3 337.4,809.3 385.2,773.7 433.1,731.3 480.9,689.3 528.8,652.0 576.6,613.6 624.5,587.3 672.3,563.1 720.1,525.6 768.0,481.9 815.8,431.2 863.7,359.0 911.5,300.1 959.4,161.9 1007.2,143.5 1055.0,111.2 1102.9,108.8 1150.7,192.8 1198.6,270.1 1246.4,479.3 1294.3,612.0 1342.1,521.1 1389.9,544.3 1437.8,582.5 1485.6,659.2 1533.5,764.7 1581.3,765.0 1629.2,853.4 1677.0,893.8 1724.8,870.2" stroke="#EDB120"/>
<polyline points="289.6,841.2 337.4,808.9 385.2,778.1 433.1,733.8 480.9,695.7 528.8,658.5 576.6,617.8 624.5,589.9 672.3,560.0 720.1,529.2 768.0,483.8 815.8,434.3 863.7,349.0 911.5,283.5 959.4,195.5 1007.2,172.1 1055.0,135.8 1102.9,137.2 1150.7,173.9 1198.6,249.3 1246.4,483.8 1294.3,541.9 1342.1,547.2 1389.9,549.8 1437.8,583.7 1485.6,635.2 1533.5,732.2 1581.3,780.6 1629.2,766.3 1677.0,804.7 1724.8,901.3" stroke="#7E2F8E"/>
<polyline points="289.6,840.2 337.4,806.5 385.2,773.6 433.1,735.1 480.9,686.8 528.8,654.0 576.6,615.4 624.5,588.8 672.3,566.1 720.1,526.2 768.0,476.4 815.8,432.4 863.7,374.7 911.5,257.9 959.4,213.3 1007.2,194.8 1055.0,96.3 1102.9,107.8 1150.7,139.3 1198.6,269.6 1246.4,453.1 1294.3,587.0 1342.1,551.1 1389.9,596.6 1437.8,608.6 1485.6,667.8 1533.5,719.3 1581.3,814.1 1629.2,796.1 1677.0,820.7 1724.8,860.3" stroke="#77AC30"/>
<polyline points="289.6,847.4 337.4,814.9 385.2,780.8 433.1,741.2 480.9,696.6 528.8,667.8 576.6,629.1 624.5,608.1 672.3,576.5 720.1,535.2 768.0,492.6 815.8,448.2 863.7,391.0 911.5,320.9 959.4,256.4 1007.2,174.8 1055.0,141.8 1102.9,162.5 1150.7,212.9 1198.6,301.4 1246.4,479.0 1294.3,541.2 1342.1,648.1 1389.9,589.5 1437.8,673.7 1485.6,705.2 1533.5,807.0 1581.3,777.2 1629.2,847.9 1677.0,904.3 1724.8,944.0" stroke="#4DBEEE"/>
<polyline points="289.6,843.5 337.4,814.3 385.2,779.6 433.1,738.0 480.9,698.3 528.8,665.3 576.6,625.1 624.5,595.0 672.3,576.9 720.1,539.6 768.0,491.0 815.8,441.8 863.7,380.3 911.5,322.6 959.4,253.8 1007.2,128.7 1055.0,121.9 1102.9,146.0 1150.7,141.9 1198.6,328.3 1246.4,533.5 1294.3,549.0 1342.1,561.1 1389.9,648.6 1437.8,631.4 1485.6,698.5 1533.5,738.1 1581.3,778.3 1629.2,815.1 1677.0,867.0 1724.8,940.4" stroke="#A2142F"/>
<polyline points="289.6,853.7 337.4,825.9 385.2,788.6 433.1,749.6 480.9,714.0 528.8,676.0 576.6,641.2 624.5,614.1 672.3,595.3 720.1,557.9 768.0,511.6 815.8,454.3 863.7,395.0 911.5,284.4 959.4,277.4 1007.2,242.5 1055.0,188.9 1102.9,190.8 1150.7,184.1 1198.6,336.0 1246.4,543.8 1294.3,626.9 1342.1,632.4 1389.9,660.3 1437.8,688.2 1485.6,708.7 1533.5,833.8 1581.3,830.5 1629.2,877.8 1677.0,905.2 1724.8,903.2" stroke="#0072BD"/>
<polyline points="289.6,839.8 337.4,811.7 385.2,775.2 433.1,734.2 480.9,689.5 528.8,656.5 576.6,615.5 624.5,592.4 672.3,567.5 720.1,523.7 768.0,478.4 815.8,433.2 863.7,345.2 911.5,259.9 959.4,186.8 1007.2,169.7 1055.0,96.6 1102.9,120.6 1150.7,177.2 1198.6,262.3 1246.4,458.0 1294.3,574.3 1342.1,547.9 1389.9,593.6 1437.8,658.3 1485.6,618.0 1533.5,754.6 1581.3,823.4 1629.2,771.5 1677.0,832.4 1724.8,897.4" stroke="#D95319"/>
<polyline points="289.6,855.9 337.4,827.1 385.2,789.8 433.1,753.7 480.9,717.4 528.8,680.8 576.6,648.9 624.5,622.9 672.3,600.7 720.1,562.9 768.0,510.9 815.8,462.4 863.7,396.8 911.5,330.6 959.4,279.9 1007.2,247.1 1055.0,199.2 1102.9,164.7 1150.7,230.5 1198.6,330.9 1246.4,491.0 1294.3,584.2 1342.1,645.4 1389.9,588.6 1437.8,701.4 1485.6,721.6 1533.5,843.7 1581.3,849.3 1629.2,849.6 1677.0,853.6 1724.8,912.8" stroke="#EDB120"/>
<polyline points="289.6,843.5 337.4,809.4 385.2,774.6 433.1,736.5 480.9,696.3 528.8,658.9 576.6,623.3 624.5,595.5 672.3,569.1 720.1,540.5 768.0,490.2 815.8,442.0 863.7,365.0 911.5,263.2 959.4,211.5 1007.2,193.2 1055.0,142.6 1102.9,138.1 1150.7,197.5 1198.6,290.9 1246.4,469.1 1294.3,562.6 1342.1,587.6 1389.9,664.6 1437.8,713.9 1485.6,649.7 1533.5,745.0 1581.3,817.5 1629.2,783.3 1677.0,842.2 1724.8,950.9" stroke="#7E2F8E"/>
<polyline points="289.6,850.0 337.4,819.9 385.2,787.2 433.1,750.2 480.9,709.5 528.8,672.2 576.6,640.1 624.5,617.6 672.3,585.1 720.1,553.9 768.0,504.4 815.8,457.0 863.7,399.1 911.5,261.0 959.4,271.0 1007.2,217.8 1055.0,169.8 1102.9,179.8 1150.7,223.2 1198.6,362.9 1246.4,559.0 1294.3,638.3 1342.1,643.1 1389.9,665.7 1437.8,657.7 1485.6,748.6 1533.5,823.9 1581.3,872.5 1629.2,885.7 1677.0,853.9 1724.8,959.7" stroke="#77AC30"/>
<polyline points="289.6,855.7 337.4,826.7 385.2,787.0 433.1,752.6 480.9,712.5 528.8,675.8 576.6,646.1 624.5,621.4 672.3,594.2 720.1,555.9 768.0,507.3 815.8,461.0 863.7,401.5 911.5,317.6 959.4,212.8 1007.2,158.6 1055.0,136.8 1102.9,161.3 1150.7,223.4 1198.6,328.6 1246.4,508.0 1294.3,602.1 1342.1,616.2 1389.9,620.4 1437.8,636.2 1485.6,685.8 1533.5,789.6 1581.3,836.2 1629.2,829.6 1677.0,905.8 1724.8,895.3" stroke="#4DBEEE"/>
<polyline points="289.6,856.5 337.4,825.6 385.2,791.6 433.1,751.8 480.9,719.3 528.8,681.4 576.6,650.2 624.5,621.1 672.3,596.1 720.1,557.6 768.0,512.7 815.8,458.3 863.7,399.0 911.5,305.6 959.4,259.0 1007.2,219.8 1055.0,182.0 1102.9,177.2 1150.7,232.2 1198.6,345.5 1246.4,522.1 1294.3,640.9 1342.1,531.9 1389.9,614.3 1437.8,645.5 1485.6,759.4 1533.5,828.9 1581.3,865.6 1629.2,866.3 1677.0,905.5 1724.8,973.9" stroke="#A2142F"/>
<polyline points="289.6,845.8 337.4,815.7 385.2,783.4 433.1,740.7 480.9,705.5 528.8,666.7 576.6,634.0 624.5,599.0 672.3,579.8 720.1,544.2 768.0,491.4 815.8,447.3 863.7,372.4 911.5,259.0 959.4,259.5 1007.2,142.7 1055.0,145.6 1102.9,135.1 1150.7,166.5 1198.6,289.4 1246.4,440.8 1294.3,583.9 1342.1,550.5 1389.9,662.0 1437.8,613.7 1485.6,624.2 1533.5,775.7 1581.3,835.1 1629.2,857.5 1677.0,835.9 1724.8,899.4" stroke="#0072BD"/>
<polyline points="289.6,846.6 337.4,817.4 385.2,784.2 433.1,744.1 480.9,702.5 528.8,664.4 576.6,631.0 624.5,603.9 672.3,577.7 720.1,541.9 768.0,497.5 815.8,449.4 863.7,370.6 911.5,300.3 959.4,229.6 1007.2,199.9 1055.0,172.4 1102.9,163.5 1150.7,217.0 1198.6,325.3 1246.4,545.3 1294.3,587.6 1342.1,549.2 1389.9,547.5 1437.8,654.5 1485.6,692.5 1533.5,733.4 1581.3,778.0 1629.2,783.9 1677.0,908.6 1724.8,856.9" stroke="#D95319"/>
<polyline points="289.6,845.1 337.4,818.6 385.2,784.6 433.1,741.8 480.9,705.6 528.8,667.7 576.6,630.2 624.5,614.4 672.3,582.6 720.1,544.5 768.0,495.9 815.8,447.7 863.7,369.3 911.5,286.8 959.4,233.9 1007.2,195.6 1055.0,140.6 1102.9,152.1 1150.7,179.2 1198.6,327.6 1246.4,464.3 1294.3,527.4 1342.1,598.5 1389.9,638.1 1437.8,619.8 1485.6,691.2 1533.5,774.0 1581.3,826.8 1629.2,876.4 1677.0,823.3 1724.8,889.5" stroke="#EDB120"/>
<polyline points="289.6,836.0 337.4,803.2 385.2,771.7 433.1,730.7 480.9,686.2 528.8,646.4 576.6,611.3 624.5,585.9 672.3,564.9 720.1,517.5 768.0,474.6 815.8,430.9 863.7,354.8 911.5,256.5 959.4,173.4 1007.2,126.0 1055.0,96.0 1102.9,113.3 1150.7,165.8 1198.6,267.8 1246.4,453.4 1294.3,554.5 1342.1,526.7 1389.9,663.1 1437.8,593.2 1485.6,673.5 1533.5,749.4 1581.3,795.4 1629.2,820.5 1677.0,808.5 1724.8,952.1" stroke="#7E2F8E"/>
<polyline points="289.6,847.9 337.4,813.8 385.2,784.4 433.1,743.4 480.9,702.7 528.8,664.7 576.6,627.3 624.5,610.0 672.3,579.2 720.1,538.8 768.0,487.9 815.8,441.3 863.7,356.8 911.5,280.2 959.4,209.5 1007.2,160.2 1055.0,136.5 1102.9,148.6 1150.7,184.3 1198.6,291.4 1246.4,520.3 1294.3,566.6 1342.1,601.6 1389.9,596.0 1437.8,617.9 1485.6,744.3 1533.5,736.6 1581.3,757.7 1629.2,784.9 1677.0,817.5 1724.8,958.2" stroke="#77AC30"/>
<polyline points="289.6,857.4 337.4,821.0 385.2,790.3 433.1,751.1 480.9,720.6 528.8,677.8 576.6,644.5 624.5,623.2 672.3,596.6 720.1,560.9 768.0,506.2 815.8,463.9 863.7,402.8 911.5,323.8 959.4,260.1 1007.2,232.7 1055.0,185.1 1102.9,158.3 1150.7,229.0 1198.6,334.7 1246.4,555.6 1294.3,629.3 1342.1,672.5 1389.9,675.8 1437.8,718.7 1485.6,758.8 1533.5,815.4 1581.3,879.7 1629.2,893.1 1677.0,877.0 1724.8,942.9" stroke="#4DBEEE"/>
<polyline points="289.6,855.3 337.4,826.3 385.2,791.3 433.1,753.1 480.9,710.0 528.8,675.5 576.6,639.9 624.5,615.8 672.3,597.1 720.1,557.0 768.0,509.5 815.8,458.8 863.7,396.0 911.5,297.0 959.4,235.1 1007.2,239.6 1055.0,183.8 1102.9,142.2 1150.7,214.0 1198.6,351.2 1246.4,516.7 1294.3,635.1 1342.1,626.1 1389.9,662.4 1437.8,710.1 1485.6,737.2 1533.5,811.6 1581.3,872.1 1629.2,891.8 1677.0,927.8 1724.8,964.0" stroke="#A2142F"/>
<polyline points="289.6,833.1 337.4,801.8 385.2,768.1 433.1,724.2 480.9,682.2 528.8,642.8 576.6,607.8 624.5,576.8 672.3,551.6 720.1,511.1 768.0,466.9 815.8,422.8 863.7,341.8 911.5,289.0 959.4,189.9 1007.2,140.2 1055.0,120.4 1102.9,106.4 1150.7,153.7 1198.6,243.6 1246.4,424.0 1294.3,524.1 1342.1,542.2 1389.9,572.5 1437.8,627.5 1485.6,644.9 1533.5,710.0 1581.3,787.1 1629.2,824.9 1677.0,800.8 1724.8,909.5" stroke="#0072BD"/>
<polyline points="289.6,846.2 337.4,816.0 385.2,785.1 433.1,742.3 480.9,706.8 528.8,668.8 576.6,633.9 624.5,613.6 672.3,585.5 720.1,549.6 768.0,499.6 815.8,444.5 863.7,365.9 911.5,290.6 959.4,245.3 1007.2,235.3 1055.0,186.5 1102.9,151.6 1150.7,208.2 1198.6,329.1 1246.4,544.4 1294.3,618.2 1342.1,593.2 1389.9,653.0 1437.8,691.1 1485.6,702.9 1533.5,839.5 1581.3,867.3 1629.2,887.1 1677.0,889.0 1724.8,871.6" stroke="#D95319"/>
<polyline points="289.6,839.0 337.4,804.9 385.2,772.4 433.1,729.4 480.9,685.4 528.8,651.3 576.6,611.1 624.5,584.6 672.3,560.4 720.1,524.6 768.0,474.8 815.8,431.1 863.7,360.7 911.5,246.4 959.4,189.4 1007.2,162.7 1055.0,85.1 1102.9,145.2 1150.7,200.8 1198.6,256.4 1246.4,473.6 1294.3,577.4 1342.1,571.4 1389.9,614.6 1437.8,615.0 1485.6,666.8 1533.5,786.1 1581.3,807.0 1629.2,844.9 1677.0,832.2 1724.8,896.1" stroke="#EDB120"/>
<polyline points="289.6,836.5 337.4,804.5 385.2,773.1 433.1,728.1 480.9,683.3 528.8,645.5 576.6,611.4 624.5,582.8 672.3,556.2 720.1,520.4 768.0,472.1 815.8,428.8 863.7,346.7 911.5,252.5 959.4,169.1 1007.2,121.5 1055.0,137.0 1102.9,99.5 1150.7,133.9 1198.6,272.9 1246.4,478.4 1294.3,546.8 1342.1,544.3 1389.9,577.8 1437.8,612.4 1485.6,608.9 1533.5,747.9 1581.3,754.5 1629.2,863.3 1677.0,857.6 1724.8,865.3" stroke="#7E2F8E"/>
<polyline points="289.6,840.1 337.4,808.7 385.2,774.5 433.1,732.3 480.9,688.2 528.8,657.0 576.6,615.6 624.5,588.2 672.3,566.7 720.1,522.7 768.0,486.1 815.8,427.2 863.7,364.7 911.5,234.5 959.4,170.7 1007.2,130.9 1055.0,140.1 1102.9,96.1 1150.7,155.3 1198.6,238.5 1246.4,425.4 1294.3,528.4 1342.1,533.6 1389.9,595.4 1437.8,592.2 1485.6,665.6 1533.5,725.1 1581.3,747.7 1629.2,817.5 1677.0,791.1 1724.8,842.6" stroke="#77AC30"/>
<polyline points="289.6,853.5 337.4,822.7 385.2,787.3 433.1,748.6 480.9,715.3 528.8,671.6 576.6,637.9 624.5,616.6 672.3,588.2 720.1,554.9 768.0,509.0 815.8,461.9 863.7,388.8 911.5,280.6 959.4,237.4 1007.2,236.1 1055.0,181.8 1102.9,195.6 1150.7,204.6 1198.6,336.5 1246.4,573.0 1294.3,590.4 1342.1,608.1 1389.9,646.7 1437.8,692.1 1485.6,732.5 1533.5,800.0 1581.3,856.7 1629.2,865.5 1677.0,864.4 1724.8,953.5" stroke="#4DBEEE"/>
<polyline points="289.6,854.9 337.4,826.2 385.2,788.1 433.1,749.5 480.9,712.8 528.8,676.1 576.6,641.7 624.5,621.2 672.3,602.0 720.1,560.2 768.0,514.3 815.8,461.3 863.7,401.7 911.5,321.1 959.4,272.8 1007.2,229.6 1055.0,167.8 1102.9,194.2 1150.7,239.7 1198.6,351.6 1246.4,548.2 1294.3,624.6 1342.1,656.1 1389.9,683.5 1437.8,685.3 1485.6,719.1 1533.5,848.7 1581.3,883.5 1629.2,898.5 1677.0,895.0 1724.8,977.1" stroke="#A2142F"/>
<polyline points="289.6,849.1 337.4,816.5 385.2,780.6 433.1,747.0 480.9,703.8 528.8,662.1 576.6,628.2 624.5,604.9 672.3,576.3 720.1,538.2 768.0,490.9 815.8,446.3 863.7,382.0 911.5,292.1 959.4,213.0 1007.2,208.0 1055.0,154.4 1102.9,112.3 1150.7,195.7 1198.6,305.7 1246.4,473.0 1294.3,563.5 1342.1,547.6 1389.9,579.0 1437.8,620.8 1485.6,688.4 1533.5,793.1 1581.3,832.8 1629.2,825.7 1677.0,840.4 1724.8,881.6" stroke="#0072BD"/>
<polyline points="289.6,841.1 337.4,811.0 385.2,777.7 433.1,731.4 480.9,694.4 528.8,656.0 576.6,621.2 624.5,595.2 672.3,574.6 720.1,535.4 768.0,486.9 815.8,437.4 863.7,351.7 911.5,303.0 959.4,212.0 1007.2,192.6 1055.0,123.9 1102.9,149.3 1150.7,211.5 1198.6,299.3 1246.4,480.8 1294.3,603.7 1342.1,586.0 1389.9,552.7 1437.8,671.8 1485.6,640.8 1533.5,746.8 1581.3,859.1 1629.2,868.8 1677.0,848.4 1724.8,887.3" stroke="#D95319"/>
<polyline points="289.6,848.6 337.4,819.2 385.2,782.1 433.1,744.3 480.9,698.8 528.8,667.9 576.6,626.9 624.5,601.7 672.3,581.0 720.1,543.0 768.0,492.5 815.8,442.7 863.7,387.3 911.5,246.6 959.4,221.9 1007.2,173.7 1055.0,143.3 1102.9,120.2 1150.7,177.9 1198.6,294.8 1246.4,461.3 1294.3,563.8 1342.1,586.3 1389.9,597.9 1437.8,668.3 1485.6,649.1 1533.5,787.6 1581.3,801.0 1629.2,806.3 1677.0,901.7 1724.8,922.1" stroke="#EDB120"/>
<polyline points="289.6,850.5 337.4,822.3 385.2,787.4 433.1,751.3 480.9,711.4 528.8,673.1 576.6,640.6 624.5,619.5 672.3,589.1 720.1,550.8 768.0,502.6 815.8,456.5 863.7,398.8 911.5,299.6 959.4,280.4 1007.2,227.4 1055.0,164.8 1102.9,160.9 1150.7,206.6 1198.6,342.5 1246.4,465.2 1294.3,632.1 1342.1,655.3 1389.9,581.8 1437.8,608.3 1485.6,700.7 1533.5,795.4 1581.3,833.9 1629.2,811.5 1677.0,881.3 1724.8,905.7" stroke="#7E2F8E"/>
<polyline points="289.6,850.8 337.4,822.0 385.2,784.3 433.1,748.4 480.9,707.2 528.8,669.1 576.6,635.9 624.5,613.1 672.3,591.7 720.1,552.1 768.0,506.9 815.8,461.5 863.7,382.8 911.5,290.4 959.4,245.8 1007.2,157.8 1055.0,188.6 1102.9,156.8 1150.7,214.7 1198.6,321.7 1246.4,535.6 1294.3,530.3 1342.1,658.6 1389.9,609.0 1437.8,640.3 1485.6,752.6 1533.5,803.8 1581.3,859.7 1629.2,848.5 1677.0,925.1 1724.8,927.0" stroke="#77AC30"/>
<polyline points="289.6,833.2 337.4,801.0 385.2,768.3 433.1,725.1 480.9,678.3 528.8,644.5 576.6,605.6 624.5,579.2 672.3,556.6 720.1,515.7 768.0,466.3 815.8,422.3 863.7,339.3 911.5,303.4 959.4,203.9 1007.2,144.6 1055.0,91.1 1102.9,105.2 1150.7,191.5 1198.6,261.5 1246.4,444.5 1294.3,573.1 1342.1,540.8 1389.9,584.9 1437.8,601.8 1485.6,633.5 1533.5,804.1 1581.3,747.2 1629.2,832.3 1677.0,841.3 1724.8,898.8" stroke="#4DBEEE"/>
<polyline points="289.6,841.7 337.4,812.7 385.2,777.3 433.1,728.9 480.9,693.2 528.8,654.8 576.6,618.0 624.5,592.6 672.3,563.4 720.1,525.7 768.0,478.0 815.8,432.3 863.7,357.7 911.5,283.3 959.4,188.1 1007.2,131.6 1055.0,98.3 1102.9,103.2 1150.7,170.7 1198.6,256.7 1246.4,474.8 1294.3,519.9 1342.1,540.5 1389.9,568.2 1437.8,603.8 1485.6,666.2 1533.5,736.9 1581.3,755.7 1629.2,777.0 1677.0,789.3 1724.8,844.3" stroke="#A2142F"/>
<polyline points="289.6,853.3 337.4,826.3 385.2,788.7 433.1,753.4 480.9,713.7 528.8,678.3 576.6,646.2 624.5,620.9 672.3,593.5 720.1,559.1 768.0,515.0 815.8,460.8 863.7,391.4 911.5,293.4 959.4,256.6 1007.2,207.5 1055.0,172.6 1102.9,169.4 1150.7,234.8 1198.6,349.1 1246.4,517.0 1294.3,588.5 1342.1,626.4 1389.9,682.9 1437.8,676.9 1485.6,634.8 1533.5,796.9 1581.3,862.1 1629.2,839.4 1677.0,898.7 1724.8,980.0" stroke="#0072BD"/>
<polyline points="289.6,844.6 337.4,813.0 385.2,776.5 433.1,737.0 480.9,696.2 528.8,659.4 576.6,629.8 624.5,603.4 672.3,574.0 720.1,538.0 768.0,486.3 815.8,443.6 863.7,352.9 911.5,304.5 959.4,192.2 1007.2,223.5 1055.0,173.1 1102.9,133.2 1150.7,179.4 1198.6,287.4 1246.4,467.6 1294.3,543.4 1342.1,568.0 1389.9,634.0 1437.8,626.9 1485.6,722.6 1533.5,762.1 1581.3,827.1 1629.2,849.8 1677.0,872.7 1724.8,885.1" stroke="#D95319"/>
<polyline points="289.6,851.7 337.4,817.6 385.2,785.6 433.1,746.4 480.9,706.7 528.8,669.8 576.6,636.6 624.5,616.7 672.3,586.9 720.1,545.4 768.0,503.3 815.8,454.2 863.7,384.5 911.5,320.2 959.4,268.9 1007.2,145.1 1055.0,179.2 1102.9,146.2 1150.7,184.8 1198.6,312.3 1246.4,512.2 1294.3,557.9 1342.1,594.7 1389.9,576.9 1437.8,669.5 1485.6,714.0 1533.5,766.8 1581.3,822.6 1629.2,883.3 1677.0,837.3 1724.8,955.8" stroke="#EDB120"/>
<polyline points="289.6,853.2 337.4,822.9 385.2,788.3 433.1,745.5 480.9,715.1 528.8,671.2 576.6,644.9 624.5,620.0 672.3,590.1 720.1,556.0 768.0,507.7 815.8,457.3 863.7,395.7 911.5,321.4 959.4,222.7 1007.2,174.5 1055.0,200.3 1102.9,141.9 1150.7,191.2 1198.6,344.4 1246.4,518.5 1294.3,600.6 1342.1,628.6 1389.9,676.4 1437.8,698.5 1485.6,723.9 1533.5,846.1 1581.3,858.8 1629.2,866.0 1677.0,912.2 1724.8,929.2" stroke="#7E2F8E"/>
<polyline points="289.6,848.4 337.4,818.3 385.2,784.5 433.1,748.2 480.9,710.3 528.8,663.6 576.6,631.5 624.5,609.6 672.3,585.4 720.1,547.4 768.0,497.6 815.8,452.9 863.7,384.8 911.5,273.8 959.4,237.7 1007.2,215.6 1055.0,178.9 1102.9,149.7 1150.7,177.0 1198.6,347.3 1246.4,502.3 1294.3,604.3 1342.1,585.1 1389.9,679.7 1437.8,709.7 1485.6,679.5 1533.5,813.7 1581.3,816.3 1629.2,864.9 1677.0,887.0 1724.8,935.5" stroke="#77AC30"/>
<polyline points="289.6,855.8 337.4,822.3 385.2,788.8 433.1,748.1 480.9,714.7 528.8,672.6 576.6,647.7 624.5,618.1 672.3,585.6 720.1,553.6 768.0,500.2 815.8,455.8 863.7,389.1 911.5,270.0 959.4,239.2 1007.2,209.4 1055.0,185.7 1102.9,135.3 1150.7,222.9 1198.6,326.3 1246.4,489.8 1294.3,607.7 1342.1,589.1 1389.9,623.2 1437.8,695.8 1485.6,738.9 1533.5,817.2 1581.3,782.0 1629.2,823.8 1677.0,882.7 1724.8,919.1" stroke="#4DBEEE"/>
<polyline points="289.6,848.0 337.4,816.2 385.2,780.6 433.1,740.3 480.9,696.9 528.8,664.6 576.6,633.0 624.5,602.3 672.3,583.3 720.1,542.4 768.0,490.4 815.8,446.2 863.7,379.8 911.5,288.8 959.4,214.3 1007.2,187.5 1055.0,138.8 1102.9,159.4 1150.7,167.6 1198.6,303.9 1246.4,479.9 1294.3,599.9 1342.1,641.8 1389.9,567.3 1437.8,618.2 1485.6,648.1 1533.5,767.6 1581.3,838.2 1629.2,876.9 1677.0,843.3 1724.8,929.5" stroke="#A2142F"/>
<polyline points="289.6,837.1 337.4,804.6 385.2,770.8 433.1,727.6 480.9,686.4 528.8,649.7 576.6,609.5 624.5,587.5 672.3,559.0 720.1,525.0 768.0,477.1 815.8,429.3 863.7,347.9 911.5,269.8 959.4,207.9 1007.2,151.3 1055.0,105.5 1102.9,144.8 1150.7,181.7 1198.6,254.0 1246.4,458.3 1294.3,572.4 1342.1,590.4 1389.9,546.7 1437.8,605.7 1485.6,658.0 1533.5,826.5 1581.3,785.1 1629.2,815.6 1677.0,824.1 1724.8,921.3" stroke="#0072BD"/>
<polyline points="289.6,836.4 337.4,804.7 385.2,769.6 433.1,729.6 480.9,686.9 528.8,649.5 576.6,606.7 624.5,583.7 672.3,562.2 720.1,521.2 768.0,474.0 815.8,427.8 863.7,346.4 911.5,248.8 959.4,185.8 1007.2,152.4 1055.0,100.7 1102.9,96.4 1150.7,157.1 1198.6,283.1 1246.4,482.0 1294.3,610.1 1342.1,519.8 1389.9,571.6 1437.8,610.5 1485.6,627.4 1533.5,735.7 1581.3,804.7 1629.2,852.3 1677.0,808.2 1724.8,936.1" stroke="#D95319"/>
<polyline points="289.6,857.8 337.4,828.5 385.2,792.4 433.1,754.5 480.9,721.9 528.8,680.4 576.6,652.2 624.5,624.3 672.3,602.2 720.1,563.8 768.0,517.4 815.8,467.9 863.7,411.1 911.5,338.3 959.4,252.2 1007.2,213.4 1055.0,159.2 1102.9,174.0 1150.7,213.3 1198.6,362.3 1246.4,573.6 1294.3,610.8 1342.1,639.9 1389.9,616.1 1437.8,686.6 1485.6,750.3 1533.5,836.7 1581.3,839.0 1629.2,894.0 1677.0,914.6 1724.8,958.5" stroke="#EDB120"/>
<polyline points="289.6,834.8 337.4,800.9 385.2,768.4 433.1,726.2 480.9,682.6 528.8,646.2 576.6,602.1 624.5,578.1 672.3,551.8 720.1,511.4 768.0,467.5 815.8,421.5 863.7,343.7 911.5,228.3 959.4,155.5 1007.2,119.3 1055.0,130.0 1102.9,131.0 1150.7,158.2 1198.6,266.2 1246.4,443.0 1294.3,528.0 1342.1,558.3 1389.9,557.7 1437.8,573.5 1485.6,672.5 1533.5,773.4 1581.3,746.1 1629.2,791.6 1677.0,892.1 1724.8,855.4" stroke="#7E2F8E"/>
<polyline points="289.6,846.2 337.4,815.3 385.2,780.5 433.1,746.5 480.9,707.8 528.8,667.1 576.6,640.5 624.5,603.5 672.3,584.1 720.1,547.8 768.0,497.3 815.8,451.6 863.7,386.8 911.5,289.3 959.4,262.5 1007.2,233.8 1055.0,149.1 1102.9,156.1 1150.7,189.0 1198.6,293.5 1246.4,497.6 1294.3,595.9 1342.1,656.5 1389.9,606.8 1437.8,644.2 1485.6,751.7 1533.5,782.1 1581.3,860.6 1629.2,836.4 1677.0,804.0 1724.8,907.0" stroke="#77AC30"/>
<polyline points="289.6,850.2 337.4,822.4 385.2,786.7 433.1,753.6 480.9,709.4 528.8,673.5 576.6,642.3 624.5,625.0 672.3,590.2 720.1,563.0 768.0,505.4 815.8,457.7 863.7,409.2 911.5,296.1 959.4,235.4 1007.2,220.0 1055.0,198.1 1102.9,156.6 1150.7,225.5 1198.6,337.5 1246.4,488.6 1294.3,625.9 1342.1,671.9 1389.9,674.3 1437.8,663.1 1485.6,694.7 1533.5,830.3 1581.3,874.1 1629.2,841.1 1677.0,928.3 1724.8,949.5" stroke="#4DBEEE"/>
<polyline points="289.6,843.4 337.4,812.3 385.2,779.0 433.1,736.3 480.9,692.8 528.8,654.1 576.6,617.9 624.5,597.1 672.3,564.6 720.1,524.8 768.0,474.3 815.8,434.5 863.7,350.9 911.5,238.7 959.4,206.2 1007.2,154.8 1055.0,113.3 1102.9,90.5 1150.7,157.8 1198.6,244.0 1246.4,451.8 1294.3,565.0 1342.1,567.0 1389.9,545.9 1437.8,585.6 1485.6,628.1 1533.5,713.3 1581.3,761.3 1629.2,778.5 1677.0,797.8 1724.8,876.1" stroke="#A2142F"/>
<polyline points="289.6,835.9 337.4,803.8 385.2,771.6 433.1,728.5 480.9,680.8 528.8,650.1 576.6,614.6 624.5,590.0 672.3,554.3 720.1,517.6 768.0,470.0 815.8,424.2 863.7,348.5 911.5,240.8 959.4,154.9 1007.2,130.6 1055.0,146.1 1102.9,100.3 1150.7,179.7 1198.6,248.9 1246.4,470.3 1294.3,597.5 1342.1,522.9 1389.9,621.1 1437.8,647.1 1485.6,625.0 1533.5,752.9 1581.3,761.0 1629.2,797.0 1677.0,811.7 1724.8,847.1" stroke="#0072BD"/>
<polyline points="289.6,841.9 337.4,810.1 385.2,774.9 433.1,735.3 480.9,693.3 528.8,654.6 576.6,623.9 624.5,594.9 672.3,564.3 720.1,522.8 768.0,482.8 815.8,437.1 863.7,362.1 911.5,265.2 959.4,187.3 1007.2,159.2 1055.0,161.5 1102.9,152.8 1150.7,167.4 1198.6,285.1 1246.4,527.5 1294.3,543.1 1342.1,610.9 1389.9,622.3 1437.8,603.4 1485.6,678.9 1533.5,778.3 1581.3,790.3 1629.2,791.4 1677.0,856.4 1724.8,907.6" stroke="#D95319"/>
<polyline points="289.6,844.1 337.4,811.3 385.2,778.6 433.1,731.8 480.9,691.5 528.8,658.3 576.6,623.4 624.5,590.1 672.3,569.0 720.1,534.6 768.0,479.8 815.8,431.7 863.7,358.1 911.5,301.4 959.4,206.9 1007.2,177.5 1055.0,151.7 1102.9,109.7 1150.7,164.9 1198.6,268.0 1246.4,486.2 1294.3,558.2 1342.1,581.4 1389.9,568.8 1437.8,642.6 1485.6,637.2 1533.5,765.6 1581.3,841.0 1629.2,794.2 1677.0,846.4 1724.8,859.7" stroke="#EDB120"/>
<polyline points="289.6,841.3 337.4,811.6 385.2,775.9 433.1,735.3 480.9,690.5 528.8,656.6 576.6,625.7 624.5,599.6 672.3,574.8 720.1,530.1 768.0,486.7 815.8,442.5 863.7,375.2 911.5,282.0 959.4,241.5 1007.2,148.1 1055.0,150.9 1102.9,150.4 1150.7,159.6 1198.6,292.5 1246.4,548.8 1294.3,598.1 1342.1,553.0 1389.9,603.4 1437.8,637.8 1485.6,682.7 1533.5,812.2 1581.3,851.8 1629.2,879.0 1677.0,829.3 1724.8,944.8" stroke="#7E2F8E"/>
<polyline points="289.6,840.9 337.4,812.4 385.2,778.9 433.1,739.2 480.9,698.0 528.8,658.2 576.6,624.6 624.5,598.9 672.3,567.3 720.1,529.9 768.0,487.3 815.8,441.0 863.7,373.8 911.5,252.0 959.4,244.8 1007.2,175.1 1055.0,152.2 1102.9,145.0 1150.7,164.0 1198.6,280.8 1246.4,558.2 1294.3,576.5 1342.1,649.1 1389.9,562.6 1437.8,607.6 1485.6,651.9 1533.5,807.9 1581.3,807.6 1629.2,798.3 1677.0,889.3 1724.8,881.0" stroke="#77AC30"/>
<polyline points="289.6,850.6 337.4,821.2 385.2,786.3 433.1,747.9 480.9,712.1 528.8,672.2 576.6,644.0 624.5,617.3 672.3,595.7 720.1,559.9 768.0,511.7 815.8,459.8 863.7,399.7 911.5,309.1 959.4,258.2 1007.2,238.7 1055.0,204.0 1102.9,195.1 1150.7,226.9 1198.6,363.4 1246.4,493.7 1294.3,651.2 1342.1,665.3 1389.9,633.7 1437.8,705.9 1485.6,746.6 1533.5,819.3 1581.3,853.0 1629.2,867.4 1677.0,909.9 1724.8,949.3" stroke="#4DBEEE"/>
<polyline points="289.6,838.4 337.4,808.3 385.2,774.9 433.1,732.2 480.9,689.8 528.8,656.2 576.6,615.0 624.5,587.2 672.3,559.6 720.1,523.4 768.0,477.6 815.8,426.1 863.7,350.3 911.5,237.7 959.4,156.6 1007.2,125.7 1055.0,136.0 1102.9,101.3 1150.7,132.4 1198.6,259.6 1246.4,471.8 1294.3,541.5 1342.1,523.5 1389.9,588.3 1437.8,573.0 1485.6,701.0 1533.5,703.3 1581.3,750.3 1629.2,781.0 1677.0,792.8 1724.8,859.3" stroke="#A2142F"/>
<polyline points="289.6,850.9 337.4,820.3 385.2,787.9 433.1,746.4 480.9,714.6 528.8,675.5 576.6,638.6 624.5,621.6 672.3,599.0 720.1,556.8 768.0,516.1 815.8,463.2 863.7,402.0 911.5,336.1 959.4,244.6 1007.2,235.7 1055.0,178.2 1102.9,183.4 1150.7,227.5 1198.6,340.4 1246.4,551.1 1294.3,606.7 1342.1,650.2 1389.9,661.7 1437.8,665.0 1485.6,715.0 1533.5,847.3 1581.3,886.7 1629.2,879.6 1677.0,918.8 1724.8,971.5" stroke="#0072BD"/>
<polyline points="289.6,833.3 337.4,802.1 385.2,768.9 433.1,724.8 480.9,681.5 528.8,643.9 576.6,602.8 624.5,576.6 672.3,551.4 720.1,511.9 768.0,466.5 815.8,420.2 863.7,336.4 911.5,271.8 959.4,176.6 1007.2,147.0 1055.0,118.4 1102.9,130.3 1150.7,148.2 1198.6,254.3 1246.4,467.3 1294.3,502.0 1342.1,536.4 1389.9,611.5 1437.8,623.0 1485.6,639.8 1533.5,724.5 1581.3,793.1 1629.2,768.5 1677.0,802.4 1724.8,935.0" stroke="#D95319"/>
<polyline points="289.6,857.1 337.4,827.4 385.2,791.2 433.1,754.2 480.9,718.6 528.8,681.7 576.6,651.0 624.5,624.2 672.3,602.4 720.1,564.6 768.0,510.7 815.8,466.8 863.7,411.8 911.5,324.4 959.4,282.0 1007.2,231.3 1055.0,174.1 1102.9,172.8 1150.7,218.4 1198.6,331.9 1246.4,546.3 1294.3,595.6 1342.1,669.9 1389.9,651.4 1437.8,644.5 1485.6,682.4 1533.5,837.6 1581.3,852.7 1629.2,824.6 1677.0,881.0 1724.8,948.4" stroke="#EDB120"/>
<polyline points="289.6,839.7 337.4,811.1 385.2,775.3 433.1,731.8 480.9,686.7 528.8,655.5 576.6,617.4 624.5,590.8 672.3,569.7 720.1,528.7 768.0,483.4 815.8,440.6 863.7,348.7 911.5,285.7 959.4,230.1 1007.2,144.8 1055.0,189.4 1102.9,92.7 1150.7,182.8 1198.6,271.9 1246.4,449.9 1294.3,564.4 1342.1,570.8 1389.9,615.2 1437.8,627.2 1485.6,656.1 1533.5,745.9 1581.3,774.3 1629.2,828.8 1677.0,891.6 1724.8,899.9" stroke="#7E2F8E"/>
<polyline points="289.6,854.0 337.4,824.5 385.2,786.4 433.1,747.4 480.9,713.1 528.8,677.4 576.6,646.7 624.5,620.7 672.3,591.8 720.1,552.4 768.0,505.6 815.8,453.8 863.7,392.1 911.5,317.4 959.4,241.8 1007.2,166.5 1055.0,195.7 1102.9,194.7 1150.7,187.9 1198.6,308.7 1246.4,557.5 1294.3,540.3 1342.1,577.3 1389.9,643.0 1437.8,721.8 1485.6,737.5 1533.5,739.2 1581.3,881.3 1629.2,809.9 1677.0,891.8 1724.8,874.1" stroke="#77AC30"/>
<polyline points="289.6,833.4 337.4,800.7 385.2,768.2 433.1,724.1 480.9,679.1 528.8,643.5 576.6,602.6 624.5,576.4 672.3,553.1 720.1,511.6 768.0,465.4 815.8,420.6 863.7,339.1 911.5,245.4 959.4,158.7 1007.2,114.9 1055.0,89.9 1102.9,94.7 1150.7,165.2 1198.6,250.0 1246.4,436.6 1294.3,579.6 1342.1,543.3 1389.9,592.6 1437.8,662.5 1485.6,710.2 1533.5,718.9 1581.3,755.3 1629.2,776.6 1677.0,825.9 1724.8,911.1" stroke="#4DBEEE"/>
<polyline points="289.6,842.9 337.4,812.5 385.2,779.1 433.1,737.7 480.9,699.5 528.8,664.9 576.6,625.3 624.5,597.6 672.3,572.3 720.1,534.8 768.0,490.8 815.8,439.3 863.7,380.8 911.5,274.0 959.4,187.8 1007.2,169.1 1055.0,151.9 1102.9,129.6 1150.7,152.6 1198.6,300.6 1246.4,461.9 1294.3,552.4 1342.1,618.4 1389.9,629.4 1437.8,652.9 1485.6,650.4 1533.5,820.5 1581.3,794.5 1629.2,894.9 1677.0,825.6 1724.8,875.8" stroke="#A2142F"/>
<polyline points="289.6,847.5 337.4,818.4 385.2,781.2 433.1,743.7 480.9,702.1 528.8,666.2 576.6,636.0 624.5,610.5 672.3,580.6 720.1,547.0 768.0,499.8 815.8,448.7 863.7,379.5 911.5,298.8 959.4,247.1 1007.2,204.5 1055.0,210.1 1102.9,149.0 1150.7,200.2 1198.6,343.1 1246.4,543.5 1294.3,517.7 1342.1,617.1 1389.9,663.5 1437.8,675.0 1485.6,690.0 1533.5,805.5 1581.3,875.4 1629.2,868.5 1677.0,862.4 1724.8,908.1" stroke="#0072BD"/>
<polyline points="289.6,843.9 337.4,815.5 385.2,782.9 433.1,742.0 480.9,705.8 528.8,663.2 576.6,635.7 624.5,601.3 672.3,584.4 720.1,542.6 768.0,495.7 815.8,444.8 863.7,377.5 911.5,311.6 959.4,217.3 1007.2,204.0 1055.0,141.3 1102.9,111.6 1150.7,215.2 1198.6,311.0 1246.4,515.8 1294.3,640.0 1342.1,656.9 1389.9,597.3 1437.8,670.8 1485.6,743.1 1533.5,787.9 1581.3,790.0 1629.2,883.0 1677.0,927.2 1724.8,950.7" stroke="#D95319"/>
<polyline points="289.6,854.7 337.4,824.5 385.2,789.1 433.1,751.9 480.9,716.0 528.8,676.1 576.6,644.3 624.5,622.5 672.3,594.0 720.1,558.0 768.0,510.1 815.8,463.5 863.7,406.2 911.5,317.9 959.4,221.2 1007.2,237.8 1055.0,188.1 1102.9,165.4 1150.7,230.2 1198.6,337.3 1246.4,515.2 1294.3,650.6 1342.1,667.5 1389.9,542.1 1437.8,711.5 1485.6,704.8 1533.5,838.1 1581.3,792.8 1629.2,866.6 1677.0,856.7 1724.8,924.8" stroke="#EDB120"/>
<polyline points="289.6,835.1 337.4,803.5 385.2,769.5 433.1,726.4 480.9,683.1 528.8,644.6 576.6,608.8 624.5,578.8 672.3,557.6 720.1,514.8 768.0,467.7 815.8,425.3 863.7,357.6 911.5,263.8 959.4,214.6 1007.2,150.3 1055.0,110.0 1102.9,118.0 1150.7,136.5 1198.6,266.7 1246.4,442.7 1294.3,591.3 1342.1,577.6 1389.9,559.0 1437.8,606.3 1485.6,691.9 1533.5,742.7 1581.3,796.2 1629.2,822.7 1677.0,834.4 1724.8,961.0" stroke="#7E2F8E"/>
<polyline points="289.6,846.9 337.4,814.0 385.2,779.9 433.1,745.0 480.9,700.2 528.8,659.3 576.6,620.7 624.5,602.8 672.3,583.1 720.1,538.4 768.0,487.7 815.8,443.4 863.7,364.1 911.5,267.4 959.4,205.1 1007.2,155.1 1055.0,104.4 1102.9,132.5 1150.7,219.8 1198.6,267.5 1246.4,451.2 1294.3,582.3 1342.1,566.1 1389.9,586.5 1437.8,632.3 1485.6,690.6 1533.5,756.9 1581.3,816.9 1629.2,834.5 1677.0,819.5 1724.8,918.5" stroke="#77AC30"/>
<polyline points="289.6,851.3 337.4,818.7 385.2,787.5 433.1,745.2 480.9,709.9 528.8,668.6 576.6,639.5 624.5,605.6 672.3,584.2 720.1,546.1 768.0,496.8 815.8,456.3 863.7,368.4 911.5,277.5 959.4,227.5 1007.2,225.2 1055.0,156.2 1102.9,128.0 1150.7,200.4 1198.6,302.1 1246.4,490.7 1294.3,642.8 1342.1,576.7 1389.9,612.4 1437.8,661.5 1485.6,625.8 1533.5,773.1 1581.3,769.6 1629.2,772.5 1677.0,877.8 1724.8,907.9" stroke="#4DBEEE"/>
<polyline points="289.6,836.5 337.4,800.8 385.2,773.0 433.1,729.3 480.9,679.6 528.8,645.9 576.6,606.2 624.5,581.9 672.3,555.8 720.1,515.5 768.0,469.9 815.8,420.9 863.7,335.5 911.5,236.7 959.4,185.0 1007.2,123.8 1055.0,101.3 1102.9,80.9 1150.7,144.0 1198.6,257.6 1246.4,454.0 1294.3,504.4 1342.1,603.1 1389.9,575.9 1437.8,571.9 1485.6,668.4 1533.5,722.5 1581.3,783.7 1629.2,787.3 1677.0,790.5 1724.8,858.0" stroke="#A2142F"/>
<polyline points="289.6,857.6 337.4,826.9 385.2,789.7 433.1,750.7 480.9,712.7 528.8,676.4 576.6,648.2 624.5,623.1 672.3,600.2 720.1,553.0 768.0,507.2 815.8,461.7 863.7,392.7 911.5,329.7 959.4,242.3 1007.2,228.6 1055.0,166.1 1102.9,192.0 1150.7,215.4 1198.6,331.6 1246.4,553.8 1294.3,594.7 1342.1,674.6 1389.9,656.6 1437.8,679.5 1485.6,654.5 1533.5,831.1 1581.3,871.7 1629.2,825.2 1677.0,862.1 1724.8,957.9" stroke="#0072BD"/>
<polyline points="289.6,844.4 337.4,808.1 385.2,775.6 433.1,737.3 480.9,699.3 528.8,655.1 576.6,622.4 624.5,601.6 672.3,570.9 720.1,536.2 768.0,488.6 815.8,439.2 863.7,354.0 911.5,287.9 959.4,224.0 1007.2,201.3 1055.0,110.2 1102.9,152.6 1150.7,226.1 1198.6,293.2 1246.4,448.6 1294.3,584.8 1342.1,539.4 1389.9,603.1 1437.8,667.0 1485.6,697.9 1533.5,821.8 1581.3,796.5 1629.2,839.7 1677.0,885.8 1724.8,905.4" stroke="#D95319"/>
<polyline points="289.6,841.2 337.4,810.6 385.2,777.2 433.1,734.3 480.9,691.8 528.8,655.7 576.6,617.7 624.5,593.8 672.3,561.6 720.1,526.1 768.0,479.2 815.8,436.4 863.7,362.7 911.5,247.9 959.4,178.2 1007.2,142.4 1055.0,119.4 1102.9,95.8 1150.7,140.5 1198.6,266.0 1246.4,484.4 1294.3,591.0 1342.1,595.0 1389.9,545.1 1437.8,570.1 1485.6,698.8 1533.5,708.0 1581.3,769.0 1629.2,785.2 1677.0,853.0 1724.8,884.6" stroke="#EDB120"/>
<polyline points="289.6,838.2 337.4,806.3 385.2,772.1 433.1,730.5 480.9,687.6 528.8,653.2 576.6,610.2 624.5,585.8 672.3,572.0 720.1,524.4 768.0,479.7 815.8,430.5 863.7,349.2 911.5,250.9 959.4,163.6 1007.2,117.9 1055.0,98.9 1102.9,103.7 1150.7,158.5 1198.6,260.1 1246.4,460.7 1294.3,519.5 1342.1,582.0 1389.9,554.4 1437.8,606.0 1485.6,657.0 1533.5,712.4 1581.3,784.0 1629.2,774.6 1677.0,902.2 1724.8,873.0" stroke="#7E2F8E"/>
<polyline points="289.6,846.3 337.4,813.2 385.2,782.2 433.1,744.7 480.9,703.6 528.8,664.1 576.6,633.3 624.5,607.6 672.3,585.9 720.1,541.2 768.0,501.6 815.8,449.7 863.7,395.2 911.5,306.0 959.4,236.4 1007.2,227.7 1055.0,142.8 1102.9,155.4 1150.7,182.3 1198.6,339.6 1246.4,553.1 1294.3,643.3 1342.1,577.9 1389.9,641.5 1437.8,631.7 1485.6,735.8 1533.5,781.8 1581.3,788.0 1629.2,899.1 1677.0,913.5 1724.8,977.7" stroke="#77AC30"/>
<polyline points="289.6,834.3 337.4,801.4 385.2,768.6 433.1,725.4 480.9,678.1 528.8,643.0 576.6,602.3 624.5,578.3 672.3,553.4 720.1,512.1 768.0,469.2 815.8,422.5 863.7,333.9 911.5,255.2 959.4,161.5 1007.2,166.7 1055.0,122.2 1102.9,106.6 1150.7,136.1 1198.6,258.5 1246.4,472.1 1294.3,514.1 1342.1,550.8 1389.9,553.7 1437.8,581.6 1485.6,705.8 1533.5,740.7 1581.3,773.7 1629.2,788.2 1677.0,880.4 1724.8,857.6" stroke="#4DBEEE"/>
<polyline points="289.6,842.4 337.4,810.0 385.2,772.9 433.1,731.7 480.9,695.2 528.8,654.0 576.6,614.5 624.5,591.9 672.3,564.4 720.1,528.0 768.0,477.2 815.8,435.0 863.7,362.5 911.5,274.2 959.4,174.9 1007.2,136.3 1055.0,106.3 1102.9,175.0 1150.7,141.1 1198.6,273.6 1246.4,430.2 1294.3,597.2 1342.1,528.2 1389.9,564.4 1437.8,617.3 1485.6,635.8 1533.5,810.2 1581.3,793.7 1629.2,838.6 1677.0,835.0 1724.8,893.6" stroke="#A2142F"/>
<polyline points="289.6,844.2 337.4,811.2 385.2,776.6 433.1,733.8 480.9,698.4 528.8,657.3 576.6,620.5 624.5,595.6 672.3,573.9 720.1,530.2 768.0,479.4 815.8,431.9 863.7,358.7 911.5,238.1 959.4,227.8 1007.2,195.3 1055.0,87.6 1102.9,107.1 1150.7,144.8 1198.6,313.3 1246.4,455.5 1294.3,605.5 1342.1,639.3 1389.9,580.9 1437.8,621.1 1485.6,709.0 1533.5,702.7 1581.3,772.3 1629.2,795.3 1677.0,794.9 1724.8,852.6" stroke="#0072BD"/>
<polyline points="289.6,839.1 337.4,806.9 385.2,771.5 433.1,732.7 480.9,690.7 528.8,653.5 576.6,613.8 624.5,584.8 672.3,562.3 720.1,524.7 768.0,477.4 815.8,429.2 863.7,350.0 911.5,239.6 959.4,166.3 1007.2,177.2 1055.0,108.9 1102.9,91.4 1150.7,169.8 1198.6,274.9 1246.4,447.9 1294.3,536.9 1342.1,605.6 1389.9,548.7 1437.8,625.9 1485.6,709.6 1533.5,761.0 1581.3,829.7 1629.2,776.3 1677.0,829.9 1724.8,951.2" stroke="#D95319"/>
<polyline points="289.6,850.3 337.4,821.5 385.2,784.7 433.1,746.6 480.9,709.8 528.8,673.5 576.6,636.7 624.5,615.1 672.3,584.6 720.1,545.0 768.0,498.5 815.8,453.0 863.7,385.1 911.5,278.6 959.4,240.5 1007.2,212.6 1055.0,187.5 1102.9,173.8 1150.7,178.1 1198.6,323.7 1246.4,561.1 1294.3,639.2 1342.1,587.9 1389.9,639.6 1437.8,650.0 1485.6,693.1 1533.5,789.3 1581.3,854.4 1629.2,863.5 1677.0,873.3 1724.8,906.8" stroke="#EDB120"/>
<polyline points="289.6,842.7 337.4,817.5 385.2,779.9 433.1,743.2 480.9,703.5 528.8,663.7 576.6,627.8 624.5,597.3 672.3,578.7 720.1,546.9 768.0,488.9 815.8,443.8 863.7,388.6 911.5,289.5 959.4,254.5 1007.2,189.7 1055.0,163.8 1102.9,147.6 1150.7,190.8 1198.6,315.1 1246.4,540.1 1294.3,592.2 1342.1,542.6 1389.9,631.6 1437.8,711.9 1485.6,697.6 1533.5,744.5 1581.3,828.3 1629.2,804.1 1677.0,915.7 1724.8,941.5" stroke="#7E2F8E"/>
<polyline points="289.6,854.0 337.4,823.5 385.2,789.3 433.1,750.9 480.9,719.0 528.8,678.1 576.6,641.0 624.5,617.5 672.3,594.4 720.1,561.5 768.0,510.4 815.8,458.0 863.7,394.1 911.5,315.4 959.4,281.4 1007.2,200.7 1055.0,171.6 1102.9,182.9 1150.7,221.9 1198.6,355.1 1246.4,554.5 1294.3,637.5 1342.1,663.3 1389.9,642.7 1437.8,720.5 1485.6,732.2 1533.5,806.7 1581.3,847.0 1629.2,886.0 1677.0,923.6 1724.8,929.8" stroke="#77AC30"/>
<polyline points="289.6,852.0 337.4,820.9 385.2,784.5 433.1,746.7 480.9,710.5 528.8,675.3 576.6,638.3 624.5,611.2 672.3,586.3 720.1,547.9 768.0,505.2 815.8,450.9 863.7,384.6 911.5,287.5 959.4,249.6 1007.2,221.5 1055.0,190.0 1102.9,187.2 1150.7,202.6 1198.6,314.8 1246.4,556.3 1294.3,619.2 1342.1,627.7 1389.9,629.1 1437.8,683.3 1485.6,675.1 1533.5,776.6 1581.3,834.8 1629.2,865.2 1677.0,899.6 1724.8,918.3" stroke="#4DBEEE"/>
<polyline points="289.6,842.2 337.4,810.6 385.2,778.6 433.1,736.7 480.9,691.4 528.8,657.9 576.6,626.2 624.5,589.0 672.3,570.2 720.1,528.2 768.0,477.8 815.8,436.1 863.7,369.0 911.5,242.8 959.4,202.6 1007.2,188.0 1055.0,112.0 1102.9,126.3 1150.7,164.7 1198.6,255.6 1246.4,505.9 1294.3,532.2 1342.1,604.7 1389.9,543.0 1437.8,574.6 1485.6,636.2 1533.5,814.6 1581.3,800.7 1629.2,819.4 1677.0,815.7 1724.8,848.6" stroke="#A2142F"/>
<polyline points="289.6,837.4 337.4,806.0 385.2,774.7 433.1,736.2 480.9,687.3 528.8,649.2 576.6,618.1 624.5,594.3 672.3,566.9 720.1,525.1 768.0,485.0 815.8,431.9 863.7,381.7 911.5,259.6 959.4,183.0 1007.2,141.6 1055.0,184.3 1102.9,138.6 1150.7,180.3 1198.6,269.3 1246.4,494.3 1294.3,556.4 1342.1,632.7 1389.9,563.5 1437.8,684.6 1485.6,638.8 1533.5,731.9 1581.3,809.3 1629.2,823.6 1677.0,802.8 1724.8,861.3" stroke="#0072BD"/>
<polyline points="289.6,834.9 337.4,804.7 385.2,772.9 433.1,729.5 480.9,684.6 528.8,648.7 576.6,607.4 624.5,583.3 672.3,557.4 720.1,517.1 768.0,477.5 815.8,426.2 863.7,353.4 911.5,234.1 959.4,174.6 1007.2,124.6 1055.0,100.1 1102.9,99.0 1150.7,154.0 1198.6,262.8 1246.4,446.6 1294.3,597.8 1342.1,536.1 1389.9,607.5 1437.8,590.1 1485.6,619.9 1533.5,783.0 1581.3,751.8 1629.2,779.6 1677.0,844.2 1724.8,873.6" stroke="#D95319"/>
<polyline points="289.6,840.7 337.4,810.8 385.2,779.3 433.1,737.0 480.9,694.7 528.8,657.5 576.6,616.9 624.5,595.3 672.3,567.4 720.1,524.3 768.0,478.1 815.8,433.8 863.7,356.0 911.5,257.4 959.4,171.6 1007.2,158.9 1055.0,99.5 1102.9,81.4 1150.7,145.6 1198.6,286.1 1246.4,503.5 1294.3,538.1 1342.1,596.3 1389.9,592.0 1437.8,586.0 1485.6,675.7 1533.5,731.3 1581.3,769.3 1629.2,811.0 1677.0,801.2 1724.8,887.0" stroke="#EDB120"/>
<polyline points="289.6,851.8 337.4,820.8 385.2,784.4 433.1,747.0 480.9,703.0 528.8,670.2 576.6,632.8 624.5,612.6 672.3,583.6 720.1,546.6 768.0,498.8 815.8,445.8 863.7,353.6 911.5,275.6 959.4,234.1 1007.2,226.4 1055.0,155.0 1102.9,168.5 1150.7,194.6 1198.6,314.3 1246.4,540.7 1294.3,581.4 1342.1,640.5 1389.9,673.8 1437.8,702.1 1485.6,664.3 1533.5,817.5 1581.3,852.1 1629.2,872.1 1677.0,861.9 1724.8,953.2" stroke="#7E2F8E"/>
<polyline points="289.6,853.6 337.4,823.0 385.2,789.0 433.1,749.0 480.9,709.3 528.8,675.1 576.6,637.8 624.5,614.3 672.3,591.3 720.1,546.8 768.0,503.0 815.8,453.9 863.7,382.5 911.5,285.1 959.4,205.7 1007.2,187.0 1055.0,148.1 1102.9,174.5 1150.7,205.1 1198.6,344.7 1246.4,550.4 1294.3,616.4 1342.1,641.2 1389.9,608.4 1437.8,714.4 1485.6,740.3 1533.5,787.0 1581.3,828.5 1629.2,843.0 1677.0,839.9 1724.8,948.7" stroke="#77AC30"/>
<polyline points="289.6,839.2 337.4,809.4 385.2,776.1 433.1,733.5 480.9,692.6 528.8,656.9 576.6,614.3 624.5,586.5 672.3,565.6 720.1,529.7 768.0,483.1 815.8,435.7 863.7,360.4 911.5,294.8 959.4,178.5 1007.2,152.7 1055.0,180.7 1102.9,91.1 1150.7,138.4 1198.6,270.3 1246.4,477.8 1294.3,567.2 1342.1,567.4 1389.9,615.8 1437.8,681.1 1485.6,666.5 1533.5,721.1 1581.3,779.7 1629.2,804.4 1677.0,855.0 1724.8,867.9" stroke="#4DBEEE"/>
<polyline points="289.6,844.7 337.4,811.2 385.2,779.5 433.1,735.4 480.9,693.2 528.8,663.7 576.6,614.9 624.5,594.0 672.3,569.2 720.1,529.1 768.0,480.9 815.8,439.0 863.7,357.4 911.5,254.1 959.4,209.7 1007.2,156.7 1055.0,104.1 1102.9,95.0 1150.7,168.1 1198.6,294.5 1246.4,482.9 1294.3,583.6 1342.1,600.9 1389.9,556.1 1437.8,659.0 1485.6,674.4 1533.5,828.2 1581.3,817.2 1629.2,793.3 1677.0,841.9 1724.8,843.8" stroke="#A2142F"/>
<polyline points="289.6,853.9 337.4,825.6 385.2,790.0 433.1,753.0 480.9,714.2 528.8,675.4 576.6,643.1 624.5,616.1 672.3,598.8 720.1,553.2 768.0,504.9 815.8,464.9 863.7,393.1 911.5,324.1 959.4,260.3 1007.2,198.6 1055.0,177.2 1102.9,188.6 1150.7,204.4 1198.6,304.9 1246.4,450.8 1294.3,559.5 1342.1,615.6 1389.9,658.2 1437.8,706.7 1485.6,747.4 1533.5,830.0 1581.3,880.7 1629.2,847.1 1677.0,890.7 1724.8,859.0" stroke="#0072BD"/>
<polyline points="289.6,854.8 337.4,827.6 385.2,789.8 433.1,753.9 480.9,718.1 528.8,679.8 576.6,646.3 624.5,623.8 672.3,595.5 720.1,563.2 768.0,512.3 815.8,463.0 863.7,410.1 911.5,307.8 959.4,276.1 1007.2,240.5 1055.0,171.1 1102.9,165.1 1150.7,211.3 1198.6,361.9 1246.4,546.9 1294.3,631.7 1342.1,671.2 1389.9,643.3 1437.8,717.0 1485.6,734.8 1533.5,817.8 1581.3,819.7 1629.2,850.9 1677.0,932.7 1724.8,960.7" stroke="#D95319"/>
<polyline points="289.6,834.1 337.4,804.5 385.2,771.3 433.1,728.3 480.9,684.2 528.8,642.6 576.6,603.2 624.5,580.2 672.3,557.2 720.1,516.5 768.0,472.3 815.8,421.3 863.7,349.8 911.5,229.3 959.4,179.5 1007.2,145.4 1055.0,114.6 1102.9,111.2 1150.7,148.7 1198.6,257.3 1246.4,426.7 1294.3,531.6 1342.1,545.9 1389.9,573.5 1437.8,583.3 1485.6,612.0 1533.5,778.9 1581.3,744.9 1629.2,789.9 1677.0,870.7 1724.8,921.8" stroke="#EDB120"/>
<polyline points="289.6,834.8 337.4,805.7 385.2,771.3 433.1,729.6 480.9,686.6 528.8,649.5 576.6,604.4 624.5,580.3 672.3,559.4 720.1,520.2 768.0,476.0 815.8,427.3 863.7,352.2 911.5,265.6 959.4,194.2 1007.2,113.3 1055.0,142.3 1102.9,104.7 1150.7,137.1 1198.6,247.0 1246.4,437.1 1294.3,525.1 1342.1,517.1 1389.9,590.2 1437.8,568.2 1485.6,671.9 1533.5,714.6 1581.3,787.7 1629.2,825.5 1677.0,825.3 1724.8,869.4" stroke="#7E2F8E"/>
<polyline points="289.6,849.0 337.4,818.0 385.2,783.8 433.1,748.5 480.9,703.9 528.8,666.8 576.6,634.6 624.5,611.1 672.3,589.3 720.1,549.5 768.0,505.5 815.8,450.6 863.7,393.6 911.5,311.4 959.4,225.0 1007.2,207.7 1055.0,163.3 1102.9,153.3 1150.7,194.8 1198.6,350.0 1246.4,502.0 1294.3,636.3 1342.1,654.9 1389.9,659.6 1437.8,703.6 1485.6,667.5 1533.5,818.7 1581.3,869.8 1629.2,883.7 1677.0,922.7 1724.8,964.7" stroke="#77AC30"/>
<polyline points="289.6,848.5 337.4,816.9 385.2,781.9 433.1,743.0 480.9,703.4 528.8,669.4 576.6,629.5 624.5,602.2 672.3,577.4 720.1,549.1 768.0,494.6 815.8,440.8 863.7,387.4 911.5,276.4 959.4,229.3 1007.2,164.8 1055.0,159.5 1102.9,157.3 1150.7,161.4 1198.6,298.6 1246.4,450.5 1294.3,622.4 1342.1,552.0 1389.9,565.4 1437.8,595.2 1485.6,636.8 1533.5,764.1 1581.3,778.9 1629.2,839.2 1677.0,865.3 1724.8,934.1" stroke="#4DBEEE"/>
<polyline points="289.6,849.4 337.4,814.9 385.2,781.8 433.1,739.0 480.9,700.6 528.8,664.1 576.6,629.3 624.5,599.3 672.3,577.9 720.1,538.1 768.0,491.3 815.8,435.2 863.7,359.6 911.5,300.5 959.4,177.1 1007.2,162.1 1055.0,127.2 1102.9,110.7 1150.7,163.6 1198.6,290.4 1246.4,479.6 1294.3,539.1 1342.1,601.3 1389.9,625.1 1437.8,659.6 1485.6,615.4 1533.5,802.4 1581.3,806.4 1629.2,802.7 1677.0,875.3 1724.8,915.2" stroke="#A2142F"/>
<polyline points="289.6,848.2 337.4,814.6 385.2,779.4 433.1,745.0 480.9,704.7 528.8,663.8 576.6,630.1 624.5,605.5 672.3,584.5 720.1,540.0 768.0,494.8 815.8,455.1 863.7,369.2 911.5,306.3 959.4,240.7 1007.2,198.3 1055.0,186.7 1102.9,147.4 1150.7,220.5 1198.6,319.2 1246.4,494.0 1294.3,569.4 1342.1,596.0 1389.9,656.9 1437.8,703.2 1485.6,712.5 1533.5,762.7 1581.3,802.7 1629.2,846.3 1677.0,917.2 1724.8,951.5" stroke="#0072BD"/>
<polyline points="289.6,850.8 337.4,823.2 385.2,783.7 433.1,743.3 480.9,706.1 528.8,674.4 576.6,635.2 624.5,612.2 672.3,589.6 720.1,550.2 768.0,506.6 815.8,455.6 863.7,388.5 911.5,323.3 959.4,199.3 1007.2,230.6 1055.0,160.5 1102.9,146.4 1150.7,212.0 1198.6,342.8 1246.4,534.4 1294.3,622.7 1342.1,622.4 1389.9,618.3 1437.8,715.9 1485.6,748.2 1533.5,749.7 1581.3,861.5 1629.2,830.9 1677.0,863.6 1724.8,948.1" stroke="#D95319"/>
<polyline points="289.6,835.6 337.4,804.1 385.2,770.8 433.1,725.3 480.9,678.7 528.8,643.6 576.6,605.1 624.5,583.8 672.3,555.6 720.1,516.1 768.0,465.1 815.8,424.3 863.7,338.3 911.5,240.2 959.4,183.2 1007.2,146.7 1055.0,92.3 1102.9,88.1 1150.7,148.0 1198.6,245.4 1246.4,508.3 1294.3,518.4 1342.1,519.1 1389.9,564.1 1437.8,584.9 1485.6,639.1 1533.5,735.4 1581.3,814.9 1629.2,835.6 1677.0,810.8 1724.8,843.2" stroke="#EDB120"/>
<polyline points="289.6,849.7 337.4,825.4 385.2,787.6 433.1,750.8 480.9,712.6 528.8,676.7 576.6,646.6 624.5,618.4 672.3,594.8 720.1,561.9 768.0,508.6 815.8,459.6 863.7,405.4 911.5,316.1 959.4,260.9 1007.2,192.1 1055.0,196.7 1102.9,188.2 1150.7,240.7 1198.6,358.2 1246.4,547.8 1294.3,646.5 1342.1,651.2 1389.9,684.9 1437.8,707.1 1485.6,742.4 1533.5,842.6 1581.3,886.0 1629.2,892.7 1677.0,932.0 1724.8,932.5" stroke="#7E2F8E"/>
<polyline points="289.6,855.2 337.4,826.6 385.2,792.1 433.1,750.9 480.9,721.1 528.8,679.4 576.6,650.8 624.5,624.0 672.3,592.9 720.1,561.2 768.0,515.5 815.8,463.1 863.7,400.2 911.5,327.3 959.4,263.7 1007.2,224.6 1055.0,201.1 1102.9,175.5 1150.7,202.2 1198.6,342.0 1246.4,556.0 1294.3,583.0 1342.1,630.2 1389.9,668.1 1437.8,675.3 1485.6,718.8 1533.5,774.3 1581.3,878.7 1629.2,887.5 1677.0,899.9 1724.8,967.4" stroke="#77AC30"/>
<polyline points="289.6,839.7 337.4,807.3 385.2,774.1 433.1,735.9 480.9,690.7 528.8,657.1 576.6,618.6 624.5,597.2 672.3,570.7 720.1,528.4 768.0,480.7 815.8,436.9 863.7,374.4 911.5,272.5 959.4,245.1 1007.2,198.8 1055.0,126.4 1102.9,116.8 1150.7,166.7 1198.6,293.7 1246.4,506.5 1294.3,585.1 1342.1,553.6 1389.9,609.6 1437.8,633.6 1485.6,716.6 1533.5,734.0 1581.3,864.0 1629.2,836.1 1677.0,849.0 1724.8,908.4" stroke="#4DBEEE"/>
<polyline points="289.6,842.1 337.4,812.4 385.2,780.3 433.1,738.2 480.9,697.8 528.8,661.5 576.6,629.4 624.5,602.6 672.3,567.9 720.1,536.3 768.0,489.1 815.8,441.2 863.7,374.3 911.5,318.3 959.4,230.3 1007.2,182.9 1055.0,140.8 1102.9,105.4 1150.7,154.4 1198.6,278.7 1246.4,554.2 1294.3,586.4 1342.1,557.7 1389.9,598.5 1437.8,650.3 1485.6,671.0 1533.5,822.4 1581.3,833.6 1629.2,867.1 1677.0,841.0 1724.8,880.5" stroke="#A2142F"/>
<polyline points="289.6,839.6 337.4,807.8 385.2,776.0 433.1,730.0 480.9,692.4 528.8,653.3 576.6,616.1 624.5,593.1 672.3,563.8 720.1,527.4 768.0,482.2 815.8,432.6 863.7,346.0 911.5,272.7 959.4,191.4 1007.2,145.9 1055.0,130.7 1102.9,104.0 1150.7,196.1 1198.6,289.7 1246.4,533.2 1294.3,529.0 1342.1,573.6 1389.9,574.1 1437.8,597.2 1485.6,631.0 1533.5,741.3 1581.3,791.7 1629.2,790.2 1677.0,791.7 1724.8,868.2" stroke="#0072BD"/>
<polyline points="289.6,850.1 337.4,816.2 385.2,783.9 433.1,740.5 480.9,698.7 528.8,665.5 576.6,633.6 624.5,606.9 672.3,580.5 720.1,543.1 768.0,498.6 815.8,445.5 863.7,381.1 911.5,328.5 959.4,184.5 1007.2,200.5 1055.0,196.0 1102.9,109.5 1150.7,154.2 1198.6,302.9 1246.4,501.1 1294.3,637.1 1342.1,581.0 1389.9,559.7 1437.8,708.0 1485.6,692.8 1533.5,792.2 1581.3,826.3 1629.2,802.2 1677.0,847.6 1724.8,940.2" stroke="#D95319"/>
<polyline points="289.6,836.7 337.4,801.5 385.2,770.9 433.1,726.3 480.9,685.9 528.8,646.8 576.6,608.9 624.5,584.7 672.3,564.0 720.1,521.1 768.0,481.6 815.8,429.9 863.7,350.8 911.5,260.1 959.4,197.5 1007.2,150.0 1055.0,175.1 1102.9,94.4 1150.7,162.0 1198.6,275.7 1246.4,487.7 1294.3,555.1 1342.1,614.9 1389.9,552.0 1437.8,676.0 1485.6,722.3 1533.5,743.0 1581.3,821.2 1629.2,780.0 1677.0,892.4 1724.8,939.3" stroke="#EDB120"/>
<polyline points="289.6,850.4 337.4,817.0 385.2,785.7 433.1,744.5 480.9,706.4 528.8,667.4 576.6,631.1 624.5,603.0 672.3,580.7 720.1,540.7 768.0,498.2 815.8,443.2 863.7,367.0 911.5,302.7 959.4,212.5 1007.2,208.6 1055.0,162.5 1102.9,170.6 1150.7,207.5 1198.6,305.2 1246.4,492.2 1294.3,576.2 1342.1,629.6 1389.9,608.7 1437.8,707.5 1485.6,751.2 1533.5,749.1 1581.3,847.8 1629.2,793.6 1677.0,845.3 1724.8,952.6" stroke="#7E2F8E"/>
<polyline points="289.6,853.1 337.4,825.0 385.2,789.6 433.1,749.3 480.9,713.9 528.8,679.6 576.6,647.6 624.5,624.5 672.3,595.6 720.1,552.3 768.0,512.5 815.8,458.4 863.7,406.4 911.5,304.3 959.4,283.7 1007.2,183.7 1055.0,176.9 1102.9,198.7 1150.7,231.2 1198.6,354.0 1246.4,565.2 1294.3,649.3 1342.1,612.4 1389.9,657.6 1437.8,721.1 1485.6,756.1 1533.5,796.6 1581.3,866.6 1629.2,884.3 1677.0,860.4 1724.8,976.0" stroke="#77AC30"/>
<polyline points="289.6,847.9 337.4,811.8 385.2,780.3 433.1,738.5 480.9,696.9 528.8,660.9 576.6,623.0 624.5,604.4 672.3,578.6 720.1,533.5 768.0,487.0 815.8,445.6 863.7,368.9 911.5,314.5 959.4,208.4 1007.2,175.9 1055.0,148.6 1102.9,115.4 1150.7,176.8 1198.6,308.5 1246.4,571.7 1294.3,566.3 1342.1,607.5 1389.9,569.1 1437.8,633.9 1485.6,651.6 1533.5,740.1 1581.3,786.0 1629.2,795.6 1677.0,893.3 1724.8,930.8" stroke="#4DBEEE"/>
<polyline points="289.6,849.8 337.4,823.7 385.2,787.3 433.1,747.9 480.9,708.6 528.8,674.4 576.6,642.5 624.5,611.9 672.3,587.6 720.1,559.0 768.0,504.1 815.8,458.2 863.7,389.3 911.5,300.7 959.4,275.2 1007.2,196.1 1055.0,205.9 1102.9,184.0 1150.7,238.7 1198.6,343.9 1246.4,538.6 1294.3,616.7 1342.1,645.7 1389.9,679.2 1437.8,639.1 1485.6,765.2 1533.5,825.5 1581.3,842.1 1629.2,854.5 1677.0,919.6 1724.8,963.7" stroke="#A2142F"/>
<polyline points="289.6,842.2 337.4,809.6 385.2,778.3 433.1,734.8 480.9,690.1 528.8,655.2 576.6,616.2 624.5,590.4 672.3,568.3 720.1,526.5 768.0,474.1 815.8,427.0 863.7,344.1 911.5,236.0 959.4,176.0 1007.2,133.7 1055.0,151.2 1102.9,118.7 1150.7,180.8 1198.6,263.1 1246.4,455.8 1294.3,498.8 1342.1,541.2 1389.9,590.5 1437.8,572.4 1485.6,680.1 1533.5,753.4 1581.3,769.9 1629.2,790.5 1677.0,858.7 1724.8,858.7" stroke="#0072BD"/>
<polyline points="289.6,852.8 337.4,822.8 385.2,786.1 433.1,748.9 480.9,710.9 528.8,677.7 576.6,643.6 624.5,613.9 672.3,597.4 720.1,555.8 768.0,508.4 815.8,458.7 863.7,388.0 911.5,312.3 959.4,269.2 1007.2,188.9 1055.0,178.7 1102.9,165.8 1150.7,227.8 1198.6,349.4 1246.4,459.5 1294.3,630.3 1342.1,652.3 1389.9,615.5 1437.8,673.4 1485.6,724.5 1533.5,806.1 1581.3,834.2 1629.2,900.2 1677.0,891.0 1724.8,943.7" stroke="#D95319"/>
<polyline points="289.6,839.9 337.4,808.0 385.2,777.5 433.1,733.6 480.9,693.8 528.8,650.6 576.6,616.0 624.5,588.4 672.3,563.7 720.1,518.2 768.0,473.7 815.8,428.3 863.7,343.9 911.5,255.4 959.4,192.7 1007.2,154.0 1055.0,111.5 1102.9,83.2 1150.7,154.7 1198.6,241.7 1246.4,488.3 1294.3,503.3 1342.1,574.2 1389.9,528.4 1437.8,636.8 1485.6,634.1 1533.5,735.1 1581.3,759.2 1629.2,778.9 1677.0,797.3 1724.8,887.9" stroke="#EDB120"/>
<polyline points="289.6,839.2 337.4,807.1 385.2,773.8 433.1,729.8 480.9,688.0 528.8,651.5 576.6,611.0 624.5,592.2 672.3,561.7 720.1,524.9 768.0,478.2 815.8,427.6 863.7,355.0 911.5,247.1 959.4,190.4 1007.2,138.8 1055.0,113.0 1102.9,126.1 1150.7,156.2 1198.6,266.5 1246.4,545.6 1294.3,543.7 1342.1,569.5 1389.9,567.9 1437.8,615.3 1485.6,617.5 1533.5,780.4 1581.3,840.4 1629.2,780.7 1677.0,866.7 1724.8,901.6" stroke="#7E2F8E"/>
<polyline points="289.6,851.2 337.4,818.8 385.2,784.0 433.1,747.1 480.9,713.3 528.8,674.7 576.6,642.9 624.5,609.8 672.3,586.7 720.1,549.2 768.0,507.4 815.8,451.2 863.7,381.2 911.5,318.1 959.4,243.5 1007.2,177.0 1055.0,187.8 1102.9,112.6 1150.7,198.6 1198.6,324.2 1246.4,500.2 1294.3,598.4 1342.1,633.3 1389.9,591.1 1437.8,682.4 1485.6,690.9 1533.5,783.5 1581.3,807.3 1629.2,847.4 1677.0,874.1 1724.8,928.1" stroke="#77AC30"/>
<polyline points="289.6,838.7 337.4,807.9 385.2,774.9 433.1,736.3 480.9,691.9 528.8,653.0 576.6,618.5 624.5,593.3 672.3,565.9 720.1,527.1 768.0,486.6 815.8,434.6 863.7,361.1 911.5,244.1 959.4,196.2 1007.2,120.6 1055.0,122.9 1102.9,132.9 1150.7,141.7 1198.6,267.2 1246.4,475.1 1294.3,578.6 1342.1,575.4 1389.9,551.6 1437.8,593.5 1485.6,657.3 1533.5,754.3 1581.3,772.8 1629.2,792.2 1677.0,846.7 1724.8,909.2" stroke="#4DBEEE"/>
<polyline points="289.6,836.7 337.4,803.4 385.2,769.4 433.1,728.8 480.9,684.5 528.8,646.1 576.6,606.8 624.5,582.4 672.3,563.6 720.1,514.2 768.0,469.7 815.8,426.9 863.7,336.7 911.5,237.4 959.4,181.4 1007.2,127.1 1055.0,98.6 1102.9,98.5 1150.7,135.8 1198.6,271.6 1246.4,435.7 1294.3,512.8 1342.1,544.6 1389.9,555.1 1437.8,630.1 1485.6,655.1 1533.5,728.6 1581.3,762.4 1629.2,775.5 1677.0,851.9 1724.8,856.5" stroke="#A2142F"/>
<polyline points="289.6,837.2 337.4,801.6 385.2,771.5 433.1,726.8 480.9,679.4 528.8,642.3 576.6,608.3 624.5,583.4 672.3,556.8 720.1,512.6 768.0,475.7 815.8,423.6 863.7,338.6 911.5,251.8 959.4,164.0 1007.2,170.0 1055.0,104.7 1102.9,95.3 1150.7,146.8 1198.6,248.2 1246.4,460.4 1294.3,593.5 1342.1,593.5 1389.9,601.6 1437.8,622.4 1485.6,641.4 1533.5,785.3 1581.3,779.5 1629.2,827.1 1677.0,824.7 1724.8,863.2" stroke="#0072BD"/>
<polyline points="289.6,853.8 337.4,826.5 385.2,788.6 433.1,752.5 480.9,719.8 528.8,678.5 576.6,643.9 624.5,620.5 672.3,600.0 720.1,556.2 768.0,513.1 815.8,460.5 863.7,406.9 911.5,310.7 959.4,275.6 1007.2,220.3 1055.0,187.3 1102.9,146.9 1150.7,199.0 1198.6,325.8 1246.4,530.5 1294.3,605.8 1342.1,608.7 1389.9,650.5 1437.8,650.9 1485.6,729.3 1533.5,756.0 1581.3,833.4 1629.2,840.3 1677.0,895.3 1724.8,882.9" stroke="#D95319"/>
<polyline points="289.6,836.8 337.4,802.1 385.2,772.1 433.1,726.7 480.9,687.2 528.8,646.5 576.6,609.9 624.5,582.3 672.3,557.7 720.1,513.4 768.0,469.1 815.8,420.0 863.7,343.0 911.5,235.6 959.4,188.4 1007.2,142.9 1055.0,106.5 1102.9,90.1 1150.7,147.5 1198.6,244.9 1246.4,443.8 1294.3,523.4 1342.1,568.9 1389.9,561.0 1437.8,591.1 1485.6,622.5 1533.5,707.4 1581.3,762.0 1629.2,788.8 1677.0,823.0 1724.8,849.1" stroke="#EDB120"/>
<polyline points="289.6,833.5 337.4,800.3 385.2,769.8 433.1,724.9 480.9,682.8 528.8,643.1 576.6,603.8 624.5,577.7 672.3,555.2 720.1,519.5 768.0,467.3 815.8,421.1 863.7,354.2 911.5,276.7 959.4,216.6 1007.2,121.9 1055.0,148.4 1102.9,97.2 1150.7,178.8 1198.6,242.6 1246.4,456.5 1294.3,500.1 1342.1,556.8 1389.9,617.4 1437.8,618.9 1485.6,674.8 1533.5,772.0 1581.3,809.0 1629.2,789.1 1677.0,813.3 1724.8,877.7" stroke="#7E2F8E"/>
<polyline points="289.6,855.2 337.4,827.5 385.2,791.6 433.1,753.8 480.9,720.4 528.8,680.2 576.6,648.5 624.5,626.3 672.3,600.6 720.1,565.0 768.0,514.6 815.8,467.7 863.7,409.8 911.5,333.0 959.4,282.5 1007.2,206.4 1055.0,146.9 1102.9,173.0 1150.7,236.9 1198.6,352.2 1246.4,481.1 1294.3,605.2 1342.1,629.9 1389.9,680.3 1437.8,696.8 1485.6,762.5 1533.5,810.5 1581.3,857.6 1629.2,874.1 1677.0,894.4 1724.8,867.4" stroke="#77AC30"/>
<polyline points="289.6,847.6 337.4,821.3 385.2,784.2 433.1,747.2 480.9,703.7 528.8,671.1 576.6,635.4 624.5,605.0 672.3,589.7 720.1,549.3 768.0,501.9 815.8,458.9 863.7,398.6 911.5,296.5 959.4,277.9 1007.2,178.6 1055.0,165.0 1102.9,145.7 1150.7,201.5 1198.6,351.9 1246.4,552.8 1294.3,643.8 1342.1,657.4 1389.9,655.3 1437.8,666.3 1485.6,728.7 1533.5,798.3 1581.3,849.0 1629.2,862.7 1677.0,916.4 1724.8,931.4" stroke="#4DBEEE"/>
<polyline points="289.6,843.4 337.4,811.4 385.2,777.4 433.1,737.2 480.9,691.7 528.8,659.8 576.6,622.1 624.5,596.2 672.3,570.8 720.1,531.7 768.0,482.6 815.8,433.3 863.7,358.2 911.5,297.9 959.4,190.9 1007.2,147.8 1055.0,133.3 1102.9,93.6 1150.7,175.9 1198.6,295.5 1246.4,537.4 1294.3,573.4 1342.1,606.5 1389.9,574.4 1437.8,599.5 1485.6,617.0 1533.5,822.7 1581.3,784.3 1629.2,795.9 1677.0,837.9 1724.8,912.2" stroke="#A2142F"/>
<polyline points="289.6,838.1 337.4,806.4 385.2,774.1 433.1,734.5 480.9,684.7 528.8,652.3 576.6,608.1 624.5,588.6 672.3,562.9 720.1,525.9 768.0,473.5 815.8,428.5 863.7,357.0 911.5,229.8 959.4,177.9 1007.2,139.1 1055.0,91.9 1102.9,121.1 1150.7,147.3 1198.6,283.3 1246.4,483.2 1294.3,550.5 1342.1,583.8 1389.9,580.3 1437.8,586.4 1485.6,606.8 1533.5,760.7 1581.3,793.4 1629.2,787.0 1677.0,824.4 1724.8,860.7" stroke="#0072BD"/>
<polyline points="289.6,852.5 337.4,822.5 385.2,786.9 433.1,747.3 480.9,712.6 528.8,671.4 576.6,639.7 624.5,619.3 672.3,593.6 720.1,558.4 768.0,513.4 815.8,461.6 863.7,405.2 911.5,326.8 959.4,264.0 1007.2,220.9 1055.0,198.8 1102.9,189.7 1150.7,201.1 1198.6,353.3 1246.4,564.2 1294.3,623.3 1342.1,573.9 1389.9,648.9 1437.8,614.7 1485.6,742.0 1533.5,786.4 1581.3,873.3 1629.2,843.8 1677.0,924.1 1724.8,978.2" stroke="#D95319"/>
<polyline points="289.6,846.6 337.4,818.6 385.2,785.6 433.1,742.2 480.9,701.6 528.8,670.2 576.6,634.7 624.5,610.8 672.3,589.2 720.1,543.8 768.0,506.1 815.8,452.5 863.7,390.2 911.5,336.5 959.4,264.9 1007.2,215.9 1055.0,132.8 1102.9,191.2 1150.7,202.4 1198.6,350.9 1246.4,535.3 1294.3,641.9 1342.1,592.5 1389.9,640.5 1437.8,689.2 1485.6,712.1 1533.5,738.4 1581.3,879.2 1629.2,884.7 1677.0,883.6 1724.8,953.8" stroke="#EDB120"/>
<polyline points="289.6,853.9 337.4,824.0 385.2,789.2 433.1,749.1 480.9,711.5 528.8,670.9 576.6,640.0 624.5,613.7 672.3,592.7 720.1,547.3 768.0,502.0 815.8,456.1 863.7,397.5 911.5,291.9 959.4,257.9 1007.2,171.8 1055.0,195.4 1102.9,135.5 1150.7,213.1 1198.6,312.0 1246.4,448.2 1294.3,562.3 1342.1,660.4 1389.9,628.2 1437.8,597.9 1485.6,646.5 1533.5,792.5 1581.3,820.0 1629.2,837.2 1677.0,854.4 1724.8,921.5" stroke="#7E2F8E"/>
<polyline points="289.6,849.8 337.4,818.2 385.2,781.0 433.1,743.5 480.9,705.7 528.8,669.6 576.6,637.2 624.5,607.0 672.3,587.3 720.1,543.2 768.0,499.2 815.8,447.1 863.7,382.6 911.5,260.7 959.4,214.8 1007.2,211.8 1055.0,170.6 1102.9,161.8 1150.7,177.4 1198.6,289.9 1246.4,477.5 1294.3,564.1 1342.1,604.4 1389.9,570.7 1437.8,630.4 1485.6,658.3 1533.5,704.5 1581.3,764.0 1629.2,818.6 1677.0,836.2 1724.8,915.0" stroke="#77AC30"/>
<polyline points="289.6,845.3 337.4,819.3 385.2,782.8 433.1,743.5 480.9,701.7 528.8,668.4 576.6,631.7 624.5,609.2 672.3,577.1 720.1,543.3 768.0,496.9 815.8,450.0 863.7,385.9 911.5,298.5 959.4,234.6 1007.2,157.3 1055.0,113.8 1102.9,178.5 1150.7,217.2 1198.6,295.0 1246.4,445.5 1294.3,618.6 1342.1,625.5 1389.9,589.2 1437.8,638.4 1485.6,676.7 1533.5,798.0 1581.3,801.3 1629.2,864.6 1677.0,869.3 1724.8,932.2" stroke="#4DBEEE"/>
<polyline points="289.6,856.7 337.4,828.3 385.2,789.9 433.1,755.6 480.9,718.0 528.8,682.0 576.6,652.0 624.5,627.2 672.3,601.1 720.1,566.4 768.0,517.6 815.8,465.5 863.7,409.5 911.5,335.7 959.4,276.5 1007.2,191.5 1055.0,192.0 1102.9,180.4 1150.7,218.6 1198.6,335.0 1246.4,557.8 1294.3,633.6 1342.1,597.2 1389.9,612.1 1437.8,691.5 1485.6,742.8 1533.5,815.2 1581.3,821.7 1629.2,860.8 1677.0,901.9 1724.8,925.1" stroke="#A2142F"/>
<polyline points="289.6,848.6 337.4,820.7 385.2,786.0 433.1,746.9 480.9,708.0 528.8,668.6 576.6,635.1 624.5,608.3 672.3,580.4 720.1,547.6 768.0,497.4 815.8,443.5 863.7,372.9 911.5,285.5 959.4,237.2 1007.2,145.7 1055.0,131.2 1102.9,159.0 1150.7,187.5 1198.6,320.7 1246.4,514.9 1294.3,508.2 1342.1,521.7 1389.9,665.3 1437.8,609.2 1485.6,627.0 1533.5,766.2 1581.3,788.6 1629.2,829.9 1677.0,871.3 1724.8,888.7" stroke="#0072BD"/>
<polyline points="289.6,835.5 337.4,800.6 385.2,768.5 433.1,724.5 480.9,679.9 528.8,643.3 576.6,605.4 624.5,579.3 672.3,554.7 720.1,517.9 768.0,466.7 815.8,419.8 863.7,334.9 911.5,242.5 959.4,235.9 1007.2,134.8 1055.0,125.2 1102.9,115.0 1150.7,143.5 1198.6,265.4 1246.4,497.9 1294.3,509.7 1342.1,531.1 1389.9,622.6 1437.8,599.9 1485.6,653.8 1533.5,734.8 1581.3,752.7 1629.2,818.1 1677.0,813.9 1724.8,871.1" stroke="#D95319"/>
<polyline points="289.6,840.3 337.4,808.6 385.2,772.8 433.1,728.6 480.9,688.1 528.8,647.1 576.6,611.6 624.5,581.2 672.3,560.2 720.1,519.0 768.0,476.2 815.8,429.4 863.7,361.3 911.5,244.9 959.4,163.2 1007.2,124.2 1055.0,93.5 1102.9,84.5 1150.7,148.9 1198.6,254.6 1246.4,440.4 1294.3,507.7 1342.1,558.0 1389.9,533.0 1437.8,589.0 1485.6,608.2 1533.5,716.6 1581.3,800.5 1629.2,778.2 1677.0,811.4 1724.8,874.7" stroke="#EDB120"/>
<polyline points="289.6,849.5 337.4,816.1 385.2,782.8 433.1,739.7 480.9,705.5 528.8,666.0 576.6,632.1 624.5,605.7 672.3,577.8 720.1,550.1 768.0,492.1 815.8,446.1 863.7,375.7 911.5,299.0 959.4,180.9 1007.2,231.6 1055.0,135.0 1102.9,143.8 1150.7,189.5 1198.6,306.7 1246.4,560.7 1294.3,647.6 1342.1,646.1 1389.9,540.7 1437.8,671.1 1485.6,728.3 1533.5,748.2 1581.3,869.4 1629.2,865.7 1677.0,827.9 1724.8,902.9" stroke="#7E2F8E"/>
<polyline points="289.6,847.2 337.4,814.5 385.2,781.3 433.1,745.4 480.9,710.4 528.8,671.0 576.6,637.0 624.5,616.5 672.3,590.8 720.1,549.8 768.0,500.4 815.8,454.9 863.7,371.3 911.5,280.0 959.4,232.6 1007.2,199.1 1055.0,207.9 1102.9,168.9 1150.7,186.1 1198.6,336.2 1246.4,477.2 1294.3,630.7 1342.1,673.9 1389.9,676.9 1437.8,717.6 1485.6,715.3 1533.5,795.7 1581.3,869.1 1629.2,846.6 1677.0,836.4 1724.8,965.1" stroke="#77AC30"/>
<polyline points="289.6,848.0 337.4,815.5 385.2,782.9 433.1,746.1 480.9,705.1 528.8,665.9 576.6,630.9 624.5,604.2 672.3,586.4 720.1,545.5 768.0,498.4 815.8,449.5 863.7,380.6 911.5,270.9 959.4,224.5 1007.2,211.3 1055.0,166.3 1102.9,163.0 1150.7,214.5 1198.6,354.3 1246.4,493.4 1294.3,625.6 1342.1,548.9 1389.9,639.9 1437.8,649.7 1485.6,670.3 1533.5,785.9 1581.3,816.6 1629.2,789.4 1677.0,876.4 1724.8,917.7" stroke="#4DBEEE"/>
<polyline points="289.6,853.7 337.4,823.5 385.2,788.9 433.1,748.0 480.9,717.7 528.8,675.7 576.6,642.4 624.5,615.9 672.3,590.0 720.1,555.3 768.0,508.0 815.8,460.7 863.7,399.5 911.5,310.3 959.4,253.0 1007.2,206.1 1055.0,163.0 1102.9,170.8 1150.7,236.5 1198.6,311.8 1246.4,513.1 1294.3,596.2 1342.1,573.3 1389.9,672.9 1437.8,630.7 1485.6,741.7 1533.5,843.1 1581.3,819.5 1629.2,856.7 1677.0,830.7 1724.8,930.0" stroke="#A2142F"/>
<polyline points="289.6,840.5 337.4,811.0 385.2,774.6 433.1,734.0 480.9,691.1 528.8,656.4 576.6,622.3 624.5,595.7 672.3,566.6 720.1,532.9 768.0,484.4 815.8,436.5 863.7,365.3 911.5,303.2 959.4,191.2 1007.2,118.4 1055.0,128.5 1102.9,101.0 1150.7,142.2 1198.6,260.9 1246.4,519.1 1294.3,568.1 1342.1,524.0 1389.9,543.4 1437.8,576.6 1485.6,648.4 1533.5,785.0 1581.3,770.5 1629.2,831.8 1677.0,845.0 1724.8,891.2" stroke="#0072BD"/>
<polyline points="289.6,844.3 337.4,810.2 385.2,776.7 433.1,735.2 480.9,695.5 528.8,658.7 576.6,617.1 624.5,593.0 672.3,567.1 720.1,532.8 768.0,487.4 815.8,433.5 863.7,376.4 911.5,258.5 959.4,204.4 1007.2,153.8 1055.0,139.3 1102.9,117.6 1150.7,165.6 1198.6,292.0 1246.4,494.6 1294.3,556.1 1342.1,553.9 1389.9,582.1 1437.8,660.2 1485.6,654.2 1533.5,724.1 1581.3,797.1 1629.2,853.7 1677.0,879.6 1724.8,861.6" stroke="#D95319"/>
<polyline points="289.6,841.8 337.4,811.5 385.2,777.4 433.1,730.9 480.9,689.9 528.8,652.3 576.6,620.3 624.5,591.1 672.3,565.5 720.1,531.0 768.0,481.7 815.8,434.4 863.7,367.3 911.5,294.3 959.4,184.2 1007.2,120.2 1055.0,93.8 1102.9,113.8 1150.7,157.6 1198.6,272.6 1246.4,508.9 1294.3,540.0 1342.1,533.2 1389.9,624.5 1437.8,568.9 1485.6,610.2 1533.5,779.8 1581.3,830.2 1629.2,844.1 1677.0,806.1 1724.8,903.7" stroke="#EDB120"/>
<polyline points="289.6,842.7 337.4,812.9 385.2,779.2 433.1,736.0 480.9,693.7 528.8,655.6 576.6,620.2 624.5,593.2 672.3,573.0 720.1,534.5 768.0,493.0 815.8,439.5 863.7,362.8 911.5,269.6 959.4,231.1 1007.2,133.1 1055.0,116.1 1102.9,131.8 1150.7,169.4 1198.6,274.7 1246.4,544.1 1294.3,581.7 1342.1,600.0 1389.9,627.2 1437.8,644.8 1485.6,696.3 1533.5,823.3 1581.3,786.9 1629.2,833.1 1677.0,827.6 1724.8,928.9" stroke="#7E2F8E"/>
<polyline points="289.6,842.0 337.4,805.9 385.2,775.7 433.1,733.7 480.9,693.5 528.8,653.2 576.6,618.4 624.5,589.2 672.3,565.1 720.1,522.6 768.0,480.4 815.8,433.4 863.7,347.5 911.5,281.3 959.4,232.1 1007.2,178.3 1055.0,115.1 1102.9,124.4 1150.7,187.2 1198.6,276.2 1246.4,485.9 1294.3,534.7 1342.1,578.2 1389.9,626.9 1437.8,598.2 1485.6,668.1 1533.5,727.6 1581.3,760.3 1629.2,803.6 1677.0,821.0 1724.8,896.9" stroke="#77AC30"/>
<polyline points="289.6,856.4 337.4,824.8 385.2,790.8 433.1,753.5 480.9,718.2 528.8,681.1 576.6,640.3 624.5,624.7 672.3,599.8 720.1,560.5 768.0,503.5 815.8,464.7 863.7,395.8 911.5,337.8 959.4,269.6 1007.2,195.9 1055.0,158.0 1102.9,172.3 1150.7,231.9 1198.6,345.0 1246.4,512.5 1294.3,551.1 1342.1,596.6 1389.9,649.9 1437.8,673.1 1485.6,656.4 1533.5,805.8 1581.3,846.7 1629.2,850.4 1677.0,885.3 1724.8,927.3" stroke="#4DBEEE"/>
<polyline points="289.6,835.8 337.4,803.0 385.2,768.8 433.1,725.7 480.9,680.2 528.8,648.5 576.6,604.6 624.5,585.7 672.3,552.5 720.1,521.9 768.0,473.3 815.8,423.1 863.7,353.3 911.5,236.4 959.4,175.7 1007.2,117.5 1055.0,114.3 1102.9,116.6 1150.7,174.5 1198.6,264.4 1246.4,441.9 1294.3,539.4 1342.1,548.5 1389.9,624.8 1437.8,625.0 1485.6,614.3 1533.5,794.2 1581.3,772.5 1629.2,781.7 1677.0,820.1 1724.8,851.8" stroke="#A2142F"/>
<polyline points="289.6,836.1 337.4,801.1 385.2,769.8 433.1,726.1 480.9,687.1 528.8,648.2 576.6,607.7 624.5,586.4 672.3,563.0 720.1,523.9 768.0,476.5 815.8,429.1 863.7,343.2 911.5,245.2 959.4,181.6 1007.2,169.4 1055.0,116.6 1102.9,127.7 1150.7,193.3 1198.6,255.3 1246.4,476.6 1294.3,516.9 1342.1,518.5 1389.9,610.9 1437.8,622.7 1485.6,635.5 1533.5,768.5 1581.3,749.3 1629.2,887.8 1677.0,873.8 1724.8,884.0" stroke="#0072BD"/>
<polyline points="289.6,850.3 337.4,818.7 385.2,781.9 433.1,745.3 480.9,707.3 528.8,666.1 576.6,639.0 624.5,614.9 672.3,588.7 720.1,555.2 768.0,503.2 815.8,450.5 863.7,403.0 911.5,312.9 959.4,254.0 1007.2,187.2 1055.0,131.7 1102.9,163.9 1150.7,200.6 1198.6,335.7 1246.4,490.1 1294.3,553.0 1342.1,582.3 1389.9,618.6 1437.8,626.2 1485.6,740.6 1533.5,804.7 1581.3,799.0 1629.2,858.9 1677.0,857.0 1724.8,959.1" stroke="#D95319"/>
<polyline points="289.6,846.3 337.4,813.2 385.2,780.2 433.1,740.3 480.9,697.1 528.8,661.0 576.6,630.4 624.5,600.0 672.3,574.9 720.1,536.1 768.0,488.3 815.8,440.5 863.7,345.0 911.5,248.6 959.4,179.8 1007.2,136.5 1055.0,108.7 1102.9,173.3 1150.7,174.7 1198.6,287.1 1246.4,464.0 1294.3,526.1 1342.1,573.0 1389.9,603.8 1437.8,607.9 1485.6,716.9 1533.5,772.3 1581.3,744.3 1629.2,881.4 1677.0,806.8 1724.8,894.7" stroke="#EDB120"/>
<polyline points="289.6,839.5 337.4,805.4 385.2,772.8 433.1,734.0 480.9,687.4 528.8,658.0 576.6,618.3 624.5,589.5 672.3,569.4 720.1,531.4 768.0,480.5 815.8,429.6 863.7,368.1 911.5,280.9 959.4,165.2 1007.2,196.7 1055.0,114.1 1102.9,98.0 1150.7,151.5 1198.6,304.7 1246.4,549.1 1294.3,617.3 1342.1,594.1 1389.9,588.9 1437.8,663.8 1485.6,673.8 1533.5,763.9 1581.3,803.3 1629.2,827.4 1677.0,813.0 1724.8,880.7" stroke="#7E2F8E"/>
<polyline points="289.6,856.2 337.4,828.1 385.2,791.2 433.1,755.4 480.9,721.7 528.8,677.9 576.6,650.1 624.5,626.1 672.3,598.4 720.1,566.9 768.0,509.1 815.8,465.7 863.7,404.7 911.5,316.7 959.4,256.9 1007.2,199.4 1055.0,190.6 1102.9,196.6 1150.7,204.0 1198.6,356.2 1246.4,568.3 1294.3,650.0 1342.1,630.8 1389.9,674.8 1437.8,619.5 1485.6,757.7 1533.5,772.5 1581.3,877.7 1629.2,894.5 1677.0,903.1 1724.8,939.1" stroke="#77AC30"/>
<polyline points="289.6,854.7 337.4,825.5 385.2,789.3 433.1,751.7 480.9,715.2 528.8,680.5 576.6,648.0 624.5,620.8 672.3,599.7 720.1,559.3 768.0,511.4 815.8,462.7 863.7,398.3 911.5,333.7 959.4,271.3 1007.2,247.7 1055.0,184.1 1102.9,198.2 1150.7,201.3 1198.6,349.7 1246.4,554.9 1294.3,538.7 1342.1,661.8 1389.9,647.7 1437.8,632.0 1485.6,757.1 1533.5,834.6 1581.3,824.6 1629.2,873.8 1677.0,901.4 1724.8,923.7" stroke="#4DBEEE"/>
<polyline points="289.6,841.9 337.4,806.5 385.2,777.0 433.1,732.1 480.9,693.6 528.8,659.3 576.6,619.5 624.5,587.4 672.3,567.2 720.1,525.4 768.0,482.0 815.8,436.3 863.7,342.8 911.5,231.6 959.4,182.7 1007.2,138.5 1055.0,94.2 1102.9,110.9 1150.7,152.2 1198.6,270.6 1246.4,466.4 1294.3,512.0 1342.1,621.2 1389.9,589.9 1437.8,588.6 1485.6,694.4 1533.5,717.0 1581.3,745.5 1629.2,800.5 1677.0,804.3 1724.8,850.0" stroke="#A2142F"/>
<polyline points="289.6,836.2 337.4,802.3 385.2,770.4 433.1,729.1 480.9,679.2 528.8,647.4 576.6,608.4 624.5,585.4 672.3,558.3 720.1,519.4 768.0,473.9 815.8,426.0 863.7,338.8 911.5,238.4 959.4,170.4 1007.2,134.5 1055.0,109.4 1102.9,105.7 1150.7,173.6 1198.6,261.2 1246.4,454.3 1294.3,544.6 1342.1,556.5 1389.9,558.4 1437.8,666.0 1485.6,665.9 1533.5,802.1 1581.3,809.8 1629.2,800.8 1677.0,889.6 1724.8,878.3" stroke="#0072BD"/>
<polyline points="289.6,844.3 337.4,814.8 385.2,780.5 433.1,736.7 480.9,698.2 528.8,660.6 576.6,625.4 624.5,597.8 672.3,575.1 720.1,529.6 768.0,495.2 815.8,445.2 863.7,380.5 911.5,301.6 959.4,193.7 1007.2,185.1 1055.0,207.4 1102.9,117.8 1150.7,218.8 1198.6,296.8 1246.4,446.9 1294.3,570.3 1342.1,635.2 1389.9,586.8 1437.8,674.0 1485.6,709.3 1533.5,816.9 1581.3,806.7 1629.2,852.6 1677.0,879.0 1724.8,928.7" stroke="#D95319"/>
<polyline points="289.6,849.6 337.4,816.3 385.2,782.6 433.1,745.6 480.9,708.4 528.8,669.3 576.6,635.3 624.5,607.9 672.3,580.3 720.1,548.4 768.0,498.1 815.8,448.1 863.7,378.6 911.5,298.3 959.4,197.0 1007.2,164.0 1055.0,150.7 1102.9,108.3 1150.7,197.9 1198.6,297.3 1246.4,494.9 1294.3,606.4 1342.1,563.3 1389.9,631.9 1437.8,633.3 1485.6,720.4 1533.5,815.7 1581.3,873.7 1629.2,880.2 1677.0,868.7 1724.8,869.6" stroke="#EDB120"/>
<polyline points="289.6,843.7 337.4,814.1 385.2,777.5 433.1,735.8 480.9,692.6 528.8,658.6 576.6,622.0 624.5,593.6 672.3,565.0 720.1,529.4 768.0,484.5 815.8,437.8 863.7,359.1 911.5,268.3 959.4,194.5 1007.2,149.2 1055.0,129.7 1102.9,137.0 1150.7,147.7 1198.6,259.3 1246.4,499.1 1294.3,555.5 1342.1,628.3 1389.9,622.0 1437.8,643.9 1485.6,659.9 1533.5,790.5 1581.3,807.8 1629.2,796.4 1677.0,795.4 1724.8,854.6" stroke="#7E2F8E"/>
<polyline points="289.6,848.7 337.4,821.3 385.2,784.9 433.1,742.7 480.9,704.9 528.8,666.9 576.6,630.3 624.5,607.8 672.3,579.3 720.1,542.3 768.0,499.3 815.8,452.4 863.7,383.9 911.5,269.4 959.4,237.9 1007.2,163.8 1055.0,189.2 1102.9,119.2 1150.7,185.0 1198.6,287.6 1246.4,532.0 1294.3,568.7 1342.1,560.5 1389.9,573.8 1437.8,598.9 1485.6,652.9 1533.5,771.4 1581.3,772.0 1629.2,799.2 1677.0,864.1 1724.8,942.6" stroke="#77AC30"/>
<polyline points="289.6,851.0 337.4,823.4 385.2,786.6 433.1,747.8 480.9,713.8 528.8,669.4 576.6,641.3 624.5,608.5 672.3,583.4 720.1,551.1 768.0,498.3 815.8,448.9 863.7,387.6 911.5,281.1 959.4,266.7 1007.2,244.1 1055.0,195.1 1102.9,165.6 1150.7,191.0 1198.6,314.6 1246.4,539.2 1294.3,522.4 1342.1,648.4 1389.9,556.8 1437.8,632.7 1485.6,688.1 1533.5,801.8 1581.3,844.1 1629.2,875.2 1677.0,858.4 1724.8,963.0" stroke="#4DBEEE"/>
<polyline points="289.6,849.9 337.4,822.1 385.2,785.1 433.1,749.8 480.9,709.3 528.8,672.7 576.6,643.5 624.5,615.5 672.3,590.9 720.1,555.7 768.0,500.8 815.8,456.7 863.7,389.0 911.5,295.7 959.4,250.4 1007.2,188.3 1055.0,173.6 1102.9,187.9 1150.7,220.3 1198.6,356.6 1246.4,549.4 1294.3,595.0 1342.1,614.6 1389.9,605.0 1437.8,662.8 1485.6,753.1 1533.5,809.9 1581.3,867.0 1629.2,895.4 1677.0,853.3 1724.8,931.7" stroke="#A2142F"/>
<polyline points="289.6,834.4 337.4,805.5 385.2,772.7 433.1,730.1 480.9,685.1 528.8,649.0 576.6,610.7 624.5,588.9 672.3,555.0 720.1,523.8 768.0,479.3 815.8,427.5 863.7,350.6 911.5,264.1 959.4,202.1 1007.2,116.0 1055.0,116.8 1102.9,125.4 1150.7,134.3 1198.6,276.4 1246.4,456.2 1294.3,554.2 1342.1,584.8 1389.9,544.7 1437.8,666.6 1485.6,647.8 1533.5,759.2 1581.3,783.4 1629.2,853.9 1677.0,902.8 1724.8,898.5" stroke="#0072BD"/>
<polyline points="289.6,852.0 337.4,823.7 385.2,788.5 433.1,748.7 480.9,708.8 528.8,671.8 576.6,637.6 624.5,616.9 672.3,589.4 720.1,554.4 768.0,502.4 815.8,455.0 863.7,400.7 911.5,308.3 959.4,266.4 1007.2,161.9 1055.0,159.0 1102.9,139.8 1150.7,168.7 1198.6,304.2 1246.4,526.6 1294.3,589.7 1342.1,633.6 1389.9,566.3 1437.8,645.2 1485.6,685.5 1533.5,813.4 1581.3,799.9 1629.2,833.7 1677.0,877.3 1724.8,875.0" stroke="#D95319"/>
<polyline points="289.6,833.7 337.4,800.5 385.2,769.3 433.1,726.8 480.9,681.7 528.8,643.8 576.6,604.9 624.5,577.5 672.3,552.0 720.1,518.6 768.0,468.6 815.8,421.8 863.7,345.3 911.5,234.9 959.4,201.1 1007.2,112.1 1055.0,87.1 1102.9,87.3 1150.7,144.6 1198.6,248.6 1246.4,452.4 1294.3,560.4 1342.1,543.6 1389.9,610.2 1437.8,611.2 1485.6,651.0 1533.5,719.7 1581.3,776.6 1629.2,799.7 1677.0,815.4 1724.8,875.5" stroke="#EDB120"/>
<polyline points="289.6,834.0 337.4,803.1 385.2,769.0 433.1,724.6 480.9,682.0 528.8,642.5 576.6,607.1 624.5,579.5 672.3,554.0 720.1,514.4 768.0,465.8 815.8,426.7 863.7,339.6 911.5,262.7 959.4,168.1 1007.2,129.7 1055.0,83.4 1102.9,99.8 1150.7,127.3 1198.6,246.2 1246.4,526.9 1294.3,533.8 1342.1,529.2 1389.9,583.7 1437.8,591.5 1485.6,647.5 1533.5,715.4 1581.3,790.5 1629.2,788.5 1677.0,846.2 1724.8,885.4" stroke="#7E2F8E"/>
<polyline points="289.6,837.1 337.4,804.3 385.2,772.7 433.1,727.7 480.9,686.3 528.8,650.0 576.6,613.1 624.5,578.6 672.3,558.4 720.1,522.0 768.0,476.6 815.8,422.1 863.7,339.8 911.5,247.6 959.4,218.4 1007.2,132.2 1055.0,102.4 1102.9,100.8 1150.7,184.6 1198.6,237.3 1246.4,465.8 1294.3,499.5 1342.1,543.9 1389.9,581.2 1437.8,624.6 1485.6,620.3 1533.5,708.5 1581.3,776.0 1629.2,779.3 1677.0,803.2 1724.8,882.7" stroke="#77AC30"/>
<polyline points="289.6,834.4 337.4,803.9 385.2,769.4 433.1,725.0 480.9,678.9 528.8,645.4 576.6,609.6 624.5,578.4 672.3,552.2 720.1,517.8 768.0,470.2 815.8,424.9 863.7,342.0 911.5,268.5 959.4,195.0 1007.2,162.9 1055.0,89.4 1102.9,122.1 1150.7,199.7 1198.6,268.5 1246.4,463.4 1294.3,530.6 1342.1,561.4 1389.9,562.2 1437.8,604.4 1485.6,672.9 1533.5,713.7 1581.3,795.1 1629.2,807.9 1677.0,849.3 1724.8,891.4" stroke="#4DBEEE"/>
<polyline points="289.6,848.2 337.4,820.0 385.2,783.9 433.1,742.2 480.9,705.4 528.8,670.6 576.6,633.4 624.5,616.0 672.3,590.7 720.1,548.1 768.0,500.5 815.8,454.8 863.7,394.9 911.5,327.0 959.4,273.6 1007.2,237.0 1055.0,158.2 1102.9,160.6 1150.7,211.1 1198.6,338.8 1246.4,481.4 1294.3,572.8 1342.1,639.0 1389.9,651.1 1437.8,698.9 1485.6,760.6 1533.5,835.4 1581.3,839.9 1629.2,867.7 1677.0,896.4 1724.8,962.3" stroke="#A2142F"/>
<polyline points="289.6,839.4 337.4,809.1 385.2,773.4 433.1,735.6 480.9,695.1 528.8,654.5 576.6,621.6 624.5,592.3 672.3,566.3 720.1,528.1 768.0,482.3 815.8,436.6 863.7,356.5 911.5,282.8 959.4,220.9 1007.2,149.7 1055.0,124.7 1102.9,105.9 1150.7,164.5 1198.6,286.9 1246.4,529.9 1294.3,517.3 1342.1,588.2 1389.9,626.6 1437.8,655.7 1485.6,684.6 1533.5,774.6 1581.3,765.3 1629.2,824.4 1677.0,888.1 1724.8,924.3" stroke="#0072BD"/>
<polyline points="289.6,850.7 337.4,819.7 385.2,781.7 433.1,743.1 480.9,700.9 528.8,666.5 576.6,627.2 624.5,604.8 672.3,579.0 720.1,543.4 768.0,489.4 815.8,442.9 863.7,367.8 911.5,262.3 959.4,172.3 1007.2,135.7 1055.0,156.0 1102.9,126.6 1150.7,188.6 1198.6,283.8 1246.4,469.4 1294.3,551.4 1342.1,623.3 1389.9,642.4 1437.8,596.2 1485.6,729.6 1533.5,767.3 1581.3,843.6 1629.2,811.8 1677.0,814.5 1724.8,868.8" stroke="#D95319"/>
<polyline points="289.6,842.6 337.4,816.4 385.2,777.3 433.1,739.2 480.9,696.4 528.8,662.6 576.6,627.5 624.5,601.9 672.3,575.0 720.1,537.3 768.0,492.3 815.8,438.5 863.7,363.0 911.5,262.5 959.4,162.8 1007.2,179.1 1055.0,130.2 1102.9,178.3 1150.7,171.6 1198.6,292.2 1246.4,441.2 1294.3,590.1 1342.1,599.1 1389.9,630.9 1437.8,602.1 1485.6,650.0 1533.5,770.8 1581.3,808.1 1629.2,786.4 1677.0,827.3 1724.8,944.6" stroke="#EDB120"/>
<polyline points="289.6,837.3 337.4,803.7 385.2,772.2 433.1,730.6 480.9,682.4 528.8,647.9 576.6,613.7 624.5,581.8 672.3,563.3 720.1,519.6 768.0,475.6 815.8,427.1 863.7,360.2 911.5,233.7 959.4,169.8 1007.2,119.8 1055.0,112.5 1102.9,93.8 1150.7,185.4 1198.6,253.7 1246.4,504.1 1294.3,523.1 1342.1,591.0 1389.9,556.4 1437.8,577.6 1485.6,650.7 1533.5,709.5 1581.3,771.1 1629.2,841.6 1677.0,895.6 1724.8,865.9" stroke="#7E2F8E"/>
<polyline points="289.6,834.2 337.4,802.2 385.2,769.1 433.1,728.7 480.9,683.5 528.8,644.2 576.6,607.9 624.5,576.1 672.3,558.7 720.1,516.3 768.0,471.9 815.8,425.2 863.7,334.6 911.5,243.9 959.4,177.7 1007.2,148.4 1055.0,84.0 1102.9,89.8 1150.7,131.5 1198.6,262.0 1246.4,445.2 1294.3,600.3 1342.1,545.6 1389.9,533.7 1437.8,628.8 1485.6,633.8 1533.5,727.0 1581.3,771.4 1629.2,818.4 1677.0,814.8 1724.8,848.1" stroke="#77AC30"/>
<polyline points="289.6,842.1 337.4,811.5 385.2,771.7 433.1,735.2 480.9,689.7 528.8,653.8 576.6,622.7 624.5,594.6 672.3,572.2 720.1,530.3 768.0,472.6 815.8,428.0 863.7,354.7 911.5,275.3 959.4,198.0 1007.2,171.6 1055.0,180.2 1102.9,134.8 1150.7,167.2 1198.6,247.8 1246.4,532.3 1294.3,511.5 1342.1,610.3 1389.9,530.5 1437.8,564.8 1485.6,644.6 1533.5,759.5 1581.3,752.3 1629.2,773.3 1677.0,821.5 1724.8,844.9" stroke="#4DBEEE"/>
<polyline points="289.6,851.6 337.4,819.0 385.2,788.1 433.1,747.7 480.9,714.1 528.8,672.0 576.6,642.1 624.5,617.7 672.3,593.3 720.1,555.4 768.0,507.8 815.8,459.0 863.7,382.3 911.5,321.9 959.4,246.8 1007.2,226.1 1055.0,164.5 1102.9,121.3 1150.7,228.1 1198.6,353.6 1246.4,556.7 1294.3,573.7 1342.1,644.4 1389.9,660.6 1437.8,698.2 1485.6,703.6 1533.5,841.5 1581.3,876.7 1629.2,842.2 1677.0,911.8 1724.8,979.4" stroke="#A2142F"/>
<polyline points="289.6,840.5 337.4,807.6 385.2,777.6 433.1,735.8 480.9,691.2 528.8,657.6 576.6,619.6 624.5,595.1 672.3,571.5 720.1,527.3 768.0,479.1 815.8,437.7 863.7,366.2 911.5,261.8 959.4,198.3 1007.2,208.8 1055.0,165.5 1102.9,140.3 1150.7,160.7 1198.6,310.0 1246.4,456.8 1294.3,555.8 1342.1,546.6 1389.9,627.5 1437.8,642.0 1485.6,725.1 1533.5,741.9 1581.3,810.1 1629.2,792.5 1677.0,796.9 1724.8,866.8" stroke="#0072BD"/>
<polyline points="289.6,847.7 337.4,812.7 385.2,778.7 433.1,740.1 480.9,700.7 528.8,661.8 576.6,630.7 624.5,598.2 672.3,575.9 720.1,539.7 768.0,487.1 815.8,440.7 863.7,355.3 911.5,259.2 959.4,210.7 1007.2,131.9 1055.0,111.8 1102.9,99.3 1150.7,146.1 1198.6,294.2 1246.4,483.5 1294.3,505.5 1342.1,541.5 1389.9,619.8 1437.8,681.7 1485.6,621.2 1533.5,752.6 1581.3,792.0 1629.2,790.8 1677.0,834.2 1724.8,864.7" stroke="#D95319"/>
<polyline points="289.6,841.6 337.4,806.6 385.2,775.2 433.1,734.7 480.9,694.0 528.8,652.7 576.6,617.3 624.5,588.3 672.3,564.8 720.1,527.9 768.0,482.4 815.8,435.4 863.7,350.1 911.5,304.1 959.4,186.0 1007.2,167.3 1055.0,137.5 1102.9,141.0 1150.7,170.1 1198.6,282.0 1246.4,471.5 1294.3,545.9 1342.1,590.1 1389.9,598.8 1437.8,646.4 1485.6,618.9 1533.5,809.0 1581.3,825.7 1629.2,830.4 1677.0,874.7 1724.8,886.2" stroke="#EDB120"/>
<polyline points="289.6,855.6 337.4,825.8 385.2,790.5 433.1,750.1 480.9,712.0 528.8,671.8 576.6,645.6 624.5,614.5 672.3,589.9 720.1,557.3 768.0,506.0 815.8,455.7 863.7,384.0 911.5,316.3 959.4,204.1 1007.2,189.4 1055.0,185.4 1102.9,184.3 1150.7,196.4 1198.6,326.0 1246.4,523.0 1294.3,548.3 1342.1,647.1 1389.9,644.3 1437.8,693.1 1485.6,726.7 1533.5,765.0 1581.3,845.6 1629.2,890.5 1677.0,878.4 1724.8,902.4" stroke="#7E2F8E"/>
<polyline points="289.6,849.4 337.4,823.8 385.2,782.7 433.1,746.9 480.9,711.3 528.8,669.0 576.6,643.2 624.5,615.4 672.3,591.9 720.1,551.7 768.0,499.0 815.8,457.8 863.7,388.3 911.5,288.6 959.4,238.7 1007.2,189.9 1055.0,169.1 1102.9,124.9 1150.7,212.2 1198.6,317.1 1246.4,523.6 1294.3,590.7 1342.1,636.1 1389.9,602.2 1437.8,713.4 1485.6,749.0 1533.5,793.7 1581.3,815.5 1629.2,806.9 1677.0,870.1 1724.8,964.4" stroke="#77AC30"/>
<polyline points="289.6,845.0 337.4,817.2 385.2,781.2 433.1,740.6 480.9,700.0 528.8,660.7 576.6,626.1 624.5,601.4 672.3,576.4 720.1,539.2 768.0,492.0 815.8,438.3 863.7,372.7 911.5,271.4 959.4,183.7 1007.2,178.1 1055.0,136.3 1102.9,101.5 1150.7,195.9 1198.6,300.3 1246.4,482.3 1294.3,542.8 1342.1,595.3 1389.9,565.7 1437.8,564.1 1485.6,660.8 1533.5,739.8 1581.3,764.7 1629.2,799.4 1677.0,812.3 1724.8,881.8" stroke="#4DBEEE"/>
<polyline points="289.6,842.8 337.4,810.7 385.2,775.8 433.1,734.5 480.9,699.0 528.8,657.4 576.6,622.8 624.5,597.5 672.3,572.7 720.1,541.1 768.0,496.1 815.8,440.0 863.7,383.7 911.5,310.5 959.4,189.6 1007.2,168.1 1055.0,199.5 1102.9,166.8 1150.7,183.2 1198.6,297.0 1246.4,489.5 1294.3,582.0 1342.1,645.1 1389.9,655.0 1437.8,683.0 1485.6,715.9 1533.5,747.6 1581.3,794.8 1629.2,885.0 1677.0,849.6 1724.8,890.9" stroke="#A2142F"/>
<polyline points="289.6,846.5 337.4,815.1 385.2,779.7 433.1,741.4 480.9,703.7 528.8,661.7 576.6,619.9 624.5,597.4 672.3,571.2 720.1,537.6 768.0,484.7 815.8,443.9 863.7,365.2 911.5,244.4 959.4,208.7 1007.2,196.4 1055.0,130.5 1102.9,127.3 1150.7,153.3 1198.6,301.9 1246.4,455.2 1294.3,591.6 1342.1,560.2 1389.9,613.0 1437.8,655.4 1485.6,686.5 1533.5,714.2 1581.3,751.3 1629.2,791.9 1677.0,811.1 1724.8,910.6" stroke="#0072BD"/>
<polyline points="289.6,848.5 337.4,818.3 385.2,782.3 433.1,741.2 480.9,705.2 528.8,669.0 576.6,632.2 624.5,603.3 672.3,584.0 720.1,542.7 768.0,492.9 815.8,447.5 863.7,378.0 911.5,293.9 959.4,274.4 1007.2,234.2 1055.0,152.4 1102.9,170.1 1150.7,168.5 1198.6,278.5 1246.4,510.1 1294.3,611.1 1342.1,562.4 1389.9,630.6 1437.8,641.0 1485.6,638.5 1533.5,754.9 1581.3,798.8 1629.2,809.3 1677.0,896.1 1724.8,928.4" stroke="#D95319"/>
<polyline points="289.6,850.2 337.4,817.6 385.2,779.7 433.1,741.5 480.9,708.7 528.8,670.4 576.6,633.1 624.5,601.8 672.3,581.8 720.1,544.0 768.0,493.7 815.8,446.8 863.7,387.9 911.5,291.0 959.4,226.5 1007.2,186.2 1055.0,175.9 1102.9,108.5 1150.7,175.4 1198.6,296.5 1246.4,453.7 1294.3,621.1 1342.1,665.9 1389.9,611.8 1437.8,651.3 1485.6,738.5 1533.5,754.0 1581.3,812.4 1629.2,801.1 1677.0,861.0 1724.8,978.8" stroke="#EDB120"/>
<polyline points="289.6,848.3 337.4,817.0 385.2,782.4 433.1,741.5 480.9,707.4 528.8,665.2 576.6,632.6 624.5,606.3 672.3,582.4 720.1,543.5 768.0,490.0 815.8,448.3 863.7,377.4 911.5,303.8 959.4,219.6 1007.2,159.7 1055.0,154.2 1102.9,136.5 1150.7,181.0 1198.6,324.5 1246.4,522.7 1294.3,540.9 1342.1,630.5 1389.9,606.5 1437.8,685.9 1485.6,721.0 1533.5,819.9 1581.3,802.4 1629.2,830.1 1677.0,868.4 1724.8,855.8" stroke="#7E2F8E"/>
<polyline points="289.6,854.1 337.4,821.2 385.2,791.0 433.1,752.0 480.9,719.6 528.8,677.5 576.6,642.8 624.5,625.2 672.3,593.4 720.1,563.4 768.0,508.7 815.8,462.6 863.7,407.5 911.5,330.0 959.4,252.7 1007.2,232.3 1055.0,177.9 1102.9,160.2 1150.7,221.2 1198.6,343.3 1246.4,459.8 1294.3,631.0 1342.1,644.1 1389.9,625.4 1437.8,704.4 1485.6,736.2 1533.5,841.0 1581.3,813.5 1629.2,837.0 1677.0,904.9 1724.8,965.5" stroke="#77AC30"/>
<polyline points="289.6,852.3 337.4,823.6 385.2,788.0 433.1,750.0 480.9,715.0 528.8,671.7 576.6,641.1 624.5,621.7 672.3,597.0 720.1,565.4 768.0,512.4 815.8,465.9 863.7,403.7 911.5,340.2 959.4,271.7 1007.2,197.2 1055.0,180.5 1102.9,183.7 1150.7,231.5 1198.6,339.9 1246.4,572.3 1294.3,638.7 1342.1,649.8 1389.9,597.0 1437.8,691.8 1485.6,702.0 1533.5,846.7 1581.3,867.7 1629.2,897.5 1677.0,930.1 1724.8,935.2" stroke="#4DBEEE"/>
<polyline points="289.6,837.5 337.4,804.0 385.2,774.5 433.1,729.0 480.9,683.2 528.8,649.3 576.6,610.6 624.5,584.2 672.3,557.8 720.1,519.9 768.0,473.0 815.8,428.4 863.7,333.2 911.5,232.0 959.4,181.1 1007.2,117.0 1055.0,103.6 1102.9,79.9 1150.7,149.9 1198.6,258.2 1246.4,427.9 1294.3,545.6 1342.1,578.6 1389.9,585.8 1437.8,593.9 1485.6,649.4 1533.5,736.0 1581.3,756.5 1629.2,787.6 1677.0,822.1 1724.8,899.1" stroke="#A2142F"/>
<polyline points="289.6,837.7 337.4,804.3 385.2,774.7 433.1,734.3 480.9,685.7 528.8,652.2 576.6,618.2 624.5,596.1 672.3,565.7 720.1,533.1 768.0,484.9 815.8,438.1 863.7,348.4 911.5,231.2 959.4,199.8 1007.2,138.2 1055.0,155.5 1102.9,115.9 1150.7,189.2 1198.6,279.2 1246.4,538.3 1294.3,574.9 1342.1,554.6 1389.9,654.3 1437.8,682.1 1485.6,668.7 1533.5,760.1 1581.3,843.3 1629.2,890.1 1677.0,868.1 1724.8,924.6" stroke="#0072BD"/>
<polyline points="289.6,835.2 337.4,803.3 385.2,771.9 433.1,727.3 480.9,684.1 528.8,645.8 576.6,608.2 624.5,579.0 672.3,553.6 720.1,520.0 768.0,470.5 815.8,422.6 863.7,347.7 911.5,255.6 959.4,171.0 1007.2,140.5 1055.0,107.6 1102.9,82.3 1150.7,138.7 1198.6,257.0 1246.4,430.7 1294.3,510.6 1342.1,532.8 1389.9,577.2 1437.8,578.1 1485.6,637.8 1533.5,743.9 1581.3,792.5 1629.2,770.1 1677.0,815.1 1724.8,863.5" stroke="#D95319"/>
</g>
<g font-size="67">
<text x="267.3" y="1191.5" text-anchor="end">0</text><text x="265.5" y="1005.8" text-anchor="end">0.02</text><text x="265.5" y="820.0" text-anchor="end">0.04</text><text x="265.5" y="634.3" text-anchor="end">0.06</text><text x="265.5" y="448.6" text-anchor="end">0.08</text><text x="266.4" y="262.8" text-anchor="end">0.1</text><text x="265.5" y="77.1" text-anchor="end">0.12</text>
<text x="287.1" y="1251.5" text-anchor="middle">400</text><text x="765.5" y="1251.5" text-anchor="middle">500</text><text x="1243.9" y="1251.5" text-anchor="middle">600</text><text x="1722.3" y="1251.5" text-anchor="middle">700</text>
</g>
<text x="1006.5" y="1344.9" font-size="73.7" text-anchor="middle">Wavelength (nm)</text>
<text transform="translate(83.9 611.6) rotate(-90)" font-size="73.7" text-anchor="middle">Reflectance</text>
</svg>
</body></html>
